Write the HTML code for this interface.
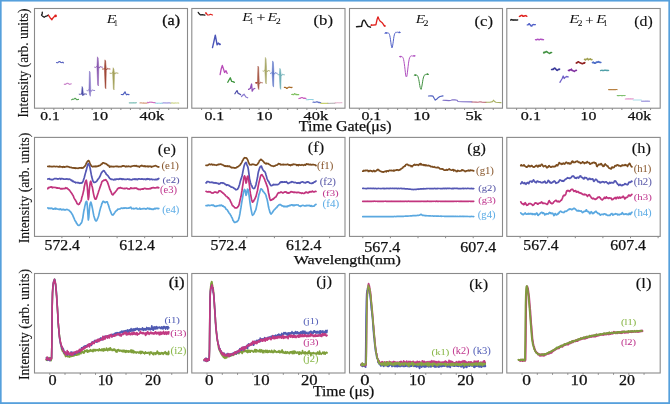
<!DOCTYPE html>
<html><head><meta charset="utf-8"><style>
html,body{margin:0;padding:0;background:#fff;overflow:hidden;}
svg{display:block;will-change:transform;font-family:"Liberation Serif",serif;}
</style></head><body>
<svg width="670" height="404" viewBox="0 0 670 404">
<rect x="0" y="0" width="670" height="404" fill="#ffffff"/>
<rect x="34.5" y="8.5" width="153.00" height="99.70" fill="#fff" stroke="#8a8a8a" stroke-width="1.1"/>
<line x1="44.30" y1="108.2" x2="44.30" y2="110.0" stroke="#8a8a8a" stroke-width="1"/>
<line x1="53.87" y1="108.2" x2="53.87" y2="110.0" stroke="#8a8a8a" stroke-width="1"/>
<line x1="63.44" y1="108.2" x2="63.44" y2="110.0" stroke="#8a8a8a" stroke-width="1"/>
<line x1="73.01" y1="108.2" x2="73.01" y2="110.0" stroke="#8a8a8a" stroke-width="1"/>
<line x1="82.58" y1="108.2" x2="82.58" y2="110.0" stroke="#8a8a8a" stroke-width="1"/>
<line x1="92.15" y1="108.2" x2="92.15" y2="110.0" stroke="#8a8a8a" stroke-width="1"/>
<line x1="101.72" y1="108.2" x2="101.72" y2="110.0" stroke="#8a8a8a" stroke-width="1"/>
<line x1="111.29" y1="108.2" x2="111.29" y2="110.0" stroke="#8a8a8a" stroke-width="1"/>
<line x1="120.86" y1="108.2" x2="120.86" y2="110.0" stroke="#8a8a8a" stroke-width="1"/>
<line x1="130.43" y1="108.2" x2="130.43" y2="110.0" stroke="#8a8a8a" stroke-width="1"/>
<line x1="140.00" y1="108.2" x2="140.00" y2="110.0" stroke="#8a8a8a" stroke-width="1"/>
<line x1="149.57" y1="108.2" x2="149.57" y2="110.0" stroke="#8a8a8a" stroke-width="1"/>
<line x1="159.14" y1="108.2" x2="159.14" y2="110.0" stroke="#8a8a8a" stroke-width="1"/>
<line x1="168.71" y1="108.2" x2="168.71" y2="110.0" stroke="#8a8a8a" stroke-width="1"/>
<line x1="178.28" y1="108.2" x2="178.28" y2="110.0" stroke="#8a8a8a" stroke-width="1"/>
<rect x="191.8" y="8.5" width="153.20" height="99.70" fill="#fff" stroke="#8a8a8a" stroke-width="1.1"/>
<line x1="201.60" y1="108.2" x2="201.60" y2="110.0" stroke="#8a8a8a" stroke-width="1"/>
<line x1="211.17" y1="108.2" x2="211.17" y2="110.0" stroke="#8a8a8a" stroke-width="1"/>
<line x1="220.74" y1="108.2" x2="220.74" y2="110.0" stroke="#8a8a8a" stroke-width="1"/>
<line x1="230.31" y1="108.2" x2="230.31" y2="110.0" stroke="#8a8a8a" stroke-width="1"/>
<line x1="239.88" y1="108.2" x2="239.88" y2="110.0" stroke="#8a8a8a" stroke-width="1"/>
<line x1="249.45" y1="108.2" x2="249.45" y2="110.0" stroke="#8a8a8a" stroke-width="1"/>
<line x1="259.02" y1="108.2" x2="259.02" y2="110.0" stroke="#8a8a8a" stroke-width="1"/>
<line x1="268.59" y1="108.2" x2="268.59" y2="110.0" stroke="#8a8a8a" stroke-width="1"/>
<line x1="278.16" y1="108.2" x2="278.16" y2="110.0" stroke="#8a8a8a" stroke-width="1"/>
<line x1="287.73" y1="108.2" x2="287.73" y2="110.0" stroke="#8a8a8a" stroke-width="1"/>
<line x1="297.30" y1="108.2" x2="297.30" y2="110.0" stroke="#8a8a8a" stroke-width="1"/>
<line x1="306.87" y1="108.2" x2="306.87" y2="110.0" stroke="#8a8a8a" stroke-width="1"/>
<line x1="316.44" y1="108.2" x2="316.44" y2="110.0" stroke="#8a8a8a" stroke-width="1"/>
<line x1="326.01" y1="108.2" x2="326.01" y2="110.0" stroke="#8a8a8a" stroke-width="1"/>
<line x1="335.58" y1="108.2" x2="335.58" y2="110.0" stroke="#8a8a8a" stroke-width="1"/>
<rect x="349.5" y="8.5" width="153.00" height="99.70" fill="#fff" stroke="#8a8a8a" stroke-width="1.1"/>
<line x1="359.30" y1="108.2" x2="359.30" y2="110.0" stroke="#8a8a8a" stroke-width="1"/>
<line x1="368.87" y1="108.2" x2="368.87" y2="110.0" stroke="#8a8a8a" stroke-width="1"/>
<line x1="378.44" y1="108.2" x2="378.44" y2="110.0" stroke="#8a8a8a" stroke-width="1"/>
<line x1="388.01" y1="108.2" x2="388.01" y2="110.0" stroke="#8a8a8a" stroke-width="1"/>
<line x1="397.58" y1="108.2" x2="397.58" y2="110.0" stroke="#8a8a8a" stroke-width="1"/>
<line x1="407.15" y1="108.2" x2="407.15" y2="110.0" stroke="#8a8a8a" stroke-width="1"/>
<line x1="416.72" y1="108.2" x2="416.72" y2="110.0" stroke="#8a8a8a" stroke-width="1"/>
<line x1="426.29" y1="108.2" x2="426.29" y2="110.0" stroke="#8a8a8a" stroke-width="1"/>
<line x1="435.86" y1="108.2" x2="435.86" y2="110.0" stroke="#8a8a8a" stroke-width="1"/>
<line x1="445.43" y1="108.2" x2="445.43" y2="110.0" stroke="#8a8a8a" stroke-width="1"/>
<line x1="455.00" y1="108.2" x2="455.00" y2="110.0" stroke="#8a8a8a" stroke-width="1"/>
<line x1="464.57" y1="108.2" x2="464.57" y2="110.0" stroke="#8a8a8a" stroke-width="1"/>
<line x1="474.14" y1="108.2" x2="474.14" y2="110.0" stroke="#8a8a8a" stroke-width="1"/>
<line x1="483.71" y1="108.2" x2="483.71" y2="110.0" stroke="#8a8a8a" stroke-width="1"/>
<line x1="493.28" y1="108.2" x2="493.28" y2="110.0" stroke="#8a8a8a" stroke-width="1"/>
<rect x="506.8" y="8.5" width="153.40" height="99.70" fill="#fff" stroke="#8a8a8a" stroke-width="1.1"/>
<line x1="516.60" y1="108.2" x2="516.60" y2="110.0" stroke="#8a8a8a" stroke-width="1"/>
<line x1="526.17" y1="108.2" x2="526.17" y2="110.0" stroke="#8a8a8a" stroke-width="1"/>
<line x1="535.74" y1="108.2" x2="535.74" y2="110.0" stroke="#8a8a8a" stroke-width="1"/>
<line x1="545.31" y1="108.2" x2="545.31" y2="110.0" stroke="#8a8a8a" stroke-width="1"/>
<line x1="554.88" y1="108.2" x2="554.88" y2="110.0" stroke="#8a8a8a" stroke-width="1"/>
<line x1="564.45" y1="108.2" x2="564.45" y2="110.0" stroke="#8a8a8a" stroke-width="1"/>
<line x1="574.02" y1="108.2" x2="574.02" y2="110.0" stroke="#8a8a8a" stroke-width="1"/>
<line x1="583.59" y1="108.2" x2="583.59" y2="110.0" stroke="#8a8a8a" stroke-width="1"/>
<line x1="593.16" y1="108.2" x2="593.16" y2="110.0" stroke="#8a8a8a" stroke-width="1"/>
<line x1="602.73" y1="108.2" x2="602.73" y2="110.0" stroke="#8a8a8a" stroke-width="1"/>
<line x1="612.30" y1="108.2" x2="612.30" y2="110.0" stroke="#8a8a8a" stroke-width="1"/>
<line x1="621.87" y1="108.2" x2="621.87" y2="110.0" stroke="#8a8a8a" stroke-width="1"/>
<line x1="631.44" y1="108.2" x2="631.44" y2="110.0" stroke="#8a8a8a" stroke-width="1"/>
<line x1="641.01" y1="108.2" x2="641.01" y2="110.0" stroke="#8a8a8a" stroke-width="1"/>
<line x1="650.58" y1="108.2" x2="650.58" y2="110.0" stroke="#8a8a8a" stroke-width="1"/>
<rect x="34.5" y="137.4" width="153.00" height="99.00" fill="#fff" stroke="#8a8a8a" stroke-width="1.1"/>
<line x1="61.90" y1="236.4" x2="61.90" y2="238.20000000000002" stroke="#8a8a8a" stroke-width="1"/>
<line x1="89.50" y1="236.4" x2="89.50" y2="238.20000000000002" stroke="#8a8a8a" stroke-width="1"/>
<line x1="117.10" y1="236.4" x2="117.10" y2="238.20000000000002" stroke="#8a8a8a" stroke-width="1"/>
<line x1="144.70" y1="236.4" x2="144.70" y2="238.20000000000002" stroke="#8a8a8a" stroke-width="1"/>
<line x1="172.30" y1="236.4" x2="172.30" y2="238.20000000000002" stroke="#8a8a8a" stroke-width="1"/>
<rect x="191.8" y="137.4" width="153.20" height="99.00" fill="#fff" stroke="#8a8a8a" stroke-width="1.1"/>
<line x1="219.20" y1="236.4" x2="219.20" y2="238.20000000000002" stroke="#8a8a8a" stroke-width="1"/>
<line x1="246.80" y1="236.4" x2="246.80" y2="238.20000000000002" stroke="#8a8a8a" stroke-width="1"/>
<line x1="274.40" y1="236.4" x2="274.40" y2="238.20000000000002" stroke="#8a8a8a" stroke-width="1"/>
<line x1="302.00" y1="236.4" x2="302.00" y2="238.20000000000002" stroke="#8a8a8a" stroke-width="1"/>
<line x1="329.60" y1="236.4" x2="329.60" y2="238.20000000000002" stroke="#8a8a8a" stroke-width="1"/>
<rect x="349.5" y="137.4" width="153.00" height="99.00" fill="#fff" stroke="#8a8a8a" stroke-width="1.1"/>
<line x1="362.80" y1="236.4" x2="362.80" y2="238.20000000000002" stroke="#8a8a8a" stroke-width="1"/>
<line x1="390.40" y1="236.4" x2="390.40" y2="238.20000000000002" stroke="#8a8a8a" stroke-width="1"/>
<line x1="418.00" y1="236.4" x2="418.00" y2="238.20000000000002" stroke="#8a8a8a" stroke-width="1"/>
<line x1="445.60" y1="236.4" x2="445.60" y2="238.20000000000002" stroke="#8a8a8a" stroke-width="1"/>
<line x1="473.20" y1="236.4" x2="473.20" y2="238.20000000000002" stroke="#8a8a8a" stroke-width="1"/>
<rect x="506.8" y="137.4" width="153.40" height="99.00" fill="#fff" stroke="#8a8a8a" stroke-width="1.1"/>
<line x1="520.10" y1="236.4" x2="520.10" y2="238.20000000000002" stroke="#8a8a8a" stroke-width="1"/>
<line x1="547.70" y1="236.4" x2="547.70" y2="238.20000000000002" stroke="#8a8a8a" stroke-width="1"/>
<line x1="575.30" y1="236.4" x2="575.30" y2="238.20000000000002" stroke="#8a8a8a" stroke-width="1"/>
<line x1="602.90" y1="236.4" x2="602.90" y2="238.20000000000002" stroke="#8a8a8a" stroke-width="1"/>
<line x1="630.50" y1="236.4" x2="630.50" y2="238.20000000000002" stroke="#8a8a8a" stroke-width="1"/>
<line x1="658.10" y1="236.4" x2="658.10" y2="238.20000000000002" stroke="#8a8a8a" stroke-width="1"/>
<rect x="34.5" y="273.5" width="153.00" height="99.50" fill="#fff" stroke="#8a8a8a" stroke-width="1.1"/>
<line x1="49.75" y1="373.0" x2="49.75" y2="374.8" stroke="#8a8a8a" stroke-width="1"/>
<line x1="65.00" y1="373.0" x2="65.00" y2="374.8" stroke="#8a8a8a" stroke-width="1"/>
<line x1="80.25" y1="373.0" x2="80.25" y2="374.8" stroke="#8a8a8a" stroke-width="1"/>
<line x1="95.50" y1="373.0" x2="95.50" y2="374.8" stroke="#8a8a8a" stroke-width="1"/>
<line x1="110.75" y1="373.0" x2="110.75" y2="374.8" stroke="#8a8a8a" stroke-width="1"/>
<line x1="126.00" y1="373.0" x2="126.00" y2="374.8" stroke="#8a8a8a" stroke-width="1"/>
<line x1="141.25" y1="373.0" x2="141.25" y2="374.8" stroke="#8a8a8a" stroke-width="1"/>
<line x1="156.50" y1="373.0" x2="156.50" y2="374.8" stroke="#8a8a8a" stroke-width="1"/>
<line x1="171.75" y1="373.0" x2="171.75" y2="374.8" stroke="#8a8a8a" stroke-width="1"/>
<rect x="191.8" y="273.5" width="153.20" height="99.50" fill="#fff" stroke="#8a8a8a" stroke-width="1.1"/>
<line x1="207.05" y1="373.0" x2="207.05" y2="374.8" stroke="#8a8a8a" stroke-width="1"/>
<line x1="222.30" y1="373.0" x2="222.30" y2="374.8" stroke="#8a8a8a" stroke-width="1"/>
<line x1="237.55" y1="373.0" x2="237.55" y2="374.8" stroke="#8a8a8a" stroke-width="1"/>
<line x1="252.80" y1="373.0" x2="252.80" y2="374.8" stroke="#8a8a8a" stroke-width="1"/>
<line x1="268.05" y1="373.0" x2="268.05" y2="374.8" stroke="#8a8a8a" stroke-width="1"/>
<line x1="283.30" y1="373.0" x2="283.30" y2="374.8" stroke="#8a8a8a" stroke-width="1"/>
<line x1="298.55" y1="373.0" x2="298.55" y2="374.8" stroke="#8a8a8a" stroke-width="1"/>
<line x1="313.80" y1="373.0" x2="313.80" y2="374.8" stroke="#8a8a8a" stroke-width="1"/>
<line x1="329.05" y1="373.0" x2="329.05" y2="374.8" stroke="#8a8a8a" stroke-width="1"/>
<rect x="349.5" y="273.5" width="153.00" height="99.50" fill="#fff" stroke="#8a8a8a" stroke-width="1.1"/>
<line x1="364.75" y1="373.0" x2="364.75" y2="374.8" stroke="#8a8a8a" stroke-width="1"/>
<line x1="380.00" y1="373.0" x2="380.00" y2="374.8" stroke="#8a8a8a" stroke-width="1"/>
<line x1="395.25" y1="373.0" x2="395.25" y2="374.8" stroke="#8a8a8a" stroke-width="1"/>
<line x1="410.50" y1="373.0" x2="410.50" y2="374.8" stroke="#8a8a8a" stroke-width="1"/>
<line x1="425.75" y1="373.0" x2="425.75" y2="374.8" stroke="#8a8a8a" stroke-width="1"/>
<line x1="441.00" y1="373.0" x2="441.00" y2="374.8" stroke="#8a8a8a" stroke-width="1"/>
<line x1="456.25" y1="373.0" x2="456.25" y2="374.8" stroke="#8a8a8a" stroke-width="1"/>
<line x1="471.50" y1="373.0" x2="471.50" y2="374.8" stroke="#8a8a8a" stroke-width="1"/>
<line x1="486.75" y1="373.0" x2="486.75" y2="374.8" stroke="#8a8a8a" stroke-width="1"/>
<rect x="506.8" y="273.5" width="153.40" height="99.50" fill="#fff" stroke="#8a8a8a" stroke-width="1.1"/>
<line x1="522.05" y1="373.0" x2="522.05" y2="374.8" stroke="#8a8a8a" stroke-width="1"/>
<line x1="537.30" y1="373.0" x2="537.30" y2="374.8" stroke="#8a8a8a" stroke-width="1"/>
<line x1="552.55" y1="373.0" x2="552.55" y2="374.8" stroke="#8a8a8a" stroke-width="1"/>
<line x1="567.80" y1="373.0" x2="567.80" y2="374.8" stroke="#8a8a8a" stroke-width="1"/>
<line x1="583.05" y1="373.0" x2="583.05" y2="374.8" stroke="#8a8a8a" stroke-width="1"/>
<line x1="598.30" y1="373.0" x2="598.30" y2="374.8" stroke="#8a8a8a" stroke-width="1"/>
<line x1="613.55" y1="373.0" x2="613.55" y2="374.8" stroke="#8a8a8a" stroke-width="1"/>
<line x1="628.80" y1="373.0" x2="628.80" y2="374.8" stroke="#8a8a8a" stroke-width="1"/>
<line x1="644.05" y1="373.0" x2="644.05" y2="374.8" stroke="#8a8a8a" stroke-width="1"/>
<text transform="translate(28.3,117.6) rotate(-90)" font-size="15" fill="#111" stroke="#111" stroke-width="0.15" textLength="109.1" lengthAdjust="spacingAndGlyphs">Intensity (arb. units)</text>
<text transform="translate(28.5,243.3) rotate(-90)" font-size="15" fill="#111" stroke="#111" stroke-width="0.15" textLength="110.7" lengthAdjust="spacingAndGlyphs">Intensity (arb. units)</text>
<text transform="translate(29.3,380.0) rotate(-90)" font-size="15" fill="#111" stroke="#111" stroke-width="0.15" textLength="111.1" lengthAdjust="spacingAndGlyphs">Intensity (arb. units)</text>
<text transform="translate(106.66,22.80) scale(1.289,1)" font-size="12.15" font-style="italic" fill="#111" stroke="#111" stroke-width="0.0">E</text>
<text transform="translate(114.03,25.80) scale(0.943,1)" font-size="7.88" fill="#111" stroke="#111" stroke-width="0.05">1</text>
<text transform="translate(242.16,21.10) scale(1.306,1)" font-size="12.00" font-style="italic" fill="#111" stroke="#111" stroke-width="0.0">E</text>
<text transform="translate(249.83,24.00) scale(0.981,1)" font-size="7.58" fill="#111" stroke="#111" stroke-width="0.05">1</text>
<text transform="translate(256.41,22.09) scale(1.243,1)" font-size="12.67" fill="#111" stroke="#111" stroke-width="0.1">+</text>
<text transform="translate(267.56,21.10) scale(1.306,1)" font-size="12.00" font-style="italic" fill="#111" stroke="#111" stroke-width="0.0">E</text>
<text transform="translate(275.80,24.00) scale(1.320,1)" font-size="7.58" fill="#111" stroke="#111" stroke-width="0.05">2</text>
<text transform="translate(415.75,22.60) scale(1.311,1)" font-size="11.69" font-style="italic" fill="#111" stroke="#111" stroke-width="0.0">E</text>
<text transform="translate(423.60,25.80) scale(1.375,1)" font-size="7.27" fill="#111" stroke="#111" stroke-width="0.05">2</text>
<text transform="translate(569.16,23.10) scale(1.295,1)" font-size="12.62" font-style="italic" fill="#111" stroke="#111" stroke-width="0.0">E</text>
<text transform="translate(577.82,26.00) scale(1.280,1)" font-size="7.42" fill="#111" stroke="#111" stroke-width="0.05">2</text>
<text transform="translate(585.17,24.77) scale(1.101,1)" font-size="13.33" fill="#111" stroke="#111" stroke-width="0.1">+</text>
<text transform="translate(596.26,23.10) scale(1.242,1)" font-size="12.62" font-style="italic" fill="#111" stroke="#111" stroke-width="0.0">E</text>
<text transform="translate(603.58,26.00) scale(1.015,1)" font-size="7.88" fill="#111" stroke="#111" stroke-width="0.05">1</text>
<polyline points="42.30,12.10 42.20,13.90 41.50,15.10 42.30,15.90 44.20,17.30 45.60,16.30 47.00,15.80 48.40,15.20" fill="none" stroke="#1a1a1a" stroke-width="1.3" stroke-linejoin="round" stroke-linecap="round" opacity="1.0"/>
<polyline points="48.40,15.20 50.10,17.70 51.90,19.70 53.20,17.70 54.60,16.30 55.70,15.90" fill="none" stroke="#e0201c" stroke-width="1.3" stroke-linejoin="round" stroke-linecap="round" opacity="1.0"/>
<circle cx="55.6" cy="15.9" r="1.3" fill="#e0201c"/>
<polyline points="56.50,62.51 57.20,62.83 57.90,62.73 58.60,61.93 59.30,61.46 60.00,61.59 60.70,62.41 61.40,62.46 62.10,62.69 62.80,62.04 63.50,62.89" fill="none" stroke="#5a64c0" stroke-width="1.1" stroke-linejoin="round" stroke-linecap="round" opacity="1.0"/>
<polyline points="64.30,84.18 65.00,84.37 65.70,84.12 66.40,83.75 67.10,83.29 67.80,83.31 68.50,83.71 69.20,84.10 69.90,84.37 70.60,83.98 71.30,83.82" fill="none" stroke="#c77cc7" stroke-width="1.1" stroke-linejoin="round" stroke-linecap="round" opacity="1.0"/>
<polyline points="71.50,99.70 72.20,99.43 72.90,99.11 73.60,99.26 74.30,98.87 75.00,98.30 75.70,98.61 76.40,99.47 77.10,99.81 77.80,99.54 78.50,99.41" fill="none" stroke="#4ea04e" stroke-width="1.1" stroke-linejoin="round" stroke-linecap="round" opacity="1.0"/>
<polyline points="79.20,94.20 80.30,94.40 81.20,93.60 81.90,94.20" fill="none" stroke="#4b4ba6" stroke-width="0.9" stroke-linejoin="round" stroke-linecap="round" opacity="1.0"/>
<polyline points="83.10,94.20 83.90,95.10 84.70,93.50 85.50,94.00 86.60,94.20" fill="none" stroke="#4b4ba6" stroke-width="0.9" stroke-linejoin="round" stroke-linecap="round" opacity="1.0"/>
<polygon points="81.50,94.20 82.05,86.50 82.75,88.00 83.40,94.20 82.95,96.00 82.25,94.50" fill="#4b4ba6" stroke="#4b4ba6" stroke-width="0.5" stroke-linejoin="round"/>
<polyline points="87.00,90.50 87.70,90.70 88.60,89.90 89.30,90.50" fill="none" stroke="#8878c8" stroke-width="0.9" stroke-linejoin="round" stroke-linecap="round" opacity="1.0"/>
<polyline points="90.50,90.50 91.30,91.40 92.10,89.80 92.90,90.30 94.70,90.50" fill="none" stroke="#8878c8" stroke-width="0.9" stroke-linejoin="round" stroke-linecap="round" opacity="1.0"/>
<polygon points="88.90,90.50 89.45,71.00 90.15,72.50 90.80,90.50 90.35,96.30 89.65,94.80" fill="#8878c8" stroke="#8878c8" stroke-width="0.5" stroke-linejoin="round"/>
<polyline points="94.70,67.20 95.70,67.40 96.60,66.60 97.30,67.20" fill="none" stroke="#8a58b0" stroke-width="0.9" stroke-linejoin="round" stroke-linecap="round" opacity="1.0"/>
<polyline points="98.50,67.20 99.30,68.10 100.10,66.50 100.90,67.00 102.40,67.20" fill="none" stroke="#8a58b0" stroke-width="0.9" stroke-linejoin="round" stroke-linecap="round" opacity="1.0"/>
<polygon points="96.90,67.20 97.45,56.80 98.15,58.30 98.80,67.20 98.35,86.00 97.65,84.50" fill="#8a58b0" stroke="#8a58b0" stroke-width="0.5" stroke-linejoin="round"/>
<polyline points="102.40,69.00 103.20,69.20 104.10,68.40 104.80,69.00" fill="none" stroke="#a04838" stroke-width="0.9" stroke-linejoin="round" stroke-linecap="round" opacity="1.0"/>
<polyline points="106.00,69.00 106.80,69.90 107.60,68.30 108.40,68.80 110.00,69.00" fill="none" stroke="#a04838" stroke-width="0.9" stroke-linejoin="round" stroke-linecap="round" opacity="1.0"/>
<polygon points="104.40,69.00 104.95,59.80 105.65,61.30 106.30,69.00 105.85,88.80 105.15,87.30" fill="#a04838" stroke="#a04838" stroke-width="0.5" stroke-linejoin="round"/>
<polyline points="110.00,73.20 111.40,73.40 112.30,72.60 113.00,73.20" fill="none" stroke="#a4a25c" stroke-width="0.9" stroke-linejoin="round" stroke-linecap="round" opacity="1.0"/>
<polyline points="114.20,73.20 115.00,74.10 115.80,72.50 116.60,73.00 118.00,73.20" fill="none" stroke="#a4a25c" stroke-width="0.9" stroke-linejoin="round" stroke-linecap="round" opacity="1.0"/>
<polygon points="112.60,73.20 113.15,67.70 113.85,69.20 114.50,73.20 114.05,90.00 113.35,88.50" fill="#a4a25c" stroke="#a4a25c" stroke-width="0.5" stroke-linejoin="round"/>
<polyline points="121.30,94.50 123.00,94.60 124.30,93.00 125.00,91.80 125.70,93.50 126.50,94.80 127.50,94.30 129.00,94.60" fill="none" stroke="#5060c0" stroke-width="1.2" stroke-linejoin="round" stroke-linecap="round" opacity="1.0"/>
<polyline points="129.30,102.84 130.00,102.87 130.70,102.77 131.40,102.85 132.10,102.90 132.80,102.78 133.50,102.72 134.20,102.83 134.90,102.82 135.60,102.91 136.30,102.67" fill="none" stroke="#80c0b8" stroke-width="1.2" stroke-linejoin="round" stroke-linecap="round" opacity="1.0"/>
<polyline points="140.00,102.93 140.70,102.92 141.40,102.83 142.10,103.01 142.80,103.05 143.50,102.93 144.20,103.14 144.90,103.08 145.60,103.06 146.30,103.04 147.00,103.10" fill="none" stroke="#d8a080" stroke-width="1.2" stroke-linejoin="round" stroke-linecap="round" opacity="1.0"/>
<polyline points="147.50,102.44 148.20,102.66 148.90,102.60 149.60,102.18 150.30,102.24 151.00,102.07 151.70,102.29 152.40,102.34 153.10,102.53 153.80,102.63 154.50,102.49 155.20,102.67" fill="none" stroke="#d070c0" stroke-width="1.2" stroke-linejoin="round" stroke-linecap="round" opacity="1.0"/>
<polyline points="155.50,103.19 156.20,103.25 156.90,103.15 157.60,103.31 158.30,103.26 159.00,103.18 159.70,103.26 160.40,103.33 161.10,103.38 161.80,103.04 162.50,103.29" fill="none" stroke="#a0d8e8" stroke-width="1.2" stroke-linejoin="round" stroke-linecap="round" opacity="1.0"/>
<polyline points="163.00,102.95 163.70,102.89 164.40,102.80 165.10,103.03 165.80,102.77 166.50,102.96 167.20,103.03 167.90,102.74 168.60,102.87 169.30,102.77 170.00,102.92 170.70,103.05" fill="none" stroke="#a098e0" stroke-width="1.2" stroke-linejoin="round" stroke-linecap="round" opacity="1.0"/>
<polyline points="171.00,103.20 171.70,102.82 172.40,102.94 173.10,103.07 173.80,103.16 174.50,103.04 175.20,102.93 175.90,103.03 176.60,103.00 177.30,102.98 178.00,102.93 178.70,103.04" fill="none" stroke="#d0d890" stroke-width="1.2" stroke-linejoin="round" stroke-linecap="round" opacity="1.0"/>
<polyline points="198.20,12.30 199.20,13.80 200.50,15.00 202.00,14.60 203.50,14.80 205.00,15.20" fill="none" stroke="#1a1a1a" stroke-width="1.2" stroke-linejoin="round" stroke-linecap="round" opacity="1.0"/>
<polyline points="205.60,12.80 206.50,13.60 207.50,14.80 209.00,15.00 210.50,14.30 212.50,15.00" fill="none" stroke="#e0201c" stroke-width="1.2" stroke-linejoin="round" stroke-linecap="round" opacity="1.0"/>
<circle cx="206.3" cy="13.4" r="0.8" fill="#e0201c"/>
<polyline points="212.50,47.60 213.80,42.00 215.30,35.10 216.20,40.00 217.10,44.90 218.30,43.10 219.20,43.80 220.10,44.40" fill="none" stroke="#4b55b8" stroke-width="1.4" stroke-linejoin="round" stroke-linecap="round" opacity="1.0"/>
<circle cx="219.6" cy="44.2" r="1.0" fill="#4b55b8"/>
<polyline points="220.10,74.60 221.20,69.00 222.30,65.40 223.50,69.00 224.60,72.50 226.00,70.70 227.20,73.40" fill="none" stroke="#b84ab8" stroke-width="1.3" stroke-linejoin="round" stroke-linecap="round" opacity="1.0"/>
<polyline points="227.80,82.30 229.00,80.00 230.30,77.80 231.70,81.40 233.00,81.60 234.40,82.30" fill="none" stroke="#3f963f" stroke-width="1.3" stroke-linejoin="round" stroke-linecap="round" opacity="1.0"/>
<polyline points="234.90,93.80 236.00,92.00 237.00,90.60 238.20,93.50 239.40,93.80 240.60,94.70" fill="none" stroke="#4a4aa8" stroke-width="1.2" stroke-linejoin="round" stroke-linecap="round" opacity="1.0"/>
<polyline points="241.50,96.50 243.00,95.00 244.10,94.20 245.90,97.00 247.70,97.80" fill="none" stroke="#8a7ad0" stroke-width="1.2" stroke-linejoin="round" stroke-linecap="round" opacity="1.0"/>
<polyline points="248.60,89.40 250.30,88.50 251.60,84.00 252.20,91.20 253.40,89.00 254.80,88.50" fill="none" stroke="#9050b8" stroke-width="1.3" stroke-linejoin="round" stroke-linecap="round" opacity="1.0"/>
<polyline points="255.60,82.80 256.20,83.00 257.10,82.20 257.80,82.80" fill="none" stroke="#a85a48" stroke-width="0.9" stroke-linejoin="round" stroke-linecap="round" opacity="1.0"/>
<polyline points="259.00,82.80 259.80,83.70 260.60,82.10 261.40,82.60 262.40,82.80" fill="none" stroke="#a85a48" stroke-width="0.9" stroke-linejoin="round" stroke-linecap="round" opacity="1.0"/>
<polygon points="257.40,82.80 257.95,66.10 258.65,67.60 259.30,82.80 258.85,89.60 258.15,88.10" fill="#a85a48" stroke="#a85a48" stroke-width="0.5" stroke-linejoin="round"/>
<circle cx="256.3" cy="82.8" r="0.9" fill="#a83a30"/>
<polyline points="263.00,71.00 263.60,71.20 264.50,70.40 265.20,71.00" fill="none" stroke="#a8a868" stroke-width="0.9" stroke-linejoin="round" stroke-linecap="round" opacity="1.0"/>
<polyline points="266.40,71.00 267.20,71.90 268.00,70.30 268.80,70.80 269.80,71.00" fill="none" stroke="#a8a868" stroke-width="0.9" stroke-linejoin="round" stroke-linecap="round" opacity="1.0"/>
<polygon points="264.80,71.00 265.35,57.40 266.05,58.90 266.70,71.00 266.25,84.00 265.55,82.50" fill="#a8a868" stroke="#a8a868" stroke-width="0.5" stroke-linejoin="round"/>
<polyline points="270.40,73.30 270.90,73.50 271.80,72.70 272.50,73.30" fill="none" stroke="#6078c8" stroke-width="0.9" stroke-linejoin="round" stroke-linecap="round" opacity="1.0"/>
<polyline points="273.70,73.30 274.50,74.20 275.30,72.60 276.10,73.10 277.20,73.30" fill="none" stroke="#6078c8" stroke-width="0.9" stroke-linejoin="round" stroke-linecap="round" opacity="1.0"/>
<polygon points="272.10,73.30 272.65,60.90 273.35,62.40 274.00,73.30 273.55,87.10 272.85,85.60" fill="#6078c8" stroke="#6078c8" stroke-width="0.5" stroke-linejoin="round"/>
<polyline points="277.80,74.80 278.10,75.00 279.00,74.20 279.70,74.80" fill="none" stroke="#70b0b8" stroke-width="0.9" stroke-linejoin="round" stroke-linecap="round" opacity="1.0"/>
<polyline points="280.90,74.80 281.70,75.70 282.50,74.10 283.30,74.60 284.40,74.80" fill="none" stroke="#70b0b8" stroke-width="0.9" stroke-linejoin="round" stroke-linecap="round" opacity="1.0"/>
<polygon points="279.30,74.80 279.85,68.30 280.55,69.80 281.20,74.80 280.75,89.40 280.05,87.90" fill="#70b0b8" stroke="#70b0b8" stroke-width="0.5" stroke-linejoin="round"/>
<polyline points="284.40,87.35 285.10,87.29 285.80,87.47 286.50,88.44 287.20,88.38 287.90,87.62 288.60,87.27 289.30,87.08 290.00,87.50 290.70,87.38 291.40,87.62 292.10,87.31" fill="none" stroke="#a86a28" stroke-width="1.2" stroke-linejoin="round" stroke-linecap="round" opacity="1.0"/>
<polyline points="291.70,94.51 292.40,94.30 293.10,94.74 293.80,94.56 294.50,93.54 295.20,93.92 295.90,94.59 296.60,94.42 297.30,94.55 298.00,94.53 298.70,94.64" fill="none" stroke="#80c060" stroke-width="1.2" stroke-linejoin="round" stroke-linecap="round" opacity="1.0"/>
<polyline points="298.90,98.52 299.60,98.29 300.30,98.32 301.00,97.67 301.70,97.69 302.40,97.56 303.10,97.96 303.80,98.46 304.50,98.18 305.20,98.42 305.90,98.41" fill="none" stroke="#c860c0" stroke-width="1.2" stroke-linejoin="round" stroke-linecap="round" opacity="1.0"/>
<polyline points="306.20,99.76 306.90,99.70 307.60,99.72 308.30,99.59 309.00,99.52 309.70,99.51 310.40,99.54 311.10,99.46 311.80,99.53 312.50,99.59 313.20,99.63" fill="none" stroke="#90d0e0" stroke-width="1.1" stroke-linejoin="round" stroke-linecap="round" opacity="1.0"/>
<polyline points="313.00,102.25 313.70,102.01 314.40,102.28 315.10,102.25 315.80,102.10 316.50,101.79 317.20,101.84 317.90,102.11 318.60,102.59 319.30,102.41 320.00,102.57 320.70,102.62" fill="none" stroke="#6070c8" stroke-width="1.2" stroke-linejoin="round" stroke-linecap="round" opacity="1.0"/>
<polyline points="320.80,103.32 321.50,103.44 322.20,103.45 322.90,103.46 323.60,103.45 324.30,103.42 325.00,103.42 325.70,103.25 326.40,103.38 327.10,103.33 327.80,103.41" fill="none" stroke="#c8d070" stroke-width="1.2" stroke-linejoin="round" stroke-linecap="round" opacity="1.0"/>
<polyline points="328.00,103.26 328.70,103.35 329.40,103.37 330.10,103.32 330.80,103.33 331.50,103.31 332.20,103.26 332.90,103.29 333.60,103.26 334.30,103.33 335.00,103.30" fill="none" stroke="#a0a0a0" stroke-width="1.0" stroke-linejoin="round" stroke-linecap="round" opacity="1.0"/>
<polyline points="334.90,102.85 335.60,102.69 336.30,102.87 337.00,102.74 337.70,102.74 338.40,102.78 339.10,102.75 339.80,102.82 340.50,102.75 341.20,102.71 341.90,102.73" fill="none" stroke="#e0a0c0" stroke-width="1.0" stroke-linejoin="round" stroke-linecap="round" opacity="1.0"/>
<polyline points="356.50,26.70 359.00,26.50 361.60,26.30 362.20,23.00 362.80,21.00 364.00,20.10 365.00,21.00 366.30,23.60 368.10,26.30 370.50,27.20" fill="none" stroke="#1a1a1a" stroke-width="1.4" stroke-linejoin="round" stroke-linecap="round" opacity="1.0"/>
<polyline points="371.10,25.10 373.50,25.00 375.90,24.80 376.50,22.00 377.20,19.00 378.00,17.10 379.00,19.20 380.00,21.00 381.90,22.40 383.20,24.20 384.20,25.70 385.10,26.00" fill="none" stroke="#e0201c" stroke-width="1.3" stroke-linejoin="round" stroke-linecap="round" opacity="1.0"/>
<circle cx="371.6" cy="25.1" r="0.8" fill="#e0201c"/><circle cx="384.6" cy="25.8" r="0.9" fill="#e0201c"/><circle cx="378" cy="17.3" r="0.7" fill="#e0201c"/>
<polyline points="384.90,33.16 385.25,32.99 385.60,32.82 385.95,32.94 386.30,32.73 386.65,33.12 387.00,32.70 387.35,32.93 387.70,32.93 388.05,32.72 388.40,33.01 388.75,33.30 389.10,33.65 389.45,34.38 389.80,35.69 390.15,37.37 390.50,39.70 390.85,42.27 391.20,44.90 391.55,46.68 391.90,47.85 392.25,47.41 392.60,45.87 392.95,43.73 393.30,41.23 393.65,38.58 394.00,36.28 394.35,34.85 394.70,33.67 395.05,33.09 395.40,32.77 395.75,32.31 396.10,32.52 396.45,32.34 396.80,32.35 397.15,32.24 397.50,32.22 397.85,32.28 398.20,32.48 398.55,32.57 398.90,32.35 399.25,32.48 399.60,32.30 399.95,32.09 400.30,32.33" fill="none" stroke="#5060c8" stroke-width="1.0" stroke-linejoin="round" stroke-linecap="round" opacity="1.0"/>
<circle cx="386.10" cy="33.00" r="0.9" fill="#5060c8"/><circle cx="399.30" cy="32.30" r="0.9" fill="#5060c8"/>
<polyline points="399.40,56.65 399.75,56.53 400.10,56.60 400.45,56.61 400.80,56.43 401.15,56.35 401.50,56.52 401.85,56.58 402.20,56.70 402.55,57.13 402.90,57.70 403.25,58.25 403.60,59.61 403.95,61.37 404.30,63.61 404.65,66.39 405.00,69.22 405.35,72.31 405.70,74.97 406.05,76.51 406.40,76.93 406.75,76.45 407.10,74.81 407.45,72.16 407.80,69.06 408.15,66.27 408.50,63.16 408.85,61.07 409.20,59.23 409.55,57.83 409.90,57.28 410.25,56.66 410.60,56.17 410.95,56.21 411.30,55.99 411.65,55.76 412.00,55.88 412.35,55.97 412.70,55.99 413.05,55.92 413.40,55.89 413.75,55.93 414.10,55.83 414.45,55.98 414.80,55.84 415.15,55.84" fill="none" stroke="#b050c0" stroke-width="1.0" stroke-linejoin="round" stroke-linecap="round" opacity="1.0"/>
<circle cx="400.60" cy="56.60" r="0.9" fill="#b050c0"/><circle cx="414.10" cy="55.80" r="0.9" fill="#b050c0"/>
<polyline points="414.20,75.27 414.55,75.04 414.90,75.05 415.25,75.30 415.60,75.13 415.95,75.05 416.30,75.14 416.65,75.11 417.00,75.36 417.35,75.54 417.70,76.17 418.05,76.74 418.40,78.24 418.75,79.54 419.10,81.27 419.45,83.51 419.80,85.57 420.15,87.44 420.50,88.55 420.85,89.24 421.20,89.31 421.55,87.60 421.90,86.07 422.25,83.92 422.60,81.83 422.95,79.60 423.30,78.00 423.65,76.89 424.00,75.89 424.35,75.46 424.70,74.77 425.05,74.64 425.40,74.83 425.75,74.31 426.10,74.25 426.45,74.32 426.80,74.30 427.15,74.38 427.50,74.28 427.85,74.15 428.20,74.25 428.55,74.52" fill="none" stroke="#409040" stroke-width="1.0" stroke-linejoin="round" stroke-linecap="round" opacity="1.0"/>
<circle cx="415.40" cy="75.20" r="0.9" fill="#409040"/><circle cx="427.50" cy="74.20" r="0.9" fill="#409040"/>
<polyline points="428.50,96.00 431.00,95.80 433.00,96.20 434.30,98.50 435.30,100.10 436.50,99.30 438.00,97.80 440.00,96.50 443.00,95.80" fill="none" stroke="#5060c0" stroke-width="1.2" stroke-linejoin="round" stroke-linecap="round" opacity="1.0"/>
<polyline points="443.00,100.30 446.00,100.40 449.00,100.60 451.00,100.20 452.50,99.80 455.00,99.90 457.00,100.20 458.00,101.50 462.00,101.80 472.00,101.90" fill="none" stroke="#8070c8" stroke-width="1.1" stroke-linejoin="round" stroke-linecap="round" opacity="1.0"/>
<polyline points="472.00,102.00 476.00,102.10 478.00,102.20 480.00,101.80 482.00,102.10 486.00,102.40" fill="none" stroke="#c07080" stroke-width="1.1" stroke-linejoin="round" stroke-linecap="round" opacity="1.0"/>
<polyline points="486.00,102.30 490.00,102.30 492.50,101.60 493.50,100.20 494.50,101.50 496.00,102.30 501.00,102.60" fill="none" stroke="#a8b060" stroke-width="1.1" stroke-linejoin="round" stroke-linecap="round" opacity="1.0"/>
<polyline points="510.70,20.09 511.20,19.48 511.70,19.88 512.20,19.77 512.70,19.99 513.20,19.87 513.70,20.19 514.20,20.04 514.70,20.03 515.20,19.93 515.70,19.89 516.20,19.95 516.70,20.09 517.20,19.98 517.70,19.85" fill="none" stroke="#1a1a1a" stroke-width="1.4" stroke-linejoin="round" stroke-linecap="round" opacity="1.0"/>
<polyline points="519.40,16.45 519.90,16.22 520.40,16.06 520.90,15.59 521.40,15.30 521.90,15.45 522.40,15.42 522.90,16.37 523.40,16.30 523.90,16.07 524.40,16.07 524.90,15.70 525.40,15.81 525.90,15.54 526.40,16.13 526.90,16.30" fill="none" stroke="#e0201c" stroke-width="1.4" stroke-linejoin="round" stroke-linecap="round" opacity="1.0"/>
<polyline points="527.30,24.92 527.80,24.90 528.30,24.61 528.80,23.80 529.30,23.64 529.80,24.54 530.30,24.83 530.80,25.66 531.30,26.10 531.80,26.08 532.30,25.03 532.80,24.89 533.30,24.54 533.80,24.67 534.30,24.69 534.80,24.58 535.30,24.66" fill="none" stroke="#5060c8" stroke-width="1.4" stroke-linejoin="round" stroke-linecap="round" opacity="1.0"/>
<polyline points="535.50,39.70 536.00,39.85 536.50,39.79 537.00,39.49 537.50,39.24 538.00,39.55 538.50,39.34 539.00,39.79 539.50,39.75 540.00,39.48 540.50,39.21 541.00,39.22 541.50,39.41 542.00,39.72 542.50,39.43 543.00,39.58 543.50,39.68" fill="none" stroke="#b050c0" stroke-width="1.4" stroke-linejoin="round" stroke-linecap="round" opacity="1.0"/>
<polyline points="543.60,52.92 544.10,52.12 544.60,52.65 545.10,52.31 545.60,52.11 546.10,51.39 546.60,51.39 547.10,52.01 547.60,52.29 548.10,52.66 548.60,52.95 549.10,53.11 549.60,53.50 550.10,53.07 550.60,52.62 551.10,52.63 551.60,52.56" fill="none" stroke="#409040" stroke-width="1.5" stroke-linejoin="round" stroke-linecap="round" opacity="1.0"/>
<polyline points="551.60,69.55 552.10,69.39 552.60,69.25 553.10,69.48 553.60,68.93 554.10,68.38 554.60,68.04 555.10,68.33 555.60,68.90 556.10,69.40 556.60,70.12 557.10,70.37 557.60,70.00 558.10,69.85 558.60,69.24 559.10,69.45 559.60,69.16" fill="none" stroke="#3a3a9a" stroke-width="1.6" stroke-linejoin="round" stroke-linecap="round" opacity="1.0"/>
<polyline points="559.90,82.30 561.00,80.50 562.20,78.50 563.20,76.00 564.20,78.50 565.30,77.20 566.50,76.50 568.20,76.80" fill="none" stroke="#7060c8" stroke-width="1.3" stroke-linejoin="round" stroke-linecap="round" opacity="1.0"/>
<polyline points="568.40,70.35 568.90,70.61 569.40,70.48 569.90,69.88 570.40,69.84 570.90,69.75 571.40,69.20 571.90,70.39 572.40,70.31 572.90,70.62 573.40,71.01 573.90,71.00 574.40,71.43 574.90,70.96 575.40,70.51 575.90,70.55 576.40,70.30" fill="none" stroke="#8030a0" stroke-width="1.6" stroke-linejoin="round" stroke-linecap="round" opacity="1.0"/>
<polyline points="576.30,62.92 576.80,63.11 577.30,62.35 577.80,62.12 578.30,61.78 578.80,62.02 579.30,62.58 579.80,62.67 580.30,62.82 580.80,63.18 581.30,63.25 581.80,63.51 582.30,63.75 582.80,63.61 583.30,63.13 583.80,62.97 584.30,63.12 584.80,62.62" fill="none" stroke="#902020" stroke-width="1.6" stroke-linejoin="round" stroke-linecap="round" opacity="1.0"/>
<polyline points="584.50,59.50 585.00,59.23 585.50,60.08 586.00,59.55 586.50,59.13 587.00,58.85 587.50,58.47 588.00,59.55 588.50,59.87 589.00,59.21 589.50,59.33 590.00,59.18 590.50,58.77 591.00,59.63 591.50,59.82 592.00,59.56" fill="none" stroke="#a0a050" stroke-width="1.5" stroke-linejoin="round" stroke-linecap="round" opacity="1.0"/>
<polyline points="592.40,62.48 592.90,62.70 593.40,62.14 593.90,62.68 594.40,63.21 594.90,62.88 595.40,63.32 595.90,62.65 596.40,62.04 596.90,62.45 597.40,62.10 597.90,62.13 598.40,61.52 598.90,62.19 599.40,62.06 599.90,62.53 600.40,62.34 600.90,62.42" fill="none" stroke="#5070c8" stroke-width="1.5" stroke-linejoin="round" stroke-linecap="round" opacity="1.0"/>
<polyline points="600.60,70.64 601.10,70.44 601.60,70.32 602.10,70.15 602.60,70.63 603.10,70.55 603.60,70.33 604.10,70.45 604.60,70.19 605.10,70.20 605.60,70.23 606.10,70.47 606.60,70.46 607.10,70.25 607.60,70.55 608.10,70.56 608.60,70.43" fill="none" stroke="#50a0a8" stroke-width="1.4" stroke-linejoin="round" stroke-linecap="round" opacity="1.0"/>
<polyline points="608.60,89.65 609.10,89.59 609.60,89.59 610.10,89.62 610.60,89.60 611.10,89.64 611.60,89.54 612.10,89.67 612.60,89.56 613.10,89.59 613.60,89.53 614.10,89.63 614.60,89.66 615.10,89.65 615.60,89.64 616.10,89.52 616.60,89.56 617.10,89.58" fill="none" stroke="#b88040" stroke-width="1.1" stroke-linejoin="round" stroke-linecap="round" opacity="1.0"/>
<polyline points="617.20,95.55 617.70,95.66 618.20,95.61 618.70,95.60 619.20,95.62 619.70,95.55 620.20,95.55 620.70,95.56 621.20,95.62 621.70,95.62 622.20,95.63 622.70,95.65 623.20,95.53 623.70,95.57 624.20,95.61 624.70,95.53 625.20,95.57" fill="none" stroke="#80c070" stroke-width="1.1" stroke-linejoin="round" stroke-linecap="round" opacity="1.0"/>
<polyline points="625.30,98.95 625.80,98.96 626.30,98.95 626.80,98.90 627.30,98.89 627.80,98.95 628.30,98.88 628.80,98.92 629.30,98.97 629.80,98.88 630.30,98.87 630.80,98.90 631.30,98.93 631.80,98.92 632.30,98.91 632.80,98.93 633.30,98.82" fill="none" stroke="#e090c8" stroke-width="1.1" stroke-linejoin="round" stroke-linecap="round" opacity="1.0"/>
<polyline points="633.30,99.96 633.80,100.01 634.30,99.95 634.80,99.93 635.30,99.94 635.80,99.95 636.30,99.99 636.80,99.95 637.30,100.01 637.80,100.08 638.30,99.99 638.80,100.06 639.30,100.01 639.80,99.94 640.30,99.99 640.80,99.95 641.30,100.04" fill="none" stroke="#a8dce8" stroke-width="1.1" stroke-linejoin="round" stroke-linecap="round" opacity="1.0"/>
<polyline points="641.60,101.14 642.10,101.27 642.60,101.23 643.10,101.10 643.60,101.24 644.10,101.28 644.60,101.16 645.10,101.25 645.60,101.11 646.10,101.21 646.60,101.12 647.10,101.22 647.60,101.11 648.10,101.07 648.60,101.22 649.10,101.31 649.60,101.17" fill="none" stroke="#9088d8" stroke-width="1.1" stroke-linejoin="round" stroke-linecap="round" opacity="1.0"/>
<polyline points="47.80,166.47 48.30,166.54 48.80,166.41 49.30,166.08 49.80,166.55 50.30,166.51 50.80,166.39 51.30,166.66 51.80,166.61 52.30,166.55 52.80,166.47 53.30,166.58 53.80,166.36 54.30,166.49 54.80,166.43 55.30,166.63 55.80,166.53 56.30,166.51 56.80,166.47 57.30,166.63 57.80,166.71 58.30,166.66 58.80,166.96 59.30,166.90 59.80,166.19 60.30,166.41 60.80,166.80 61.30,166.77 61.80,166.91 62.30,166.90 62.80,167.27 63.30,166.61 63.80,166.74 64.30,167.23 64.80,166.97 65.30,166.98 65.80,166.72 66.30,166.43 66.80,166.72 67.30,166.66 67.80,166.42 68.30,166.65 68.80,166.95 69.30,166.98 69.80,167.32 70.30,167.45 70.80,167.47 71.30,167.40 71.80,167.71 72.30,167.91 72.80,167.95 73.30,167.81 73.80,168.15 74.30,167.89 74.80,168.18 75.30,167.84 75.80,168.34 76.30,168.24 76.80,168.05 77.30,168.25 77.80,168.31 78.30,168.34 78.80,168.04 79.30,167.92 79.80,168.05 80.30,167.81 80.80,167.93 81.30,168.07 81.80,167.63 82.30,167.98 82.80,168.05 83.30,167.52 83.80,167.03 84.30,166.86 84.80,166.20 85.30,165.66 85.80,164.59 86.30,163.27 86.80,162.45 87.30,161.55 87.80,161.08 88.30,160.62 88.80,160.63 89.30,161.55 89.80,162.87 90.30,164.06 90.80,165.02 91.30,165.87 91.80,166.35 92.30,166.61 92.80,166.79 93.30,166.58 93.80,166.43 94.30,166.38 94.80,166.68 95.30,166.09 95.80,166.57 96.30,166.59 96.80,166.22 97.30,166.44 97.80,166.05 98.30,166.13 98.80,165.70 99.30,165.67 99.80,165.64 100.30,165.33 100.80,164.74 101.30,164.10 101.80,164.21 102.30,163.38 102.80,162.88 103.30,162.90 103.80,162.96 104.30,163.36 104.80,163.33 105.30,163.48 105.80,163.56 106.30,164.07 106.80,164.11 107.30,164.85 107.80,165.45 108.30,165.30 108.80,165.60 109.30,166.60 109.80,167.11 110.30,166.38 110.80,166.30 111.30,166.65 111.80,166.38 112.30,166.51 112.80,166.60 113.30,166.80 113.80,166.57 114.30,166.62 114.80,166.47 115.30,166.33 115.80,166.46 116.30,166.36 116.80,166.55 117.30,166.30 117.80,166.31 118.30,166.84 118.80,166.56 119.30,166.56 119.80,166.67 120.30,166.50 120.80,166.53 121.30,166.58 121.80,166.41 122.30,165.97 122.80,166.25 123.30,165.92 123.80,165.87 124.30,166.01 124.80,166.23 125.30,166.74 125.80,166.27 126.30,166.61 126.80,166.16 127.30,166.53 127.80,166.60 128.30,166.28 128.80,166.17 129.30,166.39 129.80,166.54 130.30,166.57 130.80,166.83 131.30,166.44 131.80,166.21 132.30,166.17 132.80,166.03 133.30,165.95 133.80,165.87 134.30,165.93 134.80,165.59 135.30,166.11 135.80,165.81 136.30,165.70 136.80,166.12 137.30,166.37 137.80,166.33 138.30,166.38 138.80,166.24 139.30,167.03 139.80,166.56 140.30,165.96 140.80,165.80 141.30,165.80 141.80,165.40 142.30,165.79 142.80,165.78 143.30,166.29 143.80,166.41 144.30,165.80 144.80,166.40 145.30,166.06 145.80,166.58 146.30,166.36 146.80,166.42 147.30,166.12 147.80,166.73 148.30,166.79 148.80,166.18 149.30,166.48 149.80,166.31 150.30,166.52 150.80,166.36 151.30,167.06 151.80,166.51 152.30,166.58 152.80,166.61 153.30,166.24 153.80,166.18 154.30,165.99 154.80,165.94 155.30,165.64 155.80,165.78 156.30,165.97 156.80,166.21 157.30,166.58 157.80,166.72 158.30,167.04 158.80,166.86" fill="none" stroke="#7c4d1f" stroke-width="1.7" stroke-linejoin="round" stroke-linecap="round" opacity="1.0"/>
<polyline points="47.80,179.02 48.30,178.89 48.80,178.94 49.30,178.54 49.80,179.41 50.30,179.37 50.80,179.24 51.30,179.66 51.80,179.70 52.30,179.55 52.80,179.71 53.30,179.20 53.80,178.93 54.30,178.62 54.80,178.73 55.30,178.56 55.80,178.71 56.30,178.56 56.80,178.83 57.30,178.73 57.80,179.11 58.30,178.90 58.80,178.81 59.30,178.73 59.80,178.45 60.30,178.89 60.80,179.25 61.30,178.57 61.80,178.52 62.30,178.51 62.80,178.96 63.30,178.87 63.80,179.19 64.30,179.23 64.80,179.18 65.30,179.16 65.80,179.01 66.30,179.19 66.80,178.79 67.30,178.96 67.80,179.13 68.30,179.47 68.80,179.00 69.30,179.01 69.80,179.22 70.30,179.71 70.80,179.74 71.30,180.41 71.80,180.17 72.30,181.16 72.80,181.47 73.30,181.22 73.80,181.71 74.30,182.06 74.80,182.01 75.30,182.37 75.80,182.81 76.30,182.53 76.80,182.52 77.30,182.49 77.80,182.81 78.30,182.70 78.80,182.79 79.30,182.94 79.80,183.28 80.30,183.14 80.80,183.11 81.30,182.80 81.80,183.15 82.30,182.32 82.80,181.83 83.30,180.55 83.80,178.94 84.30,177.44 84.80,175.53 85.30,173.61 85.80,171.87 86.30,170.32 86.80,168.05 87.30,166.39 87.80,164.60 88.30,163.57 88.80,164.24 89.30,165.33 89.80,166.80 90.30,169.23 90.80,171.89 91.30,174.69 91.80,177.10 92.30,178.73 92.80,180.70 93.30,181.48 93.80,182.47 94.30,182.32 94.80,182.36 95.30,182.27 95.80,181.92 96.30,181.50 96.80,181.04 97.30,180.37 97.80,179.48 98.30,178.93 98.80,178.23 99.30,177.49 99.80,176.56 100.30,175.84 100.80,174.24 101.30,173.00 101.80,172.66 102.30,171.48 102.80,171.38 103.30,170.65 103.80,170.84 104.30,170.77 104.80,172.01 105.30,172.51 105.80,173.15 106.30,174.34 106.80,174.70 107.30,175.10 107.80,175.53 108.30,176.32 108.80,176.97 109.30,177.84 109.80,178.51 110.30,178.75 110.80,179.14 111.30,179.34 111.80,179.20 112.30,179.36 112.80,179.51 113.30,179.73 113.80,179.88 114.30,179.40 114.80,179.56 115.30,179.22 115.80,179.62 116.30,179.15 116.80,179.27 117.30,179.02 117.80,179.10 118.30,179.32 118.80,179.17 119.30,179.20 119.80,178.68 120.30,179.00 120.80,178.66 121.30,179.25 121.80,178.94 122.30,179.30 122.80,178.87 123.30,179.32 123.80,179.15 124.30,179.29 124.80,179.38 125.30,179.25 125.80,179.29 126.30,179.34 126.80,179.30 127.30,179.17 127.80,178.96 128.30,179.17 128.80,179.42 129.30,179.13 129.80,179.75 130.30,179.56 130.80,179.56 131.30,179.83 131.80,179.77 132.30,179.61 132.80,179.21 133.30,179.29 133.80,179.17 134.30,178.90 134.80,179.36 135.30,179.38 135.80,178.99 136.30,179.46 136.80,179.17 137.30,179.60 137.80,179.45 138.30,178.96 138.80,178.89 139.30,178.99 139.80,178.87 140.30,179.22 140.80,179.10 141.30,178.96 141.80,179.22 142.30,178.77 142.80,179.27 143.30,179.37 143.80,179.14 144.30,179.03 144.80,179.31 145.30,179.60 145.80,179.24 146.30,178.94 146.80,179.40 147.30,178.66 147.80,179.07 148.30,178.85 148.80,179.22 149.30,178.99 149.80,179.58 150.30,179.51 150.80,179.17 151.30,179.10 151.80,179.38 152.30,179.67 152.80,179.45 153.30,179.50 153.80,179.50 154.30,179.72 154.80,179.64 155.30,179.60 155.80,179.34 156.30,179.74 156.80,179.68 157.30,178.95 157.80,179.41 158.30,178.87 158.80,178.50" fill="none" stroke="#5457b4" stroke-width="1.7" stroke-linejoin="round" stroke-linecap="round" opacity="1.0"/>
<polyline points="47.80,188.78 48.30,187.63 48.80,187.90 49.30,187.43 49.80,187.31 50.30,187.27 50.80,186.83 51.30,187.11 51.80,186.95 52.30,187.85 52.80,187.35 53.30,187.38 53.80,187.51 54.30,187.49 54.80,187.40 55.30,187.49 55.80,187.69 56.30,187.66 56.80,188.06 57.30,187.92 57.80,187.95 58.30,188.22 58.80,188.10 59.30,188.08 59.80,188.36 60.30,188.63 60.80,188.97 61.30,188.58 61.80,188.65 62.30,188.93 62.80,188.51 63.30,188.53 63.80,188.67 64.30,188.56 64.80,188.43 65.30,188.52 65.80,187.74 66.30,188.42 66.80,188.04 67.30,188.10 67.80,188.85 68.30,189.36 68.80,189.63 69.30,190.00 69.80,190.73 70.30,191.28 70.80,192.20 71.30,192.78 71.80,193.42 72.30,194.39 72.80,195.05 73.30,195.93 73.80,197.32 74.30,198.41 74.80,199.21 75.30,199.92 75.80,201.01 76.30,201.40 76.80,202.96 77.30,203.76 77.80,203.96 78.30,204.58 78.80,204.28 79.30,204.17 79.80,202.85 80.30,202.13 80.80,201.37 81.30,199.98 81.80,197.60 82.30,196.08 82.80,194.33 83.30,192.10 83.80,190.00 84.30,186.69 84.80,184.48 85.30,182.18 85.80,180.97 86.30,180.20 86.80,182.79 87.30,186.77 87.80,194.07 88.30,199.60 88.80,196.91 89.30,189.90 89.80,185.56 90.30,182.20 90.80,181.26 91.30,182.70 91.80,185.39 92.30,186.94 92.80,189.74 93.30,192.62 93.80,195.10 94.30,197.13 94.80,198.41 95.30,199.16 95.80,199.25 96.30,198.53 96.80,197.07 97.30,195.50 97.80,194.00 98.30,192.53 98.80,190.80 99.30,189.53 99.80,187.92 100.30,186.68 100.80,185.10 101.30,183.73 101.80,182.00 102.30,181.30 102.80,180.89 103.30,180.88 103.80,180.15 104.30,180.33 104.80,180.05 105.30,180.14 105.80,179.58 106.30,180.45 106.80,181.09 107.30,181.69 107.80,183.10 108.30,184.54 108.80,186.03 109.30,187.58 109.80,189.30 110.30,190.16 110.80,191.46 111.30,192.45 111.80,193.92 112.30,194.58 112.80,194.92 113.30,194.16 113.80,193.74 114.30,192.88 114.80,192.66 115.30,191.95 115.80,191.33 116.30,190.77 116.80,190.25 117.30,189.20 117.80,188.40 118.30,188.16 118.80,188.36 119.30,187.85 119.80,187.82 120.30,187.68 120.80,187.65 121.30,188.09 121.80,188.25 122.30,188.21 122.80,188.42 123.30,188.53 123.80,188.66 124.30,188.40 124.80,188.60 125.30,188.61 125.80,188.28 126.30,188.25 126.80,188.21 127.30,188.46 127.80,188.90 128.30,188.83 128.80,188.96 129.30,189.06 129.80,188.78 130.30,188.70 130.80,187.77 131.30,188.36 131.80,188.18 132.30,188.35 132.80,188.44 133.30,188.38 133.80,188.31 134.30,188.14 134.80,188.45 135.30,188.03 135.80,188.01 136.30,188.24 136.80,188.14 137.30,188.93 137.80,188.95 138.30,189.41 138.80,189.19 139.30,189.29 139.80,189.47 140.30,189.54 140.80,189.15 141.30,189.19 141.80,188.98 142.30,189.25 142.80,188.77 143.30,189.06 143.80,188.62 144.30,188.44 144.80,188.44 145.30,188.37 145.80,188.68 146.30,188.89 146.80,188.71 147.30,188.77 147.80,188.98 148.30,188.78 148.80,188.87 149.30,188.82 149.80,188.50 150.30,188.83 150.80,188.11 151.30,188.33 151.80,187.92 152.30,187.94 152.80,187.62 153.30,187.51 153.80,187.88 154.30,187.83 154.80,187.97 155.30,187.98 155.80,187.84 156.30,187.69 156.80,187.45 157.30,187.56 157.80,187.26 158.30,187.80 158.80,187.71" fill="none" stroke="#c2347e" stroke-width="1.7" stroke-linejoin="round" stroke-linecap="round" opacity="1.0"/>
<polyline points="47.80,207.93 48.30,208.07 48.80,208.53 49.30,208.46 49.80,208.13 50.30,208.53 50.80,208.41 51.30,208.52 51.80,208.18 52.30,208.66 52.80,208.83 53.30,209.23 53.80,208.99 54.30,208.91 54.80,208.34 55.30,208.98 55.80,208.18 56.30,208.98 56.80,208.94 57.30,209.03 57.80,209.18 58.30,209.19 58.80,209.36 59.30,209.21 59.80,209.50 60.30,208.88 60.80,209.38 61.30,209.40 61.80,209.90 62.30,209.38 62.80,209.67 63.30,209.67 63.80,209.27 64.30,209.80 64.80,209.73 65.30,209.96 65.80,209.94 66.30,209.49 66.80,209.45 67.30,209.53 67.80,209.77 68.30,209.99 68.80,210.12 69.30,210.68 69.80,211.15 70.30,211.61 70.80,212.12 71.30,212.72 71.80,213.90 72.30,214.27 72.80,215.40 73.30,216.75 73.80,217.69 74.30,218.96 74.80,220.06 75.30,221.08 75.80,221.44 76.30,222.84 76.80,223.38 77.30,224.25 77.80,224.96 78.30,225.28 78.80,225.49 79.30,225.22 79.80,224.80 80.30,224.30 80.80,223.42 81.30,223.24 81.80,221.97 82.30,219.95 82.80,217.87 83.30,214.30 83.80,211.13 84.30,209.27 84.80,206.38 85.30,204.43 85.80,202.29 86.30,201.39 86.80,201.51 87.30,205.69 87.80,212.37 88.30,219.97 88.80,217.43 89.30,210.54 89.80,205.77 90.30,203.29 90.80,202.05 91.30,203.40 91.80,205.43 92.30,207.72 92.80,210.42 93.30,213.11 93.80,215.71 94.30,217.20 94.80,219.11 95.30,220.14 95.80,220.84 96.30,221.01 96.80,220.31 97.30,219.24 97.80,218.06 98.30,216.75 98.80,215.14 99.30,212.92 99.80,210.67 100.30,208.86 100.80,207.08 101.30,205.73 101.80,203.79 102.30,202.95 102.80,201.68 103.30,201.28 103.80,201.59 104.30,201.98 104.80,202.36 105.30,202.69 105.80,202.24 106.30,201.78 106.80,201.96 107.30,201.87 107.80,203.60 108.30,204.69 108.80,206.23 109.30,208.04 109.80,209.59 110.30,210.76 110.80,212.19 111.30,213.30 111.80,214.47 112.30,214.88 112.80,215.04 113.30,214.90 113.80,214.05 114.30,213.36 114.80,212.61 115.30,211.71 115.80,211.36 116.30,210.52 116.80,210.40 117.30,210.10 117.80,209.09 118.30,209.25 118.80,209.13 119.30,208.98 119.80,208.95 120.30,208.76 120.80,208.29 121.30,208.19 121.80,208.15 122.30,208.30 122.80,208.36 123.30,208.05 123.80,208.33 124.30,207.96 124.80,207.99 125.30,208.03 125.80,207.95 126.30,208.04 126.80,208.29 127.30,208.24 127.80,208.22 128.30,208.19 128.80,208.18 129.30,207.69 129.80,207.89 130.30,207.54 130.80,207.13 131.30,208.02 131.80,208.77 132.30,208.61 132.80,208.52 133.30,208.40 133.80,208.83 134.30,208.75 134.80,208.59 135.30,208.36 135.80,208.41 136.30,208.32 136.80,208.16 137.30,208.91 137.80,209.03 138.30,208.98 138.80,209.00 139.30,208.69 139.80,208.05 140.30,209.05 140.80,209.11 141.30,209.00 141.80,208.96 142.30,208.98 142.80,208.55 143.30,208.78 143.80,208.67 144.30,208.72 144.80,208.70 145.30,208.82 145.80,209.15 146.30,209.03 146.80,208.65 147.30,208.36 147.80,208.12 148.30,208.48 148.80,208.77 149.30,208.29 149.80,209.04 150.30,208.55 150.80,209.07 151.30,209.35 151.80,209.10 152.30,209.11 152.80,209.39 153.30,209.34 153.80,208.83 154.30,208.99 154.80,208.44 155.30,208.86 155.80,208.44 156.30,208.35 156.80,208.34 157.30,208.25 157.80,208.58 158.30,208.70 158.80,208.42" fill="none" stroke="#5aa8e0" stroke-width="1.7" stroke-linejoin="round" stroke-linecap="round" opacity="1.0"/>
<polyline points="206.00,165.39 206.50,165.28 207.00,165.40 207.50,165.33 208.00,165.19 208.50,164.70 209.00,164.34 209.50,164.15 210.00,164.40 210.50,164.61 211.00,164.42 211.50,164.19 212.00,164.30 212.50,164.90 213.00,164.75 213.50,164.49 214.00,164.89 214.50,164.71 215.00,164.88 215.50,165.02 216.00,165.07 216.50,165.30 217.00,165.02 217.50,164.69 218.00,164.71 218.50,164.71 219.00,164.18 219.50,164.39 220.00,164.15 220.50,164.27 221.00,164.09 221.50,164.48 222.00,164.64 222.50,164.83 223.00,164.98 223.50,165.46 224.00,165.64 224.50,165.82 225.00,166.23 225.50,165.94 226.00,166.35 226.50,166.25 227.00,165.78 227.50,166.35 228.00,166.14 228.50,166.38 229.00,166.40 229.50,166.10 230.00,166.67 230.50,166.94 231.00,167.45 231.50,167.27 232.00,167.84 232.50,167.57 233.00,167.71 233.50,167.55 234.00,167.94 234.50,167.74 235.00,168.13 235.50,167.79 236.00,167.81 236.50,167.65 237.00,167.08 237.50,166.83 238.00,166.80 238.50,166.18 239.00,165.96 239.50,165.49 240.00,165.09 240.50,164.26 241.00,163.61 241.50,162.85 242.00,161.83 242.50,160.65 243.00,160.12 243.50,158.96 244.00,158.32 244.50,157.74 245.00,158.01 245.50,157.88 246.00,157.92 246.50,158.07 247.00,158.70 247.50,159.43 248.00,160.79 248.50,162.42 249.00,163.27 249.50,164.42 250.00,164.89 250.50,164.74 251.00,164.65 251.50,164.79 252.00,164.39 252.50,164.28 253.00,164.20 253.50,164.51 254.00,164.49 254.50,164.71 255.00,164.80 255.50,165.11 256.00,165.21 256.50,165.12 257.00,164.86 257.50,164.13 258.00,163.45 258.50,162.98 259.00,161.79 259.50,160.46 260.00,160.36 260.50,159.63 261.00,159.33 261.50,160.00 262.00,160.26 262.50,160.58 263.00,161.04 263.50,161.51 264.00,162.29 264.50,163.00 265.00,163.11 265.50,163.49 266.00,163.86 266.50,163.23 267.00,163.54 267.50,163.52 268.00,163.56 268.50,163.82 269.00,164.31 269.50,164.67 270.00,164.78 270.50,165.23 271.00,165.63 271.50,165.73 272.00,165.96 272.50,165.98 273.00,166.09 273.50,166.40 274.00,166.12 274.50,165.92 275.00,165.88 275.50,165.35 276.00,165.23 276.50,165.23 277.00,164.95 277.50,164.86 278.00,164.20 278.50,163.53 279.00,163.98 279.50,163.87 280.00,163.80 280.50,164.74 281.00,164.81 281.50,164.52 282.00,164.67 282.50,164.47 283.00,164.77 283.50,164.29 284.00,164.48 284.50,164.59 285.00,164.64 285.50,164.52 286.00,164.65 286.50,164.67 287.00,164.49 287.50,164.22 288.00,164.36 288.50,164.87 289.00,164.92 289.50,165.07 290.00,164.87 290.50,165.51 291.00,165.18 291.50,164.68 292.00,164.97 292.50,164.97 293.00,164.10 293.50,164.33 294.00,164.29 294.50,164.50 295.00,164.41 295.50,164.47 296.00,164.61 296.50,165.14 297.00,165.37 297.50,164.95 298.00,164.86 298.50,165.49 299.00,164.68 299.50,164.77 300.00,164.98 300.50,165.13 301.00,165.21 301.50,165.00 302.00,164.70 302.50,165.01 303.00,165.02 303.50,165.38 304.00,164.99 304.50,164.70 305.00,164.71 305.50,165.09 306.00,164.48 306.50,163.92 307.00,164.05 307.50,164.11 308.00,164.42 308.50,164.11 309.00,164.59 309.50,164.69 310.00,164.38 310.50,164.44 311.00,164.80 311.50,164.79 312.00,164.64 312.50,164.58 313.00,164.81 313.50,164.65 314.00,164.77 314.50,164.73 315.00,164.99 315.50,165.02 316.00,165.60" fill="none" stroke="#7c4d1f" stroke-width="1.7" stroke-linejoin="round" stroke-linecap="round" opacity="1.0"/>
<polyline points="206.00,182.90 206.50,182.83 207.00,181.61 207.50,181.72 208.00,181.69 208.50,181.72 209.00,181.80 209.50,182.30 210.00,182.33 210.50,182.49 211.00,182.41 211.50,182.16 212.00,182.26 212.50,182.56 213.00,182.42 213.50,182.85 214.00,182.92 214.50,183.04 215.00,182.70 215.50,183.08 216.00,182.82 216.50,183.05 217.00,183.37 217.50,183.52 218.00,183.33 218.50,183.54 219.00,184.06 219.50,183.63 220.00,183.61 220.50,183.00 221.00,182.75 221.50,182.74 222.00,183.00 222.50,182.91 223.00,183.27 223.50,183.09 224.00,183.36 224.50,183.55 225.00,184.16 225.50,184.43 226.00,184.59 226.50,185.36 227.00,184.91 227.50,184.89 228.00,184.99 228.50,185.42 229.00,185.35 229.50,185.92 230.00,186.22 230.50,186.23 231.00,186.89 231.50,187.10 232.00,187.07 232.50,187.44 233.00,187.50 233.50,187.79 234.00,188.25 234.50,188.72 235.00,188.86 235.50,189.40 236.00,189.80 236.50,189.66 237.00,189.52 237.50,189.29 238.00,188.22 238.50,187.87 239.00,186.08 239.50,184.68 240.00,182.60 240.50,180.66 241.00,179.10 241.50,177.89 242.00,176.04 242.50,173.77 243.00,171.07 243.50,168.77 244.00,166.34 244.50,164.79 245.00,163.37 245.50,162.93 246.00,162.40 246.50,163.43 247.00,165.04 247.50,166.13 248.00,167.61 248.50,170.64 249.00,174.26 249.50,178.60 250.00,180.65 250.50,182.80 251.00,184.31 251.50,185.57 252.00,186.29 252.50,187.81 253.00,188.13 253.50,188.46 254.00,188.58 254.50,188.30 255.00,187.24 255.50,186.19 256.00,184.55 256.50,182.29 257.00,179.66 257.50,177.51 258.00,173.86 258.50,171.50 259.00,169.90 259.50,168.38 260.00,167.07 260.50,166.55 261.00,166.15 261.50,166.16 262.00,167.92 262.50,169.01 263.00,169.99 263.50,170.51 264.00,171.19 264.50,171.32 265.00,172.13 265.50,173.04 266.00,174.91 266.50,176.61 267.00,178.56 267.50,179.74 268.00,180.86 268.50,181.26 269.00,182.17 269.50,183.50 270.00,184.14 270.50,185.08 271.00,185.55 271.50,185.64 272.00,185.54 272.50,185.09 273.00,184.76 273.50,184.33 274.00,184.85 274.50,184.59 275.00,184.81 275.50,184.62 276.00,184.79 276.50,184.61 277.00,184.69 277.50,184.70 278.00,184.46 278.50,184.22 279.00,183.83 279.50,183.21 280.00,182.41 280.50,182.62 281.00,181.76 281.50,181.87 282.00,182.43 282.50,181.79 283.00,182.06 283.50,182.11 284.00,182.07 284.50,181.93 285.00,181.93 285.50,182.20 286.00,182.21 286.50,181.72 287.00,182.41 287.50,182.68 288.00,183.45 288.50,183.52 289.00,183.16 289.50,182.83 290.00,182.49 290.50,182.40 291.00,182.48 291.50,181.78 292.00,181.70 292.50,181.93 293.00,182.02 293.50,182.40 294.00,182.55 294.50,182.55 295.00,182.36 295.50,182.52 296.00,182.76 296.50,182.80 297.00,183.25 297.50,183.11 298.00,182.74 298.50,183.01 299.00,182.54 299.50,183.17 300.00,183.34 300.50,182.67 301.00,182.26 301.50,182.07 302.00,181.98 302.50,181.84 303.00,182.01 303.50,182.43 304.00,182.58 304.50,182.52 305.00,182.84 305.50,182.80 306.00,182.27 306.50,182.35 307.00,181.89 307.50,182.13 308.00,181.79 308.50,182.11 309.00,182.23 309.50,182.99 310.00,183.14 310.50,183.26 311.00,183.30 311.50,183.23 312.00,183.28 312.50,182.78 313.00,183.09 313.50,182.66 314.00,182.33 314.50,181.77 315.00,181.96 315.50,181.48 316.00,181.01" fill="none" stroke="#5457b4" stroke-width="1.7" stroke-linejoin="round" stroke-linecap="round" opacity="1.0"/>
<polyline points="206.00,191.35 206.50,191.62 207.00,191.79 207.50,191.85 208.00,191.93 208.50,191.67 209.00,191.72 209.50,191.94 210.00,191.71 210.50,191.96 211.00,192.54 211.50,192.88 212.00,193.09 212.50,192.95 213.00,193.03 213.50,192.95 214.00,192.29 214.50,192.27 215.00,191.91 215.50,192.13 216.00,192.21 216.50,192.71 217.00,192.59 217.50,192.82 218.00,192.52 218.50,191.95 219.00,190.89 219.50,190.80 220.00,190.73 220.50,191.01 221.00,191.22 221.50,191.98 222.00,192.25 222.50,192.55 223.00,193.25 223.50,193.30 224.00,193.94 224.50,194.61 225.00,194.83 225.50,195.47 226.00,196.05 226.50,196.51 227.00,196.65 227.50,197.32 228.00,198.04 228.50,197.96 229.00,198.92 229.50,199.32 230.00,199.93 230.50,201.47 231.00,202.42 231.50,203.27 232.00,204.59 232.50,205.48 233.00,205.85 233.50,206.42 234.00,206.68 234.50,207.29 235.00,207.87 235.50,207.73 236.00,208.01 236.50,207.83 237.00,207.78 237.50,207.18 238.00,206.73 238.50,205.98 239.00,204.88 239.50,203.05 240.00,200.41 240.50,198.37 241.00,196.59 241.50,193.51 242.00,190.49 242.50,186.92 243.00,183.82 243.50,180.34 244.00,177.10 244.50,175.85 245.00,176.94 245.50,179.37 246.00,183.09 246.50,182.26 247.00,178.32 247.50,176.32 248.00,176.20 248.50,178.58 249.00,182.10 249.50,185.72 250.00,190.41 250.50,193.91 251.00,196.53 251.50,199.20 252.00,200.90 252.50,202.12 253.00,201.76 253.50,201.30 254.00,200.17 254.50,199.70 255.00,198.52 255.50,197.46 256.00,196.35 256.50,194.35 257.00,192.38 257.50,190.50 258.00,187.37 258.50,184.72 259.00,182.38 259.50,180.42 260.00,178.37 260.50,176.37 261.00,175.12 261.50,174.74 262.00,174.70 262.50,175.53 263.00,176.31 263.50,176.95 264.00,178.18 264.50,179.03 265.00,180.62 265.50,181.80 266.00,183.17 266.50,184.41 267.00,185.91 267.50,187.15 268.00,189.68 268.50,192.75 269.00,194.74 269.50,197.62 270.00,199.07 270.50,200.33 271.00,199.87 271.50,200.05 272.00,199.71 272.50,199.09 273.00,199.30 273.50,198.96 274.00,198.24 274.50,197.83 275.00,197.52 275.50,196.98 276.00,196.85 276.50,195.75 277.00,194.94 277.50,193.90 278.00,193.21 278.50,192.64 279.00,192.97 279.50,192.62 280.00,192.70 280.50,192.27 281.00,191.96 281.50,192.14 282.00,192.44 282.50,192.92 283.00,192.97 283.50,192.79 284.00,192.19 284.50,191.95 285.00,192.25 285.50,191.76 286.00,191.79 286.50,192.32 287.00,192.90 287.50,192.72 288.00,193.22 288.50,193.14 289.00,192.72 289.50,192.91 290.00,192.41 290.50,192.09 291.00,191.67 291.50,191.84 292.00,191.77 292.50,192.11 293.00,192.15 293.50,192.19 294.00,192.60 294.50,192.10 295.00,192.25 295.50,192.33 296.00,192.45 296.50,192.56 297.00,192.75 297.50,192.41 298.00,192.29 298.50,192.29 299.00,192.60 299.50,192.66 300.00,192.83 300.50,192.88 301.00,192.87 301.50,193.32 302.00,193.22 302.50,192.95 303.00,193.19 303.50,193.41 304.00,193.46 304.50,193.28 305.00,192.64 305.50,192.67 306.00,191.92 306.50,192.35 307.00,192.42 307.50,192.64 308.00,192.86 308.50,192.67 309.00,191.96 309.50,191.69 310.00,192.09 310.50,191.65 311.00,191.76 311.50,191.83 312.00,191.25 312.50,191.16 313.00,191.74 313.50,191.85 314.00,191.86 314.50,191.88 315.00,191.57 315.50,191.29 316.00,191.46" fill="none" stroke="#c2347e" stroke-width="1.7" stroke-linejoin="round" stroke-linecap="round" opacity="1.0"/>
<polyline points="206.00,205.64 206.50,205.69 207.00,205.59 207.50,205.66 208.00,205.14 208.50,205.49 209.00,205.28 209.50,205.59 210.00,205.52 210.50,205.50 211.00,205.29 211.50,205.09 212.00,205.26 212.50,205.38 213.00,204.99 213.50,205.42 214.00,205.63 214.50,206.30 215.00,206.12 215.50,206.33 216.00,206.41 216.50,206.25 217.00,205.70 217.50,205.94 218.00,205.74 218.50,205.66 219.00,205.66 219.50,205.66 220.00,205.12 220.50,205.68 221.00,205.20 221.50,205.06 222.00,205.65 222.50,206.07 223.00,205.81 223.50,206.44 224.00,206.82 224.50,206.90 225.00,207.25 225.50,208.16 226.00,209.22 226.50,209.31 227.00,209.69 227.50,210.32 228.00,211.30 228.50,212.04 229.00,212.92 229.50,213.63 230.00,214.00 230.50,214.97 231.00,215.66 231.50,216.87 232.00,217.68 232.50,218.77 233.00,220.47 233.50,220.94 234.00,221.71 234.50,222.51 235.00,222.36 235.50,222.18 236.00,222.06 236.50,221.65 237.00,221.70 237.50,220.98 238.00,220.80 238.50,219.57 239.00,218.14 239.50,215.85 240.00,213.24 240.50,210.11 241.00,207.39 241.50,203.97 242.00,200.90 242.50,198.12 243.00,195.05 243.50,192.70 244.00,190.65 244.50,189.44 245.00,190.10 245.50,191.60 246.00,195.41 246.50,194.35 247.00,191.43 247.50,189.16 248.00,189.41 248.50,191.73 249.00,194.97 249.50,198.30 250.00,202.55 250.50,205.82 251.00,208.84 251.50,211.44 252.00,213.95 252.50,215.26 253.00,214.86 253.50,214.46 254.00,213.64 254.50,212.46 255.00,211.51 255.50,210.45 256.00,209.17 256.50,206.58 257.00,204.36 257.50,201.79 258.00,199.33 258.50,196.72 259.00,194.28 259.50,193.22 260.00,191.37 260.50,189.63 261.00,188.81 261.50,189.01 262.00,189.70 262.50,190.18 263.00,191.43 263.50,191.69 264.00,192.29 264.50,193.02 265.00,193.72 265.50,194.23 266.00,195.48 266.50,197.48 267.00,198.93 267.50,201.26 268.00,203.87 268.50,206.77 269.00,208.88 269.50,210.59 270.00,212.44 270.50,213.29 271.00,214.07 271.50,213.51 272.00,212.95 272.50,212.34 273.00,211.55 273.50,210.81 274.00,209.92 274.50,209.59 275.00,209.19 275.50,208.54 276.00,207.90 276.50,207.77 277.00,207.13 277.50,206.14 278.00,205.85 278.50,205.58 279.00,204.83 279.50,204.70 280.00,204.39 280.50,204.88 281.00,205.07 281.50,205.36 282.00,205.91 282.50,205.76 283.00,205.93 283.50,206.56 284.00,206.09 284.50,206.65 285.00,206.28 285.50,206.52 286.00,206.83 286.50,206.42 287.00,206.16 287.50,206.67 288.00,205.92 288.50,205.86 289.00,205.84 289.50,205.35 290.00,205.59 290.50,205.43 291.00,205.05 291.50,204.91 292.00,204.93 292.50,205.39 293.00,204.84 293.50,205.59 294.00,205.64 294.50,205.04 295.00,205.32 295.50,205.06 296.00,204.99 296.50,204.93 297.00,204.98 297.50,205.00 298.00,204.92 298.50,205.44 299.00,205.78 299.50,206.11 300.00,206.12 300.50,206.36 301.00,206.12 301.50,205.73 302.00,205.50 302.50,205.41 303.00,205.26 303.50,205.51 304.00,205.69 304.50,205.88 305.00,205.67 305.50,205.84 306.00,205.93 306.50,205.48 307.00,205.74 307.50,205.50 308.00,205.40 308.50,205.48 309.00,205.71 309.50,205.41 310.00,205.91 310.50,206.14 311.00,205.64 311.50,205.85 312.00,206.32 312.50,206.21 313.00,206.24 313.50,206.07 314.00,206.06 314.50,205.58 315.00,204.99 315.50,204.54 316.00,204.42" fill="none" stroke="#5aa8e0" stroke-width="1.7" stroke-linejoin="round" stroke-linecap="round" opacity="1.0"/>
<polyline points="362.75,171.19 363.25,171.18 363.75,170.39 364.25,170.77 364.75,170.78 365.25,170.34 365.75,170.60 366.25,170.55 366.75,170.36 367.25,170.37 367.75,170.37 368.25,171.41 368.75,170.94 369.25,171.29 369.75,170.70 370.25,170.60 370.75,170.50 371.25,171.17 371.75,170.89 372.25,171.59 372.75,171.09 373.25,171.02 373.75,170.43 374.25,171.49 374.75,171.16 375.25,171.24 375.75,171.38 376.25,170.54 376.75,170.47 377.25,169.57 377.75,169.80 378.25,169.59 378.75,169.90 379.25,170.72 379.75,170.72 380.25,171.24 380.75,171.23 381.25,171.64 381.75,171.82 382.25,171.83 382.75,171.93 383.25,172.17 383.75,171.87 384.25,171.68 384.75,171.47 385.25,171.47 385.75,171.21 386.25,171.81 386.75,170.96 387.25,170.89 387.75,171.07 388.25,171.33 388.75,170.95 389.25,170.49 389.75,170.28 390.25,170.30 390.75,170.69 391.25,170.34 391.75,170.64 392.25,170.48 392.75,170.73 393.25,170.79 393.75,170.18 394.25,170.92 394.75,170.38 395.25,170.33 395.75,170.20 396.25,170.12 396.75,169.90 397.25,169.90 397.75,169.96 398.25,170.45 398.75,170.05 399.25,170.05 399.75,169.66 400.25,169.67 400.75,169.43 401.25,168.54 401.75,168.39 402.25,168.19 402.75,167.82 403.25,166.79 403.75,166.75 404.25,166.42 404.75,165.92 405.25,166.04 405.75,164.75 406.25,164.51 406.75,164.38 407.25,164.31 407.75,164.48 408.25,165.18 408.75,165.38 409.25,165.35 409.75,165.53 410.25,165.51 410.75,165.53 411.25,166.60 411.75,165.87 412.25,166.50 412.75,165.65 413.25,165.41 413.75,164.91 414.25,164.90 414.75,164.44 415.25,165.13 415.75,165.01 416.25,164.94 416.75,164.59 417.25,164.78 417.75,164.85 418.25,165.34 418.75,164.92 419.25,164.10 419.75,164.68 420.25,163.58 420.75,164.62 421.25,163.98 421.75,164.66 422.25,164.98 422.75,164.82 423.25,164.64 423.75,165.41 424.25,164.90 424.75,165.11 425.25,165.71 425.75,164.91 426.25,165.14 426.75,165.56 427.25,165.64 427.75,165.76 428.25,165.51 428.75,165.40 429.25,165.74 429.75,165.92 430.25,166.11 430.75,166.66 431.25,166.62 431.75,166.66 432.25,166.52 432.75,166.93 433.25,167.24 433.75,167.05 434.25,166.74 434.75,167.26 435.25,167.53 435.75,167.47 436.25,167.48 436.75,167.77 437.25,167.75 437.75,167.21 438.25,167.77 438.75,167.65 439.25,168.10 439.75,168.61 440.25,169.01 440.75,168.93 441.25,168.79 441.75,168.94 442.25,169.21 442.75,168.88 443.25,169.29 443.75,169.79 444.25,170.24 444.75,170.12 445.25,170.14 445.75,170.14 446.25,169.85 446.75,169.55 447.25,170.16 447.75,170.01 448.25,169.53 448.75,169.39 449.25,168.90 449.75,169.65 450.25,169.68 450.75,169.78 451.25,170.22 451.75,170.24 452.25,170.00 452.75,169.64 453.25,169.66 453.75,170.90 454.25,170.10 454.75,170.26 455.25,170.54 455.75,170.67 456.25,171.57 456.75,171.28 457.25,171.45 457.75,170.36 458.25,170.79 458.75,170.83 459.25,170.96 459.75,171.09 460.25,171.03 460.75,170.94 461.25,170.67 461.75,169.99 462.25,170.44 462.75,169.97 463.25,170.40 463.75,170.50 464.25,170.91 464.75,171.03 465.25,171.55 465.75,171.40 466.25,170.91 466.75,170.94 467.25,170.58 467.75,170.56 468.25,170.69 468.75,170.25 469.25,170.87 469.75,170.41 470.25,170.60 470.75,170.22 471.25,170.27 471.75,170.49 472.25,170.50 472.75,170.42 473.25,170.93 473.75,170.96" fill="none" stroke="#7c4d1f" stroke-width="1.7" stroke-linejoin="round" stroke-linecap="round" opacity="1.0"/>
<polyline points="362.75,188.41 363.25,188.44 363.75,188.44 364.25,188.52 364.75,188.48 365.25,188.51 365.75,188.57 366.25,188.57 366.75,188.54 367.25,188.46 367.75,188.44 368.25,188.43 368.75,188.47 369.25,188.50 369.75,188.42 370.25,188.41 370.75,188.52 371.25,188.35 371.75,188.49 372.25,188.53 372.75,188.42 373.25,188.41 373.75,188.44 374.25,188.55 374.75,188.49 375.25,188.35 375.75,188.47 376.25,188.58 376.75,188.58 377.25,188.55 377.75,188.48 378.25,188.35 378.75,188.51 379.25,188.49 379.75,188.51 380.25,188.62 380.75,188.51 381.25,188.52 381.75,188.55 382.25,188.48 382.75,188.45 383.25,188.44 383.75,188.56 384.25,188.54 384.75,188.46 385.25,188.59 385.75,188.51 386.25,188.39 386.75,188.55 387.25,188.49 387.75,188.39 388.25,188.54 388.75,188.47 389.25,188.47 389.75,188.55 390.25,188.32 390.75,188.40 391.25,188.47 391.75,188.52 392.25,188.45 392.75,188.42 393.25,188.42 393.75,188.49 394.25,188.55 394.75,188.38 395.25,188.33 395.75,188.48 396.25,188.47 396.75,188.43 397.25,188.55 397.75,188.56 398.25,188.45 398.75,188.47 399.25,188.55 399.75,188.47 400.25,188.39 400.75,188.50 401.25,188.45 401.75,188.57 402.25,188.52 402.75,188.58 403.25,188.67 403.75,188.65 404.25,188.65 404.75,188.66 405.25,188.92 405.75,188.91 406.25,188.74 406.75,188.82 407.25,188.99 407.75,188.93 408.25,189.02 408.75,189.13 409.25,189.12 409.75,189.16 410.25,189.18 410.75,189.27 411.25,189.36 411.75,189.52 412.25,189.51 412.75,189.44 413.25,189.56 413.75,189.51 414.25,189.38 414.75,189.47 415.25,189.53 415.75,189.37 416.25,189.45 416.75,189.29 417.25,189.27 417.75,189.11 418.25,189.32 418.75,189.14 419.25,189.13 419.75,188.98 420.25,188.87 420.75,189.06 421.25,188.87 421.75,189.03 422.25,188.86 422.75,188.98 423.25,188.76 423.75,188.66 424.25,188.83 424.75,188.74 425.25,188.73 425.75,188.79 426.25,188.61 426.75,188.56 427.25,188.56 427.75,188.50 428.25,188.48 428.75,188.51 429.25,188.53 429.75,188.56 430.25,188.50 430.75,188.58 431.25,188.65 431.75,188.57 432.25,188.62 432.75,188.51 433.25,188.60 433.75,188.61 434.25,188.52 434.75,188.45 435.25,188.55 435.75,188.56 436.25,188.67 436.75,188.52 437.25,188.68 437.75,188.36 438.25,188.52 438.75,188.51 439.25,188.51 439.75,188.50 440.25,188.54 440.75,188.67 441.25,188.52 441.75,188.63 442.25,188.52 442.75,188.54 443.25,188.34 443.75,188.53 444.25,188.57 444.75,188.43 445.25,188.47 445.75,188.45 446.25,188.69 446.75,188.44 447.25,188.46 447.75,188.30 448.25,188.39 448.75,188.53 449.25,188.41 449.75,188.29 450.25,188.48 450.75,188.51 451.25,188.53 451.75,188.53 452.25,188.46 452.75,188.72 453.25,188.46 453.75,188.54 454.25,188.40 454.75,188.45 455.25,188.38 455.75,188.51 456.25,188.46 456.75,188.42 457.25,188.34 457.75,188.54 458.25,188.56 458.75,188.56 459.25,188.49 459.75,188.55 460.25,188.56 460.75,188.53 461.25,188.60 461.75,188.48 462.25,188.51 462.75,188.37 463.25,188.66 463.75,188.43 464.25,188.52 464.75,188.54 465.25,188.43 465.75,188.49 466.25,188.54 466.75,188.48 467.25,188.47 467.75,188.47 468.25,188.43 468.75,188.48 469.25,188.52 469.75,188.53 470.25,188.58 470.75,188.49 471.25,188.45 471.75,188.56 472.25,188.52 472.75,188.57 473.25,188.51 473.75,188.53" fill="none" stroke="#5457b4" stroke-width="1.7" stroke-linejoin="round" stroke-linecap="round" opacity="1.0"/>
<polyline points="362.75,201.30 363.25,201.37 363.75,201.36 364.25,201.27 364.75,201.29 365.25,201.27 365.75,201.33 366.25,201.30 366.75,201.34 367.25,201.21 367.75,201.38 368.25,201.30 368.75,201.33 369.25,201.29 369.75,201.28 370.25,201.32 370.75,201.34 371.25,201.29 371.75,201.29 372.25,201.33 372.75,201.26 373.25,201.22 373.75,201.32 374.25,201.27 374.75,201.20 375.25,201.26 375.75,201.28 376.25,201.24 376.75,201.23 377.25,201.30 377.75,201.34 378.25,201.29 378.75,201.26 379.25,201.32 379.75,201.34 380.25,201.28 380.75,201.33 381.25,201.35 381.75,201.29 382.25,201.26 382.75,201.32 383.25,201.31 383.75,201.35 384.25,201.24 384.75,201.27 385.25,201.26 385.75,201.21 386.25,201.31 386.75,201.33 387.25,201.26 387.75,201.37 388.25,201.34 388.75,201.33 389.25,201.32 389.75,201.35 390.25,201.23 390.75,201.33 391.25,201.33 391.75,201.21 392.25,201.32 392.75,201.29 393.25,201.34 393.75,201.28 394.25,201.30 394.75,201.32 395.25,201.26 395.75,201.33 396.25,201.29 396.75,201.32 397.25,201.27 397.75,201.35 398.25,201.33 398.75,201.29 399.25,201.33 399.75,201.36 400.25,201.39 400.75,201.22 401.25,201.34 401.75,201.32 402.25,201.30 402.75,201.25 403.25,201.36 403.75,201.24 404.25,201.33 404.75,201.37 405.25,201.22 405.75,201.28 406.25,201.23 406.75,201.31 407.25,201.38 407.75,201.40 408.25,201.21 408.75,201.27 409.25,201.34 409.75,201.38 410.25,201.32 410.75,201.26 411.25,201.31 411.75,201.30 412.25,201.29 412.75,201.26 413.25,201.32 413.75,201.32 414.25,201.30 414.75,201.29 415.25,201.24 415.75,201.28 416.25,201.36 416.75,201.29 417.25,201.23 417.75,201.37 418.25,201.33 418.75,201.41 419.25,201.30 419.75,201.28 420.25,201.23 420.75,201.37 421.25,201.43 421.75,201.26 422.25,201.27 422.75,201.33 423.25,201.26 423.75,201.29 424.25,201.28 424.75,201.31 425.25,201.35 425.75,201.30 426.25,201.35 426.75,201.28 427.25,201.32 427.75,201.19 428.25,201.23 428.75,201.34 429.25,201.27 429.75,201.33 430.25,201.33 430.75,201.37 431.25,201.34 431.75,201.35 432.25,201.29 432.75,201.27 433.25,201.26 433.75,201.28 434.25,201.24 434.75,201.27 435.25,201.30 435.75,201.31 436.25,201.28 436.75,201.20 437.25,201.30 437.75,201.31 438.25,201.35 438.75,201.33 439.25,201.27 439.75,201.26 440.25,201.40 440.75,201.34 441.25,201.39 441.75,201.41 442.25,201.26 442.75,201.32 443.25,201.32 443.75,201.33 444.25,201.33 444.75,201.31 445.25,201.31 445.75,201.22 446.25,201.29 446.75,201.26 447.25,201.31 447.75,201.28 448.25,201.33 448.75,201.34 449.25,201.32 449.75,201.32 450.25,201.30 450.75,201.28 451.25,201.29 451.75,201.28 452.25,201.32 452.75,201.30 453.25,201.33 453.75,201.23 454.25,201.34 454.75,201.26 455.25,201.26 455.75,201.29 456.25,201.27 456.75,201.31 457.25,201.27 457.75,201.25 458.25,201.26 458.75,201.37 459.25,201.30 459.75,201.24 460.25,201.30 460.75,201.22 461.25,201.39 461.75,201.22 462.25,201.32 462.75,201.33 463.25,201.23 463.75,201.32 464.25,201.35 464.75,201.32 465.25,201.31 465.75,201.35 466.25,201.31 466.75,201.32 467.25,201.29 467.75,201.33 468.25,201.25 468.75,201.34 469.25,201.27 469.75,201.25 470.25,201.32 470.75,201.38 471.25,201.35 471.75,201.27 472.25,201.33 472.75,201.28 473.25,201.29 473.75,201.30" fill="none" stroke="#c2347e" stroke-width="1.7" stroke-linejoin="round" stroke-linecap="round" opacity="1.0"/>
<polyline points="362.75,216.60 363.25,216.65 363.75,216.64 364.25,216.64 364.75,216.68 365.25,216.54 365.75,216.57 366.25,216.53 366.75,216.59 367.25,216.65 367.75,216.60 368.25,216.62 368.75,216.50 369.25,216.61 369.75,216.55 370.25,216.69 370.75,216.64 371.25,216.65 371.75,216.60 372.25,216.63 372.75,216.63 373.25,216.58 373.75,216.58 374.25,216.59 374.75,216.57 375.25,216.57 375.75,216.59 376.25,216.56 376.75,216.64 377.25,216.52 377.75,216.64 378.25,216.57 378.75,216.57 379.25,216.53 379.75,216.59 380.25,216.59 380.75,216.61 381.25,216.57 381.75,216.60 382.25,216.69 382.75,216.62 383.25,216.57 383.75,216.65 384.25,216.59 384.75,216.63 385.25,216.63 385.75,216.58 386.25,216.50 386.75,216.58 387.25,216.63 387.75,216.58 388.25,216.62 388.75,216.65 389.25,216.57 389.75,216.66 390.25,216.68 390.75,216.65 391.25,216.65 391.75,216.65 392.25,216.70 392.75,216.59 393.25,216.57 393.75,216.59 394.25,216.51 394.75,216.47 395.25,216.49 395.75,216.54 396.25,216.53 396.75,216.42 397.25,216.38 397.75,216.45 398.25,216.44 398.75,216.43 399.25,216.45 399.75,216.46 400.25,216.39 400.75,216.39 401.25,216.29 401.75,216.26 402.25,216.32 402.75,216.32 403.25,216.30 403.75,216.28 404.25,216.27 404.75,216.25 405.25,216.10 405.75,216.13 406.25,216.17 406.75,216.15 407.25,216.02 407.75,216.13 408.25,216.03 408.75,216.01 409.25,216.00 409.75,216.00 410.25,215.86 410.75,215.95 411.25,215.87 411.75,215.79 412.25,215.78 412.75,215.65 413.25,215.69 413.75,215.70 414.25,215.62 414.75,215.60 415.25,215.58 415.75,215.55 416.25,215.57 416.75,215.49 417.25,215.45 417.75,215.45 418.25,215.48 418.75,215.30 419.25,215.27 419.75,215.02 420.25,214.78 420.75,214.39 421.25,214.43 421.75,214.76 422.25,215.14 422.75,215.39 423.25,215.46 423.75,215.44 424.25,215.47 424.75,215.62 425.25,215.64 425.75,215.82 426.25,215.69 426.75,215.73 427.25,215.78 427.75,215.72 428.25,215.78 428.75,215.93 429.25,215.86 429.75,215.86 430.25,215.85 430.75,215.96 431.25,215.98 431.75,215.98 432.25,215.97 432.75,216.02 433.25,216.05 433.75,216.01 434.25,216.09 434.75,215.97 435.25,216.03 435.75,216.09 436.25,216.12 436.75,216.08 437.25,216.17 437.75,216.22 438.25,216.20 438.75,216.20 439.25,216.24 439.75,216.23 440.25,216.17 440.75,216.22 441.25,216.31 441.75,216.19 442.25,216.26 442.75,216.25 443.25,216.23 443.75,216.23 444.25,216.30 444.75,216.31 445.25,216.32 445.75,216.24 446.25,216.30 446.75,216.34 447.25,216.37 447.75,216.37 448.25,216.38 448.75,216.40 449.25,216.39 449.75,216.31 450.25,216.36 450.75,216.33 451.25,216.25 451.75,216.29 452.25,216.48 452.75,216.33 453.25,216.28 453.75,216.36 454.25,216.47 454.75,216.40 455.25,216.43 455.75,216.40 456.25,216.41 456.75,216.48 457.25,216.46 457.75,216.42 458.25,216.48 458.75,216.49 459.25,216.43 459.75,216.46 460.25,216.46 460.75,216.42 461.25,216.51 461.75,216.45 462.25,216.43 462.75,216.38 463.25,216.40 463.75,216.55 464.25,216.42 464.75,216.50 465.25,216.46 465.75,216.51 466.25,216.51 466.75,216.45 467.25,216.47 467.75,216.49 468.25,216.50 468.75,216.49 469.25,216.48 469.75,216.53 470.25,216.56 470.75,216.52 471.25,216.46 471.75,216.52 472.25,216.50 472.75,216.52 473.25,216.59 473.75,216.49" fill="none" stroke="#5aa8e0" stroke-width="1.7" stroke-linejoin="round" stroke-linecap="round" opacity="1.0"/>
<polyline points="520.75,165.67 521.15,164.80 521.55,165.68 521.95,165.43 522.35,165.61 522.75,165.52 523.15,165.82 523.55,165.17 523.95,164.81 524.35,165.32 524.75,165.98 525.15,166.34 525.55,166.52 525.95,166.82 526.35,167.12 526.75,167.21 527.15,167.20 527.55,166.40 527.95,166.40 528.35,165.46 528.75,165.53 529.15,165.53 529.55,166.27 529.95,166.58 530.35,166.44 530.75,166.39 531.15,165.54 531.55,165.92 531.95,165.63 532.35,166.34 532.75,166.74 533.15,166.86 533.55,167.15 533.95,167.26 534.35,167.09 534.75,166.81 535.15,166.34 535.55,165.98 535.95,165.69 536.35,165.83 536.75,165.42 537.15,166.11 537.55,166.65 537.95,166.97 538.35,166.23 538.75,165.53 539.15,165.30 539.55,165.55 539.95,166.18 540.35,166.08 540.75,165.18 541.15,164.86 541.55,164.33 541.95,164.39 542.35,164.77 542.75,165.68 543.15,166.22 543.55,166.63 543.95,166.18 544.35,166.10 544.75,165.86 545.15,165.89 545.55,165.73 545.95,166.25 546.35,167.19 546.75,167.70 547.15,167.70 547.55,167.03 547.95,167.16 548.35,166.57 548.75,165.85 549.15,165.71 549.55,166.45 549.95,166.53 550.35,166.77 550.75,167.19 551.15,167.08 551.55,166.94 551.95,166.47 552.35,166.40 552.75,166.61 553.15,166.44 553.55,166.58 553.95,166.84 554.35,166.52 554.75,166.32 555.15,166.46 555.55,166.50 555.95,165.56 556.35,164.87 556.75,165.01 557.15,165.14 557.55,165.72 557.95,165.07 558.35,164.24 558.75,163.59 559.15,162.65 559.55,162.99 559.95,163.46 560.35,163.74 560.75,163.80 561.15,163.54 561.55,163.54 561.95,164.35 562.35,164.10 562.75,163.36 563.15,163.52 563.55,163.16 563.95,163.96 564.35,164.02 564.75,164.06 565.15,163.36 565.55,162.78 565.95,162.40 566.35,162.52 566.75,162.34 567.15,162.96 567.55,163.35 567.95,163.68 568.35,162.93 568.75,162.79 569.15,163.20 569.55,163.94 569.95,163.51 570.35,163.82 570.75,163.67 571.15,163.10 571.55,162.17 571.95,161.53 572.35,161.29 572.75,161.18 573.15,162.47 573.55,162.24 573.95,162.14 574.35,162.35 574.75,162.42 575.15,162.43 575.55,161.70 575.95,161.68 576.35,161.34 576.75,161.52 577.15,161.58 577.55,161.16 577.95,161.69 578.35,161.96 578.75,162.47 579.15,162.44 579.55,162.16 579.95,162.41 580.35,163.22 580.75,163.43 581.15,163.09 581.55,162.99 581.95,162.73 582.35,162.09 582.75,161.84 583.15,162.45 583.55,162.48 583.95,162.84 584.35,163.56 584.75,163.00 585.15,162.63 585.55,162.81 585.95,162.85 586.35,162.86 586.75,162.47 587.15,161.59 587.55,162.44 587.95,162.31 588.35,162.67 588.75,162.49 589.15,162.60 589.55,163.34 589.95,164.23 590.35,164.03 590.75,163.73 591.15,163.37 591.55,163.13 591.95,163.33 592.35,162.88 592.75,162.65 593.15,162.73 593.55,162.54 593.95,162.45 594.35,162.39 594.75,163.07 595.15,162.86 595.55,162.94 595.95,163.23 596.35,164.65 596.75,166.34 597.15,166.52 597.55,165.83 597.95,165.26 598.35,165.07 598.75,164.42 599.15,164.29 599.55,164.59 599.95,164.72 600.35,164.54 600.75,163.74 601.15,163.61 601.55,164.07 601.95,164.86 602.35,165.39 602.75,165.88 603.15,166.32 603.55,166.20 603.95,166.25 604.35,164.65 604.75,164.42 605.15,163.97 605.55,164.67 605.95,164.94 606.35,165.29 606.75,165.57 607.15,165.92 607.55,166.43 607.95,166.22 608.35,167.22 608.75,167.70 609.15,168.15 609.55,168.23 609.95,168.10 610.35,168.78 610.75,168.62 611.15,168.87 611.55,168.35 611.95,167.00 612.35,167.03 612.75,167.70 613.15,167.67 613.55,167.29 613.95,167.46 614.35,166.96 614.75,166.02 615.15,165.54 615.55,165.83 615.95,165.84 616.35,165.95 616.75,165.16 617.15,165.03 617.55,164.96 617.95,164.86 618.35,165.56 618.75,165.78 619.15,165.60 619.55,165.69 619.95,165.85 620.35,166.29 620.75,166.38 621.15,165.92 621.55,165.78 621.95,165.08 622.35,165.56 622.75,165.08 623.15,165.22 623.55,165.42 623.95,165.41 624.35,165.40 624.75,165.08 625.15,164.56 625.55,165.03 625.95,165.44 626.35,165.22 626.75,165.12 627.15,165.42 627.55,166.48 627.95,165.16 628.35,164.83 628.75,164.14 629.15,163.77 629.55,163.30 629.95,163.78 630.35,164.88 630.75,165.54 631.15,166.13 631.55,166.75 631.95,166.83" fill="none" stroke="#7c4d1f" stroke-width="1.7" stroke-linejoin="round" stroke-linecap="round" opacity="1.0"/>
<polyline points="520.75,183.83 521.15,183.20 521.55,182.63 521.95,181.87 522.35,182.20 522.75,182.91 523.15,183.22 523.55,183.47 523.95,183.36 524.35,182.74 524.75,183.49 525.15,183.15 525.55,183.81 525.95,184.36 526.35,183.55 526.75,183.26 527.15,182.69 527.55,182.67 527.95,182.61 528.35,183.39 528.75,183.71 529.15,182.65 529.55,181.64 529.95,181.26 530.35,181.30 530.75,181.39 531.15,181.54 531.55,181.29 531.95,182.08 532.35,181.77 532.75,181.31 533.15,180.29 533.55,179.87 533.95,180.53 534.35,180.98 534.75,181.78 535.15,181.89 535.55,182.46 535.95,182.31 536.35,182.62 536.75,181.55 537.15,181.28 537.55,181.14 537.95,181.14 538.35,181.80 538.75,181.73 539.15,181.82 539.55,181.88 539.95,181.77 540.35,182.24 540.75,182.22 541.15,182.64 541.55,182.62 541.95,182.69 542.35,182.29 542.75,182.57 543.15,182.59 543.55,182.08 543.95,181.86 544.35,181.73 544.75,181.21 545.15,181.65 545.55,182.88 545.95,183.12 546.35,182.90 546.75,182.84 547.15,182.56 547.55,181.91 547.95,180.91 548.35,180.33 548.75,180.65 549.15,181.23 549.55,182.31 549.95,182.61 550.35,182.23 550.75,182.60 551.15,183.12 551.55,182.86 551.95,182.80 552.35,182.15 552.75,182.27 553.15,182.08 553.55,181.59 553.95,181.13 554.35,181.31 554.75,181.18 555.15,181.72 555.55,182.62 555.95,183.31 556.35,183.02 556.75,182.88 557.15,182.55 557.55,182.72 557.95,182.25 558.35,182.31 558.75,181.69 559.15,181.05 559.55,180.29 559.95,179.90 560.35,180.17 560.75,180.29 561.15,180.48 561.55,180.93 561.95,181.07 562.35,181.03 562.75,180.72 563.15,181.27 563.55,181.13 563.95,180.96 564.35,180.06 564.75,180.03 565.15,179.36 565.55,179.06 565.95,179.23 566.35,178.77 566.75,178.35 567.15,178.24 567.55,177.76 567.95,178.04 568.35,177.98 568.75,178.27 569.15,178.28 569.55,178.05 569.95,178.40 570.35,177.94 570.75,177.81 571.15,177.52 571.55,177.22 571.95,176.45 572.35,176.08 572.75,176.05 573.15,176.23 573.55,176.15 573.95,176.57 574.35,177.42 574.75,177.84 575.15,177.69 575.55,178.10 575.95,178.07 576.35,178.33 576.75,177.67 577.15,177.25 577.55,177.26 577.95,177.74 578.35,177.65 578.75,177.99 579.15,177.19 579.55,176.60 579.95,176.15 580.35,175.99 580.75,175.95 581.15,177.08 581.55,177.42 581.95,177.47 582.35,177.50 582.75,177.72 583.15,178.74 583.55,178.80 583.95,178.94 584.35,178.37 584.75,177.41 585.15,177.76 585.55,177.90 585.95,177.52 586.35,177.88 586.75,178.06 587.15,178.74 587.55,179.19 587.95,179.80 588.35,179.25 588.75,179.22 589.15,178.46 589.55,178.79 589.95,178.46 590.35,179.25 590.75,178.98 591.15,179.08 591.55,179.30 591.95,179.09 592.35,178.93 592.75,178.96 593.15,179.88 593.55,180.92 593.95,181.33 594.35,180.92 594.75,180.32 595.15,180.06 595.55,179.51 595.95,179.25 596.35,179.76 596.75,179.90 597.15,180.70 597.55,181.10 597.95,181.68 598.35,181.94 598.75,181.62 599.15,181.70 599.55,181.90 599.95,182.78 600.35,182.84 600.75,182.15 601.15,182.44 601.55,182.15 601.95,182.01 602.35,181.72 602.75,181.99 603.15,182.01 603.55,181.80 603.95,182.20 604.35,182.62 604.75,182.24 605.15,182.05 605.55,182.01 605.95,181.81 606.35,181.76 606.75,182.25 607.15,182.66 607.55,183.41 607.95,183.34 608.35,183.40 608.75,183.73 609.15,183.27 609.55,182.44 609.95,182.36 610.35,182.62 610.75,183.06 611.15,182.55 611.55,182.50 611.95,182.69 612.35,182.53 612.75,182.91 613.15,183.02 613.55,182.79 613.95,182.24 614.35,181.12 614.75,180.90 615.15,180.89 615.55,180.97 615.95,181.56 616.35,182.30 616.75,182.72 617.15,183.43 617.55,184.16 617.95,184.38 618.35,184.40 618.75,185.43 619.15,184.89 619.55,184.80 619.95,184.37 620.35,184.63 620.75,184.79 621.15,185.44 621.55,185.52 621.95,185.66 622.35,185.20 622.75,184.89 623.15,184.73 623.55,184.96 623.95,184.62 624.35,184.40 624.75,183.67 625.15,183.84 625.55,183.63 625.95,184.33 626.35,184.41 626.75,184.50 627.15,184.68 627.55,184.78 627.95,184.33 628.35,183.38 628.75,182.52 629.15,182.10 629.55,182.18 629.95,182.39 630.35,182.34 630.75,182.14 631.15,181.55 631.55,181.08 631.95,181.46" fill="none" stroke="#5457b4" stroke-width="1.7" stroke-linejoin="round" stroke-linecap="round" opacity="1.0"/>
<polyline points="520.75,201.92 521.15,202.33 521.55,203.20 521.95,203.54 522.35,203.85 522.75,203.87 523.15,203.72 523.55,204.63 523.95,204.31 524.35,204.37 524.75,203.43 525.15,202.73 525.55,203.05 525.95,203.89 526.35,204.81 526.75,205.37 527.15,205.07 527.55,205.15 527.95,204.85 528.35,204.45 528.75,203.84 529.15,203.59 529.55,203.68 529.95,203.48 530.35,203.64 530.75,203.56 531.15,204.06 531.55,204.20 531.95,204.60 532.35,204.56 532.75,205.37 533.15,205.10 533.55,204.94 533.95,204.47 534.35,203.88 534.75,203.07 535.15,203.14 535.55,202.75 535.95,202.98 536.35,203.20 536.75,203.24 537.15,203.53 537.55,204.23 537.95,204.28 538.35,203.59 538.75,203.58 539.15,203.06 539.55,203.18 539.95,203.16 540.35,202.68 540.75,202.92 541.15,202.54 541.55,201.92 541.95,202.28 542.35,202.69 542.75,203.23 543.15,203.57 543.55,203.00 543.95,203.14 544.35,203.23 544.75,203.41 545.15,203.35 545.55,203.63 545.95,203.86 546.35,203.83 546.75,204.28 547.15,204.49 547.55,204.18 547.95,203.26 548.35,202.31 548.75,201.30 549.15,200.53 549.55,201.17 549.95,201.74 550.35,202.78 550.75,203.06 551.15,203.14 551.55,203.21 551.95,203.73 552.35,203.41 552.75,203.10 553.15,203.21 553.55,202.41 553.95,201.62 554.35,201.40 554.75,201.05 555.15,200.66 555.55,200.39 555.95,200.74 556.35,200.43 556.75,201.24 557.15,201.65 557.55,201.48 557.95,201.61 558.35,201.19 558.75,201.43 559.15,201.97 559.55,201.56 559.95,201.47 560.35,201.03 560.75,200.43 561.15,200.16 561.55,200.06 561.95,199.19 562.35,198.37 562.75,197.24 563.15,195.98 563.55,195.64 563.95,195.20 564.35,195.60 564.75,195.45 565.15,194.93 565.55,194.61 565.95,193.41 566.35,191.96 566.75,190.90 567.15,190.53 567.55,190.81 567.95,190.82 568.35,190.55 568.75,190.67 569.15,191.06 569.55,191.48 569.95,190.94 570.35,190.83 570.75,190.08 571.15,189.50 571.55,189.44 571.95,189.46 572.35,189.39 572.75,189.27 573.15,190.18 573.55,190.84 573.95,191.36 574.35,191.28 574.75,190.92 575.15,190.98 575.55,190.57 575.95,191.07 576.35,192.16 576.75,192.02 577.15,191.91 577.55,191.54 577.95,191.51 578.35,191.84 578.75,192.76 579.15,192.79 579.55,192.66 579.95,192.97 580.35,193.13 580.75,193.30 581.15,193.10 581.55,193.48 581.95,193.57 582.35,194.37 582.75,194.28 583.15,194.42 583.55,194.57 583.95,194.83 584.35,194.50 584.75,194.09 585.15,194.73 585.55,194.68 585.95,194.55 586.35,194.92 586.75,195.57 587.15,195.76 587.55,196.47 587.95,195.59 588.35,195.19 588.75,194.79 589.15,194.72 589.55,195.00 589.95,195.72 590.35,196.04 590.75,196.76 591.15,197.31 591.55,198.04 591.95,198.21 592.35,198.59 592.75,198.78 593.15,198.22 593.55,198.32 593.95,198.72 594.35,198.87 594.75,199.01 595.15,199.47 595.55,199.20 595.95,199.14 596.35,198.64 596.75,198.61 597.15,198.25 597.55,197.39 597.95,197.49 598.35,197.33 598.75,197.38 599.15,196.85 599.55,197.23 599.95,197.72 600.35,197.83 600.75,198.81 601.15,199.28 601.55,199.27 601.95,199.77 602.35,199.97 602.75,199.50 603.15,198.94 603.55,198.76 603.95,198.41 604.35,197.29 604.75,197.46 605.15,197.99 605.55,198.33 605.95,198.14 606.35,196.84 606.75,197.32 607.15,197.63 607.55,197.99 607.95,197.87 608.35,198.42 608.75,198.41 609.15,197.81 609.55,197.94 609.95,198.01 610.35,198.16 610.75,198.13 611.15,198.11 611.55,199.12 611.95,199.67 612.35,199.61 612.75,199.53 613.15,199.19 613.55,198.70 613.95,198.34 614.35,198.39 614.75,198.08 615.15,197.51 615.55,198.25 615.95,198.83 616.35,198.50 616.75,197.66 617.15,197.18 617.55,197.30 617.95,197.69 618.35,198.25 618.75,198.02 619.15,197.31 619.55,197.03 619.95,197.66 620.35,198.11 620.75,197.90 621.15,197.40 621.55,197.39 621.95,197.45 622.35,197.44 622.75,197.03 623.15,196.18 623.55,196.74 623.95,197.35 624.35,197.92 624.75,198.95 625.15,198.44 625.55,198.18 625.95,197.53 626.35,197.31 626.75,197.39 627.15,197.19 627.55,197.00 627.95,196.32 628.35,195.47 628.75,195.04 629.15,195.02 629.55,195.48 629.95,196.10 630.35,195.81 630.75,195.60 631.15,194.88 631.55,194.83 631.95,194.31" fill="none" stroke="#c2347e" stroke-width="1.7" stroke-linejoin="round" stroke-linecap="round" opacity="1.0"/>
<polyline points="520.75,212.91 521.15,213.30 521.55,213.73 521.95,214.08 522.35,214.40 522.75,214.16 523.15,214.67 523.55,214.58 523.95,214.07 524.35,213.77 524.75,213.48 525.15,213.02 525.55,213.36 525.95,214.02 526.35,214.12 526.75,214.19 527.15,214.17 527.55,214.03 527.95,213.59 528.35,214.04 528.75,213.38 529.15,213.65 529.55,213.76 529.95,214.04 530.35,213.96 530.75,213.44 531.15,213.62 531.55,213.60 531.95,214.28 532.35,213.71 532.75,214.25 533.15,213.93 533.55,214.07 533.95,214.36 534.35,213.88 534.75,214.56 535.15,214.72 535.55,214.35 535.95,213.88 536.35,213.25 536.75,213.04 537.15,213.43 537.55,214.49 537.95,215.29 538.35,215.48 538.75,214.70 539.15,214.24 539.55,214.15 539.95,213.79 540.35,213.11 540.75,212.84 541.15,212.72 541.55,212.26 541.95,212.26 542.35,212.95 542.75,213.46 543.15,213.07 543.55,212.85 543.95,213.33 544.35,213.67 544.75,214.94 545.15,214.55 545.55,214.20 545.95,214.46 546.35,213.71 546.75,213.73 547.15,213.81 547.55,213.76 547.95,213.94 548.35,213.95 548.75,213.40 549.15,212.70 549.55,212.46 549.95,212.79 550.35,213.24 550.75,212.88 551.15,213.65 551.55,213.53 551.95,213.44 552.35,213.12 552.75,213.34 553.15,214.03 553.55,214.70 553.95,215.59 554.35,215.11 554.75,214.20 555.15,213.54 555.55,214.08 555.95,214.45 556.35,214.90 556.75,214.48 557.15,214.66 557.55,213.88 557.95,214.17 558.35,213.16 558.75,213.29 559.15,212.83 559.55,211.79 559.95,211.73 560.35,211.36 560.75,211.20 561.15,211.46 561.55,211.68 561.95,212.16 562.35,212.25 562.75,212.31 563.15,212.23 563.55,212.37 563.95,212.63 564.35,211.78 564.75,211.42 565.15,211.15 565.55,211.34 565.95,211.35 566.35,211.21 566.75,210.94 567.15,210.71 567.55,210.27 567.95,210.17 568.35,209.46 568.75,209.33 569.15,209.36 569.55,208.98 569.95,209.27 570.35,209.09 570.75,208.91 571.15,209.27 571.55,209.63 571.95,209.58 572.35,209.44 572.75,209.04 573.15,208.85 573.55,208.75 573.95,208.22 574.35,208.31 574.75,208.85 575.15,208.86 575.55,209.23 575.95,209.58 576.35,210.40 576.75,210.35 577.15,210.93 577.55,210.87 577.95,210.60 578.35,210.42 578.75,211.07 579.15,210.71 579.55,210.87 579.95,211.12 580.35,210.98 580.75,211.22 581.15,210.83 581.55,211.51 581.95,212.02 582.35,212.47 582.75,212.58 583.15,211.96 583.55,211.52 583.95,211.79 584.35,211.33 584.75,211.46 585.15,211.22 585.55,211.24 585.95,210.36 586.35,209.79 586.75,210.44 587.15,211.34 587.55,211.56 587.95,211.53 588.35,211.49 588.75,211.81 589.15,212.42 589.55,213.58 589.95,213.62 590.35,212.69 590.75,212.32 591.15,211.67 591.55,211.88 591.95,212.50 592.35,213.56 592.75,213.31 593.15,213.53 593.55,213.33 593.95,213.01 594.35,212.40 594.75,211.93 595.15,211.75 595.55,211.82 595.95,211.23 596.35,211.76 596.75,212.35 597.15,212.68 597.55,213.00 597.95,213.43 598.35,213.65 598.75,213.38 599.15,213.82 599.55,214.07 599.95,214.75 600.35,215.15 600.75,214.74 601.15,214.65 601.55,214.33 601.95,214.28 602.35,214.37 602.75,214.29 603.15,214.56 603.55,214.46 603.95,214.08 604.35,213.88 604.75,213.77 605.15,214.05 605.55,214.19 605.95,214.78 606.35,214.40 606.75,214.86 607.15,215.12 607.55,215.42 607.95,215.53 608.35,215.40 608.75,215.25 609.15,215.36 609.55,215.20 609.95,215.46 610.35,214.85 610.75,214.13 611.15,213.87 611.55,213.88 611.95,213.52 612.35,214.39 612.75,215.03 613.15,215.00 613.55,214.27 613.95,214.52 614.35,214.29 614.75,214.17 615.15,214.19 615.55,213.64 615.95,213.79 616.35,214.01 616.75,214.01 617.15,214.22 617.55,214.92 617.95,214.22 618.35,214.72 618.75,214.58 619.15,214.92 619.55,214.58 619.95,214.40 620.35,214.33 620.75,214.15 621.15,214.19 621.55,213.92 621.95,213.09 622.35,212.67 622.75,213.44 623.15,213.71 623.55,214.44 623.95,214.51 624.35,214.28 624.75,214.12 625.15,214.11 625.55,214.05 625.95,213.80 626.35,214.02 626.75,214.17 627.15,214.56 627.55,214.39 627.95,214.41 628.35,214.61 628.75,214.44 629.15,213.24 629.55,213.33 629.95,214.18 630.35,214.39 630.75,213.83 631.15,212.85 631.55,212.72 631.95,212.17" fill="none" stroke="#5aa8e0" stroke-width="1.7" stroke-linejoin="round" stroke-linecap="round" opacity="1.0"/>
<polyline points="46.20,359.29 46.50,360.21 46.80,357.57 47.10,360.35 47.40,358.96 47.70,358.36 48.00,358.36 48.30,358.13 48.60,358.82 48.90,359.67 49.20,359.47 49.50,359.51 49.80,357.64 50.10,357.74 50.40,360.24 50.70,359.78 51.00,360.75 51.30,359.97 51.60,358.18 51.90,341.03 52.20,307.31 52.50,294.08 52.80,287.42 53.10,285.28 53.40,283.23 53.70,282.51 54.00,280.76 54.30,281.29 54.60,279.34 54.90,281.13 55.20,282.70 55.50,283.69 55.80,285.82 56.10,290.10 56.40,293.20 56.70,297.03 57.00,302.31 57.30,306.31 57.60,311.83 57.90,316.42 58.20,322.15 58.50,326.99 58.80,329.27 59.10,333.24 59.40,334.41 59.70,337.36 60.00,338.51 60.30,341.32 60.60,343.17 60.90,344.53 61.20,345.92 61.50,348.51 61.80,349.70 62.10,348.52 62.40,351.17 62.70,349.53 63.00,350.98 63.30,352.06 63.60,352.90 63.90,352.55 64.20,353.34 64.50,354.48 64.80,354.31 65.10,354.75 65.40,356.13 65.70,356.62 66.00,356.04 66.30,356.24 66.60,356.28 66.90,355.93 67.20,355.88 67.50,355.44 67.80,356.76 68.10,356.15 68.40,356.07 68.70,356.29 69.00,356.51 69.30,357.17 69.60,355.76 69.90,355.60 70.20,356.02 70.50,355.13 70.80,356.76 71.10,356.42 71.40,356.17 71.70,355.46 72.00,356.09 72.30,356.28 72.60,355.78 72.90,355.08 73.20,353.89 73.50,355.92 73.80,354.80 74.10,354.32 74.40,355.63 74.70,355.10 75.00,353.60 75.30,354.56 75.60,354.33 75.90,355.25 76.20,352.84 76.50,353.94 76.80,354.04 77.10,355.18 77.40,353.08 77.70,351.49 78.00,352.63 78.30,353.84 78.60,354.18 78.90,354.81 79.20,353.64 79.50,352.58 79.80,353.82 80.10,353.01 80.40,352.75 80.70,352.83 81.00,353.74 81.30,351.90 81.60,351.71 81.90,352.39 82.20,352.30 82.50,351.62 82.80,351.49 83.10,352.42 83.40,353.11 83.70,352.54 84.00,352.45 84.30,352.84 84.60,350.19 84.90,350.52 85.20,351.10 85.50,350.65 85.80,350.76 86.10,351.55 86.40,350.42 86.70,351.03 87.00,349.70 87.30,350.50 87.60,352.31 87.90,350.74 88.20,351.39 88.50,351.64 88.80,350.63 89.10,351.44 89.40,351.10 89.70,351.44 90.00,350.33 90.30,349.64 90.60,349.93 90.90,350.26 91.20,351.09 91.50,350.46 91.80,350.27 92.10,350.40 92.40,351.39 92.70,350.01 93.00,351.65 93.30,349.43 93.60,349.90 93.90,351.03 94.20,350.73 94.50,349.61 94.80,350.18 95.10,349.68 95.40,350.90 95.70,350.63 96.00,349.61 96.30,350.48 96.60,349.85 96.90,350.07 97.20,350.16 97.50,349.63 97.80,350.41 98.10,350.42 98.40,350.37 98.70,350.90 99.00,349.78 99.30,348.79 99.60,349.57 99.90,350.11 100.20,349.95 100.50,350.38 100.80,350.55 101.10,349.80 101.40,349.79 101.70,349.08 102.00,350.68 102.30,349.63 102.60,348.97 102.90,348.94 103.20,349.49 103.50,351.06 103.80,350.43 104.10,348.45 104.40,349.70 104.70,350.01 105.00,350.30 105.30,350.08 105.60,349.29 105.90,350.14 106.20,349.37 106.50,348.03 106.80,349.26 107.10,349.29 107.40,350.61 107.70,350.70 108.00,349.03 108.30,350.02 108.60,349.97 108.90,348.77 109.20,348.29 109.50,349.88 109.80,350.08 110.10,349.51 110.40,347.84 110.70,350.01 111.00,349.59 111.30,349.36 111.60,349.84 111.90,349.22 112.20,350.59 112.50,350.18 112.80,349.75 113.10,350.44 113.40,350.22 113.70,349.06 114.00,350.18 114.30,349.96 114.60,348.96 114.90,349.85 115.20,350.74 115.50,349.93 115.80,351.58 116.10,351.84 116.40,350.26 116.70,350.98 117.00,352.15 117.30,350.32 117.60,349.89 117.90,350.30 118.20,349.56 118.50,349.61 118.80,350.88 119.10,350.40 119.40,350.95 119.70,351.17 120.00,350.19 120.30,350.67 120.60,350.63 120.90,350.33 121.20,350.22 121.50,351.16 121.80,350.82 122.10,351.22 122.40,351.78 122.70,351.81 123.00,350.13 123.30,350.36 123.60,350.86 123.90,351.19 124.20,351.87 124.50,350.37 124.80,350.81 125.10,351.38 125.40,352.19 125.70,352.34 126.00,350.45 126.30,351.11 126.60,350.66 126.90,352.01 127.20,351.71 127.50,351.09 127.80,350.92 128.10,351.67 128.40,352.24 128.70,350.86 129.00,351.24 129.30,351.62 129.60,351.57 129.90,351.85 130.20,350.80 130.50,351.15 130.80,349.97 131.10,351.72 131.40,352.55 131.70,350.07 132.00,351.24 132.30,352.49 132.60,351.68 132.90,350.30 133.20,352.77 133.50,350.72 133.80,352.98 134.10,351.44 134.40,351.36 134.70,351.97 135.00,351.95 135.30,352.47 135.60,352.42 135.90,351.92 136.20,353.12 136.50,352.65 136.80,352.32 137.10,352.23 137.40,352.06 137.70,352.10 138.00,352.71 138.30,352.58 138.60,352.25 138.90,353.05 139.20,352.04 139.50,352.62 139.80,352.98 140.10,351.41 140.40,352.11 140.70,353.67 141.00,351.59 141.30,353.30 141.60,351.54 141.90,352.73 142.20,351.57 142.50,351.95 142.80,352.16 143.10,352.03 143.40,353.30 143.70,353.17 144.00,353.22 144.30,352.69 144.60,353.86 144.90,353.39 145.20,352.85 145.50,351.76 145.80,353.17 146.10,353.15 146.40,352.72 146.70,353.23 147.00,353.29 147.30,352.45 147.60,353.16 147.90,353.00 148.20,352.99 148.50,352.48 148.80,352.39 149.10,352.87 149.40,353.94 149.70,354.66 150.00,352.52 150.30,351.99 150.60,352.57 150.90,352.19 151.20,352.53 151.50,353.20 151.80,352.16 152.10,353.39 152.40,353.55 152.70,354.14 153.00,354.39 153.30,353.74 153.60,354.77 153.90,352.57 154.20,353.20 154.50,353.12 154.80,353.35 155.10,353.82 155.40,352.75 155.70,354.39 156.00,354.05 156.30,353.32 156.60,353.42 156.90,352.28 157.20,351.08 157.50,353.01 157.80,353.34 158.10,353.28 158.40,352.22 158.70,352.75 159.00,354.52 159.30,353.71 159.60,353.63 159.90,352.90 160.20,353.74 160.50,354.18 160.80,353.77 161.10,352.85 161.40,353.41 161.70,352.49 162.00,352.95 162.30,353.67 162.60,352.78 162.90,353.03 163.20,354.36 163.50,353.09 163.80,353.84 164.10,353.00 164.40,352.34 164.70,353.25 165.00,352.97 165.30,351.66 165.60,352.31 165.90,352.94 166.20,354.45 166.50,352.82 166.80,353.26 167.10,353.79 167.40,353.53 167.70,353.03 168.00,354.65 168.30,354.37 168.60,351.37 168.90,354.07" fill="none" stroke="#7e9f3a" stroke-width="1.6" stroke-linejoin="round" stroke-linecap="round" opacity="1.0"/>
<polyline points="46.20,357.88 46.50,358.04 46.80,357.96 47.10,358.50 47.40,360.16 47.70,357.72 48.00,359.76 48.30,360.01 48.60,358.72 48.90,358.44 49.20,359.38 49.50,359.97 49.80,360.72 50.10,359.71 50.40,360.28 50.70,358.64 51.00,358.30 51.30,357.62 51.60,358.08 51.90,339.71 52.20,306.96 52.50,292.85 52.80,288.73 53.10,285.20 53.40,282.84 53.70,281.18 54.00,282.28 54.30,280.16 54.60,279.24 54.90,279.99 55.20,283.78 55.50,283.92 55.80,287.71 56.10,290.43 56.40,290.93 56.70,298.25 57.00,301.83 57.30,305.98 57.60,311.21 57.90,317.35 58.20,322.30 58.50,326.54 58.80,328.99 59.10,333.66 59.40,336.57 59.70,339.17 60.00,340.40 60.30,342.72 60.60,344.36 60.90,344.59 61.20,345.95 61.50,346.79 61.80,347.70 62.10,348.74 62.40,347.34 62.70,349.05 63.00,350.26 63.30,348.72 63.60,349.75 63.90,352.62 64.20,350.92 64.50,351.76 64.80,352.74 65.10,352.32 65.40,352.21 65.70,352.63 66.00,352.83 66.30,352.83 66.60,353.55 66.90,354.80 67.20,353.90 67.50,355.01 67.80,354.38 68.10,354.53 68.40,354.40 68.70,353.75 69.00,354.37 69.30,354.31 69.60,353.20 69.90,354.70 70.20,354.56 70.50,354.38 70.80,353.61 71.10,351.92 71.40,355.15 71.70,353.87 72.00,352.12 72.30,354.31 72.60,353.16 72.90,354.19 73.20,353.47 73.50,354.37 73.80,353.56 74.10,353.50 74.40,353.31 74.70,354.08 75.00,351.96 75.30,353.84 75.60,353.34 75.90,352.23 76.20,352.54 76.50,352.04 76.80,352.29 77.10,352.84 77.40,351.38 77.70,352.34 78.00,352.32 78.30,351.89 78.60,352.43 78.90,350.93 79.20,351.34 79.50,352.56 79.80,350.39 80.10,350.05 80.40,349.95 80.70,350.20 81.00,349.03 81.30,349.11 81.60,347.69 81.90,348.04 82.20,347.86 82.50,347.54 82.80,347.91 83.10,348.62 83.40,347.56 83.70,346.62 84.00,347.69 84.30,347.45 84.60,346.02 84.90,347.09 85.20,345.95 85.50,346.13 85.80,345.88 86.10,346.95 86.40,345.47 86.70,345.70 87.00,345.94 87.30,346.45 87.60,346.41 87.90,344.48 88.20,346.08 88.50,345.20 88.80,345.76 89.10,345.48 89.40,344.05 89.70,344.35 90.00,343.92 90.30,344.29 90.60,345.16 90.90,343.72 91.20,342.99 91.50,345.39 91.80,342.41 92.10,343.06 92.40,342.89 92.70,341.73 93.00,343.23 93.30,343.30 93.60,342.24 93.90,342.20 94.20,341.88 94.50,340.46 94.80,341.92 95.10,340.58 95.40,340.67 95.70,341.62 96.00,341.90 96.30,340.33 96.60,341.80 96.90,342.16 97.20,340.75 97.50,340.42 97.80,340.50 98.10,339.89 98.40,339.39 98.70,340.46 99.00,340.38 99.30,339.27 99.60,339.22 99.90,338.91 100.20,338.72 100.50,338.38 100.80,337.82 101.10,339.61 101.40,338.48 101.70,338.69 102.00,339.94 102.30,338.00 102.60,338.72 102.90,337.06 103.20,337.51 103.50,338.44 103.80,337.56 104.10,336.50 104.40,336.30 104.70,337.67 105.00,336.54 105.30,337.71 105.60,337.27 105.90,336.68 106.20,336.77 106.50,337.31 106.80,336.63 107.10,335.74 107.40,336.65 107.70,335.99 108.00,335.98 108.30,336.51 108.60,336.22 108.90,336.66 109.20,335.61 109.50,335.30 109.80,335.29 110.10,335.76 110.40,334.73 110.70,334.99 111.00,334.51 111.30,334.47 111.60,334.84 111.90,336.79 112.20,334.50 112.50,334.91 112.80,334.69 113.10,334.38 113.40,334.46 113.70,335.88 114.00,334.05 114.30,335.42 114.60,334.58 114.90,333.30 115.20,333.39 115.50,333.45 115.80,332.87 116.10,334.54 116.40,333.88 116.70,333.88 117.00,332.58 117.30,333.67 117.60,332.80 117.90,335.04 118.20,332.99 118.50,333.20 118.80,333.23 119.10,332.46 119.40,332.44 119.70,332.37 120.00,333.26 120.30,331.96 120.60,332.33 120.90,332.64 121.20,331.99 121.50,331.17 121.80,331.24 122.10,331.78 122.40,331.28 122.70,332.72 123.00,331.91 123.30,331.82 123.60,330.99 123.90,332.12 124.20,331.37 124.50,330.85 124.80,331.04 125.10,333.33 125.40,330.95 125.70,330.69 126.00,332.20 126.30,331.83 126.60,330.98 126.90,332.22 127.20,329.95 127.50,330.67 127.80,329.71 128.10,331.99 128.40,330.91 128.70,332.84 129.00,331.14 129.30,331.10 129.60,329.80 129.90,329.71 130.20,330.20 130.50,331.23 130.80,329.67 131.10,328.58 131.40,331.04 131.70,331.04 132.00,329.57 132.30,330.57 132.60,331.05 132.90,331.05 133.20,328.88 133.50,330.10 133.80,329.40 134.10,330.71 134.40,329.99 134.70,328.93 135.00,329.91 135.30,330.25 135.60,328.54 135.90,328.65 136.20,329.14 136.50,329.39 136.80,329.14 137.10,328.12 137.40,328.29 137.70,329.44 138.00,329.76 138.30,328.71 138.60,329.50 138.90,330.80 139.20,329.14 139.50,328.93 139.80,328.69 140.10,329.58 140.40,329.36 140.70,329.35 141.00,328.83 141.30,329.41 141.60,329.39 141.90,328.92 142.20,329.91 142.50,327.76 142.80,329.51 143.10,328.82 143.40,329.55 143.70,330.35 144.00,328.88 144.30,328.66 144.60,328.77 144.90,329.84 145.20,329.94 145.50,328.83 145.80,329.18 146.10,330.06 146.40,329.05 146.70,327.42 147.00,327.93 147.30,328.17 147.60,328.83 147.90,328.06 148.20,329.56 148.50,328.08 148.80,329.66 149.10,327.89 149.40,329.44 149.70,328.51 150.00,329.46 150.30,329.86 150.60,329.67 150.90,329.10 151.20,327.67 151.50,327.60 151.80,325.71 152.10,329.36 152.40,329.18 152.70,328.97 153.00,327.25 153.30,330.31 153.60,327.59 153.90,328.79 154.20,326.81 154.50,327.59 154.80,329.03 155.10,328.86 155.40,327.17 155.70,327.95 156.00,328.89 156.30,326.53 156.60,328.58 156.90,326.72 157.20,328.44 157.50,327.71 157.80,328.68 158.10,327.48 158.40,327.59 158.70,327.57 159.00,327.07 159.30,327.59 159.60,326.99 159.90,327.33 160.20,328.30 160.50,327.49 160.80,328.59 161.10,328.28 161.40,328.37 161.70,326.79 162.00,328.01 162.30,328.82 162.60,328.38 162.90,328.63 163.20,328.85 163.50,326.43 163.80,328.07 164.10,328.05 164.40,327.45 164.70,326.55 165.00,327.70 165.30,327.45 165.60,329.12 165.90,328.60 166.20,327.23 166.50,326.71 166.80,326.87 167.10,327.49 167.40,326.95 167.70,329.10 168.00,326.57 168.30,327.44 168.60,327.63 168.90,327.84" fill="none" stroke="#4f5ab2" stroke-width="1.6" stroke-linejoin="round" stroke-linecap="round" opacity="1.0"/>
<polyline points="46.20,359.44 46.50,359.17 46.80,358.95 47.10,357.14 47.40,359.35 47.70,357.30 48.00,359.73 48.30,359.48 48.60,359.66 48.90,359.66 49.20,359.24 49.50,358.57 49.80,358.75 50.10,360.21 50.40,358.53 50.70,358.82 51.00,358.42 51.30,358.59 51.60,358.75 51.90,340.21 52.20,306.57 52.50,293.62 52.80,287.58 53.10,285.35 53.40,282.27 53.70,281.83 54.00,281.71 54.30,279.41 54.60,279.92 54.90,283.01 55.20,281.51 55.50,283.09 55.80,286.42 56.10,290.74 56.40,294.42 56.70,296.19 57.00,302.45 57.30,306.85 57.60,311.17 57.90,315.35 58.20,322.82 58.50,325.51 58.80,329.81 59.10,332.71 59.40,336.86 59.70,338.64 60.00,338.68 60.30,340.99 60.60,343.51 60.90,342.96 61.20,344.93 61.50,346.50 61.80,345.97 62.10,347.06 62.40,347.34 62.70,349.53 63.00,349.42 63.30,351.15 63.60,350.99 63.90,351.81 64.20,351.70 64.50,352.73 64.80,352.36 65.10,351.91 65.40,353.85 65.70,353.83 66.00,354.98 66.30,353.18 66.60,352.94 66.90,352.36 67.20,350.53 67.50,352.66 67.80,354.18 68.10,353.16 68.40,351.86 68.70,354.47 69.00,353.56 69.30,353.78 69.60,353.74 69.90,353.99 70.20,354.48 70.50,352.70 70.80,353.88 71.10,353.61 71.40,354.89 71.70,353.09 72.00,355.17 72.30,354.28 72.60,355.02 72.90,353.07 73.20,354.20 73.50,353.75 73.80,352.17 74.10,353.07 74.40,352.82 74.70,352.32 75.00,352.39 75.30,351.75 75.60,352.42 75.90,352.94 76.20,351.92 76.50,351.16 76.80,353.10 77.10,351.81 77.40,351.97 77.70,351.59 78.00,351.17 78.30,351.90 78.60,350.81 78.90,351.06 79.20,349.69 79.50,349.34 79.80,350.14 80.10,351.77 80.40,350.18 80.70,351.38 81.00,349.99 81.30,349.79 81.60,348.75 81.90,349.00 82.20,350.25 82.50,349.56 82.80,347.92 83.10,347.85 83.40,349.11 83.70,347.45 84.00,348.42 84.30,346.78 84.60,347.85 84.90,348.40 85.20,347.69 85.50,347.05 85.80,346.81 86.10,346.47 86.40,346.36 86.70,347.16 87.00,346.98 87.30,346.23 87.60,344.74 87.90,345.17 88.20,345.67 88.50,345.32 88.80,344.04 89.10,345.50 89.40,346.89 89.70,343.68 90.00,344.56 90.30,345.65 90.60,343.87 90.90,343.73 91.20,344.05 91.50,344.22 91.80,343.29 92.10,344.25 92.40,341.80 92.70,343.71 93.00,343.33 93.30,342.77 93.60,343.07 93.90,342.65 94.20,343.54 94.50,341.97 94.80,342.17 95.10,340.96 95.40,341.03 95.70,341.61 96.00,340.42 96.30,340.86 96.60,340.34 96.90,340.87 97.20,341.22 97.50,341.75 97.80,339.31 98.10,340.56 98.40,341.28 98.70,341.55 99.00,341.44 99.30,339.03 99.60,339.63 99.90,340.36 100.20,340.52 100.50,339.87 100.80,339.72 101.10,339.57 101.40,338.63 101.70,339.24 102.00,339.63 102.30,338.58 102.60,339.66 102.90,336.32 103.20,338.21 103.50,339.71 103.80,338.93 104.10,339.26 104.40,338.10 104.70,336.93 105.00,337.35 105.30,338.86 105.60,336.06 105.90,336.66 106.20,335.94 106.50,336.78 106.80,336.77 107.10,337.47 107.40,336.25 107.70,338.19 108.00,337.25 108.30,336.26 108.60,335.76 108.90,335.28 109.20,336.49 109.50,337.91 109.80,336.12 110.10,335.36 110.40,336.06 110.70,335.63 111.00,335.25 111.30,334.39 111.60,335.80 111.90,336.97 112.20,336.70 112.50,336.44 112.80,335.75 113.10,335.90 113.40,336.27 113.70,335.36 114.00,335.56 114.30,334.96 114.60,336.12 114.90,334.42 115.20,335.65 115.50,335.73 115.80,335.66 116.10,335.50 116.40,334.51 116.70,334.37 117.00,334.44 117.30,334.42 117.60,333.77 117.90,334.26 118.20,334.06 118.50,333.76 118.80,334.77 119.10,333.83 119.40,334.59 119.70,335.52 120.00,335.65 120.30,334.28 120.60,335.04 120.90,334.39 121.20,336.07 121.50,335.43 121.80,334.98 122.10,333.92 122.40,333.82 122.70,334.43 123.00,333.94 123.30,333.74 123.60,334.47 123.90,332.89 124.20,332.26 124.50,333.03 124.80,332.90 125.10,333.74 125.40,333.09 125.70,333.62 126.00,332.13 126.30,334.92 126.60,334.04 126.90,333.01 127.20,333.95 127.50,334.67 127.80,334.34 128.10,333.57 128.40,334.13 128.70,334.33 129.00,332.63 129.30,332.43 129.60,333.10 129.90,334.35 130.20,334.74 130.50,333.64 130.80,334.73 131.10,334.31 131.40,333.44 131.70,332.89 132.00,332.96 132.30,333.53 132.60,334.58 132.90,334.12 133.20,332.38 133.50,332.43 133.80,334.07 134.10,333.56 134.40,332.63 134.70,333.93 135.00,334.48 135.30,334.01 135.60,333.45 135.90,334.44 136.20,333.04 136.50,332.87 136.80,332.60 137.10,334.86 137.40,335.04 137.70,333.30 138.00,333.80 138.30,333.69 138.60,334.07 138.90,334.28 139.20,333.87 139.50,333.24 139.80,332.90 140.10,332.50 140.40,331.21 140.70,333.24 141.00,332.65 141.30,333.34 141.60,333.23 141.90,332.49 142.20,332.91 142.50,333.65 142.80,333.45 143.10,332.61 143.40,332.71 143.70,333.77 144.00,333.51 144.30,333.56 144.60,333.18 144.90,333.91 145.20,333.39 145.50,335.35 145.80,332.94 146.10,332.75 146.40,334.64 146.70,333.26 147.00,332.69 147.30,333.66 147.60,331.45 147.90,333.67 148.20,333.33 148.50,333.53 148.80,332.67 149.10,334.37 149.40,333.56 149.70,333.30 150.00,333.60 150.30,332.64 150.60,333.21 150.90,332.11 151.20,332.43 151.50,333.55 151.80,333.40 152.10,333.90 152.40,332.78 152.70,333.22 153.00,332.76 153.30,333.51 153.60,333.93 153.90,334.16 154.20,333.76 154.50,332.67 154.80,333.47 155.10,332.47 155.40,331.76 155.70,333.44 156.00,333.37 156.30,333.89 156.60,333.96 156.90,332.31 157.20,332.57 157.50,333.29 157.80,333.35 158.10,333.62 158.40,332.25 158.70,333.09 159.00,333.80 159.30,334.81 159.60,332.28 159.90,334.58 160.20,333.06 160.50,332.13 160.80,334.35 161.10,332.43 161.40,332.35 161.70,333.86 162.00,334.11 162.30,333.34 162.60,332.70 162.90,332.09 163.20,333.37 163.50,331.41 163.80,332.11 164.10,334.12 164.40,333.77 164.70,334.25 165.00,333.60 165.30,332.36 165.60,333.65 165.90,331.82 166.20,333.83 166.50,334.36 166.80,332.47 167.10,334.09 167.40,333.30 167.70,333.14 168.00,331.69 168.30,333.14 168.60,333.96 168.90,331.89" fill="none" stroke="#c23a82" stroke-width="1.6" stroke-linejoin="round" stroke-linecap="round" opacity="1.0"/>
<polyline points="204.10,359.58 204.40,360.11 204.70,360.39 205.00,359.12 205.30,360.51 205.60,360.10 205.90,360.53 206.20,360.12 206.50,360.83 206.80,359.15 207.10,361.32 207.40,360.86 207.70,359.42 208.00,360.43 208.30,360.26 208.60,358.50 208.90,360.38 209.20,359.43 209.50,348.47 209.80,317.43 210.10,296.21 210.40,289.42 210.70,286.38 211.00,283.26 211.30,283.04 211.60,281.57 211.90,281.75 212.20,283.27 212.50,285.53 212.80,287.00 213.10,287.88 213.40,290.00 213.70,293.19 214.00,298.04 214.30,303.20 214.60,307.07 214.90,312.03 215.20,316.58 215.50,322.51 215.80,324.14 216.10,327.61 216.40,332.41 216.70,336.05 217.00,337.83 217.30,340.71 217.60,341.26 217.90,342.88 218.20,344.89 218.50,347.57 218.80,348.74 219.10,348.73 219.40,350.39 219.70,350.48 220.00,351.66 220.30,351.38 220.60,352.84 220.90,352.87 221.20,353.97 221.50,354.00 221.80,354.34 222.10,355.51 222.40,355.53 222.70,356.14 223.00,356.06 223.30,357.09 223.60,356.08 223.90,357.41 224.20,357.86 224.50,356.57 224.80,358.16 225.10,358.36 225.40,357.06 225.70,355.58 226.00,355.33 226.30,356.43 226.60,357.93 226.90,356.91 227.20,357.00 227.50,356.13 227.80,355.67 228.10,356.49 228.40,355.24 228.70,355.91 229.00,356.41 229.30,355.96 229.60,356.28 229.90,355.42 230.20,356.17 230.50,355.92 230.80,354.17 231.10,354.56 231.40,354.70 231.70,355.69 232.00,355.29 232.30,355.15 232.60,354.94 232.90,355.18 233.20,355.30 233.50,353.97 233.80,353.01 234.10,354.68 234.40,353.85 234.70,353.92 235.00,353.61 235.30,352.73 235.60,352.28 235.90,354.13 236.20,354.11 236.50,353.85 236.80,353.15 237.10,353.09 237.40,352.42 237.70,352.70 238.00,352.22 238.30,352.01 238.60,352.51 238.90,353.62 239.20,350.67 239.50,352.59 239.80,352.58 240.10,351.01 240.40,352.17 240.70,351.95 241.00,351.44 241.30,351.35 241.60,350.57 241.90,353.00 242.20,353.46 242.50,352.79 242.80,351.24 243.10,351.64 243.40,351.66 243.70,350.66 244.00,351.06 244.30,351.64 244.60,350.83 244.90,349.72 245.20,350.07 245.50,351.25 245.80,350.74 246.10,350.73 246.40,352.02 246.70,350.98 247.00,350.31 247.30,350.81 247.60,352.57 247.90,349.93 248.20,352.24 248.50,351.96 248.80,350.67 249.10,350.53 249.40,351.94 249.70,351.00 250.00,350.38 250.30,352.26 250.60,350.95 250.90,351.08 251.20,350.84 251.50,350.57 251.80,350.92 252.10,350.53 252.40,351.23 252.70,351.68 253.00,351.71 253.30,351.80 253.60,352.05 253.90,351.47 254.20,350.38 254.50,351.64 254.80,349.56 255.10,350.31 255.40,351.12 255.70,349.55 256.00,352.09 256.30,350.10 256.60,349.73 256.90,350.33 257.20,350.33 257.50,350.93 257.80,350.84 258.10,351.80 258.40,350.85 258.70,351.13 259.00,350.21 259.30,351.41 259.60,350.40 259.90,349.47 260.20,352.08 260.50,350.21 260.80,350.19 261.10,350.37 261.40,351.60 261.70,349.87 262.00,350.78 262.30,351.57 262.60,352.64 262.90,350.90 263.20,351.19 263.50,350.46 263.80,352.75 264.10,351.06 264.40,351.13 264.70,351.31 265.00,350.47 265.30,351.20 265.60,350.21 265.90,352.42 266.20,351.12 266.50,351.12 266.80,352.20 267.10,350.30 267.40,352.40 267.70,352.51 268.00,350.69 268.30,351.87 268.60,351.25 268.90,352.05 269.20,351.39 269.50,350.65 269.80,351.88 270.10,351.22 270.40,351.55 270.70,352.20 271.00,352.40 271.30,351.95 271.60,350.32 271.90,352.03 272.20,351.24 272.50,352.36 272.80,351.36 273.10,352.67 273.40,351.95 273.70,351.56 274.00,351.80 274.30,350.17 274.60,352.06 274.90,351.71 275.20,350.75 275.50,351.97 275.80,351.91 276.10,351.96 276.40,351.59 276.70,352.33 277.00,352.36 277.30,351.81 277.60,351.70 277.90,351.40 278.20,351.30 278.50,352.28 278.80,351.37 279.10,350.69 279.40,352.03 279.70,352.74 280.00,351.65 280.30,352.58 280.60,352.28 280.90,351.10 281.20,352.18 281.50,351.85 281.80,352.50 282.10,349.74 282.40,352.65 282.70,352.59 283.00,351.27 283.30,352.88 283.60,351.92 283.90,352.20 284.20,352.76 284.50,353.16 284.80,352.23 285.10,352.66 285.40,352.48 285.70,351.55 286.00,353.46 286.30,352.78 286.60,352.30 286.90,353.05 287.20,352.64 287.50,351.77 287.80,353.03 288.10,352.29 288.40,352.75 288.70,353.03 289.00,353.04 289.30,353.79 289.60,352.46 289.90,352.18 290.20,351.74 290.50,351.83 290.80,352.88 291.10,352.70 291.40,351.68 291.70,351.89 292.00,352.04 292.30,353.65 292.60,351.67 292.90,352.72 293.20,351.14 293.50,352.26 293.80,353.57 294.10,351.47 294.40,353.40 294.70,350.98 295.00,352.54 295.30,351.63 295.60,352.50 295.90,352.33 296.20,353.19 296.50,352.76 296.80,352.69 297.10,352.13 297.40,352.93 297.70,351.95 298.00,352.08 298.30,352.10 298.60,353.07 298.90,354.43 299.20,352.58 299.50,354.18 299.80,351.84 300.10,352.18 300.40,353.09 300.70,353.17 301.00,353.30 301.30,353.96 301.60,352.55 301.90,353.58 302.20,352.93 302.50,350.48 302.80,351.95 303.10,352.34 303.40,352.86 303.70,353.20 304.00,352.56 304.30,353.84 304.60,352.03 304.90,352.79 305.20,353.55 305.50,351.93 305.80,353.84 306.10,353.61 306.40,352.73 306.70,352.87 307.00,352.80 307.30,352.90 307.60,353.88 307.90,353.31 308.20,351.81 308.50,351.68 308.80,353.40 309.10,350.83 309.40,351.68 309.70,352.45 310.00,352.93 310.30,354.04 310.60,353.10 310.90,355.78 311.20,353.15 311.50,353.67 311.80,353.80 312.10,352.92 312.40,353.77 312.70,353.49 313.00,353.21 313.30,352.52 313.60,352.70 313.90,353.68 314.20,353.02 314.50,353.38 314.80,353.39 315.10,353.30 315.40,353.09 315.70,353.56 316.00,353.76 316.30,354.20 316.60,353.51 316.90,352.67 317.20,352.58 317.50,353.64 317.80,351.92 318.10,352.73 318.40,353.98 318.70,352.90 319.00,352.64 319.30,354.16 319.60,351.06 319.90,353.12 320.20,352.83 320.50,352.81 320.80,353.93 321.10,354.41 321.40,354.12 321.70,353.72 322.00,353.49 322.30,353.04 322.60,353.24 322.90,351.95 323.20,352.84 323.50,353.73 323.80,353.17 324.10,353.93 324.40,352.04 324.70,352.83 325.00,352.49 325.30,354.13 325.60,353.09 325.90,353.07 326.20,352.33 326.50,352.91 326.80,352.51 327.10,352.87" fill="none" stroke="#7e9f3a" stroke-width="1.6" stroke-linejoin="round" stroke-linecap="round" opacity="1.0"/>
<polyline points="204.10,360.63 204.40,360.50 204.70,359.88 205.00,360.42 205.30,359.38 205.60,358.44 205.90,361.24 206.20,360.28 206.50,358.25 206.80,359.05 207.10,359.40 207.40,360.17 207.70,360.96 208.00,360.15 208.30,359.55 208.60,360.27 208.90,359.72 209.20,360.05 209.50,348.14 209.80,316.58 210.10,298.28 210.40,291.52 210.70,289.53 211.00,287.48 211.30,286.41 211.60,285.86 211.90,286.43 212.20,287.21 212.50,287.59 212.80,288.07 213.10,292.41 213.40,292.67 213.70,295.32 214.00,297.79 214.30,302.36 214.60,307.57 214.90,310.08 215.20,315.73 215.50,321.69 215.80,327.73 216.10,329.54 216.40,331.43 216.70,334.04 217.00,338.19 217.30,338.77 217.60,340.80 217.90,344.17 218.20,344.03 218.50,344.96 218.80,345.76 219.10,348.45 219.40,349.31 219.70,348.46 220.00,348.53 220.30,350.19 220.60,351.98 220.90,351.81 221.20,350.99 221.50,352.70 221.80,353.47 222.10,353.20 222.40,353.68 222.70,353.80 223.00,353.60 223.30,353.63 223.60,353.22 223.90,353.51 224.20,353.21 224.50,355.08 224.80,355.23 225.10,355.00 225.40,355.39 225.70,355.17 226.00,354.58 226.30,355.38 226.60,355.00 226.90,355.11 227.20,353.60 227.50,354.83 227.80,355.57 228.10,354.92 228.40,354.47 228.70,353.80 229.00,354.51 229.30,356.11 229.60,354.42 229.90,355.68 230.20,354.38 230.50,355.53 230.80,354.18 231.10,354.83 231.40,354.96 231.70,354.85 232.00,353.52 232.30,353.92 232.60,353.40 232.90,353.89 233.20,353.63 233.50,353.57 233.80,354.13 234.10,352.67 234.40,352.73 234.70,352.76 235.00,352.88 235.30,352.28 235.60,353.17 235.90,351.73 236.20,353.85 236.50,352.30 236.80,353.03 237.10,351.05 237.40,351.49 237.70,351.67 238.00,352.80 238.30,351.29 238.60,352.21 238.90,350.27 239.20,351.86 239.50,349.93 239.80,348.87 240.10,348.53 240.40,350.10 240.70,349.58 241.00,349.78 241.30,349.35 241.60,349.63 241.90,350.38 242.20,348.75 242.50,348.98 242.80,348.28 243.10,347.04 243.40,348.04 243.70,349.29 244.00,347.27 244.30,349.60 244.60,348.04 244.90,347.78 245.20,348.00 245.50,347.09 245.80,346.94 246.10,347.80 246.40,345.98 246.70,346.27 247.00,345.27 247.30,346.13 247.60,348.31 247.90,346.65 248.20,344.78 248.50,343.94 248.80,345.63 249.10,345.58 249.40,344.36 249.70,345.76 250.00,344.86 250.30,344.94 250.60,344.82 250.90,344.94 251.20,343.54 251.50,343.19 251.80,344.69 252.10,343.33 252.40,342.33 252.70,343.45 253.00,342.65 253.30,343.14 253.60,345.29 253.90,344.06 254.20,342.14 254.50,341.39 254.80,342.25 255.10,341.36 255.40,342.20 255.70,342.12 256.00,342.29 256.30,341.65 256.60,340.42 256.90,341.30 257.20,341.35 257.50,341.36 257.80,342.03 258.10,340.12 258.40,340.71 258.70,340.25 259.00,339.94 259.30,341.01 259.60,339.90 259.90,341.83 260.20,338.17 260.50,341.27 260.80,339.77 261.10,338.87 261.40,339.89 261.70,339.75 262.00,340.33 262.30,340.46 262.60,338.75 262.90,339.26 263.20,339.44 263.50,339.23 263.80,338.71 264.10,339.98 264.40,339.04 264.70,337.65 265.00,338.85 265.30,338.34 265.60,338.22 265.90,339.04 266.20,338.80 266.50,338.43 266.80,338.46 267.10,338.74 267.40,337.47 267.70,337.96 268.00,338.82 268.30,337.25 268.60,337.28 268.90,337.08 269.20,338.33 269.50,337.04 269.80,338.20 270.10,336.94 270.40,337.36 270.70,337.38 271.00,336.63 271.30,336.19 271.60,337.69 271.90,336.53 272.20,337.19 272.50,337.24 272.80,335.49 273.10,337.57 273.40,336.62 273.70,336.21 274.00,336.09 274.30,335.94 274.60,336.46 274.90,337.87 275.20,336.06 275.50,335.19 275.80,335.82 276.10,337.64 276.40,335.97 276.70,337.41 277.00,335.18 277.30,335.11 277.60,334.76 277.90,334.86 278.20,335.50 278.50,335.59 278.80,334.03 279.10,334.54 279.40,334.67 279.70,334.94 280.00,336.28 280.30,336.34 280.60,335.41 280.90,335.62 281.20,334.28 281.50,335.14 281.80,333.41 282.10,334.70 282.40,334.92 282.70,335.29 283.00,334.46 283.30,334.40 283.60,333.63 283.90,332.57 284.20,333.79 284.50,332.71 284.80,333.87 285.10,333.88 285.40,332.96 285.70,332.56 286.00,333.82 286.30,333.44 286.60,334.21 286.90,334.52 287.20,335.07 287.50,334.51 287.80,332.95 288.10,333.59 288.40,335.29 288.70,332.87 289.00,333.24 289.30,334.55 289.60,333.93 289.90,332.92 290.20,333.66 290.50,332.87 290.80,334.03 291.10,333.19 291.40,333.30 291.70,333.40 292.00,331.62 292.30,333.06 292.60,333.49 292.90,333.20 293.20,332.70 293.50,333.05 293.80,334.26 294.10,333.61 294.40,332.54 294.70,333.89 295.00,333.25 295.30,332.60 295.60,331.54 295.90,333.41 296.20,332.04 296.50,333.19 296.80,333.78 297.10,333.44 297.40,331.90 297.70,332.11 298.00,333.36 298.30,333.69 298.60,332.81 298.90,332.66 299.20,334.23 299.50,334.09 299.80,332.96 300.10,332.45 300.40,333.25 300.70,331.72 301.00,332.87 301.30,332.88 301.60,333.66 301.90,333.10 302.20,331.19 302.50,334.12 302.80,333.09 303.10,331.00 303.40,331.35 303.70,333.13 304.00,331.51 304.30,333.20 304.60,331.68 304.90,331.24 305.20,333.78 305.50,333.89 305.80,332.25 306.10,333.78 306.40,332.76 306.70,332.87 307.00,332.30 307.30,332.99 307.60,333.63 307.90,333.64 308.20,334.13 308.50,333.93 308.80,332.99 309.10,332.05 309.40,333.14 309.70,332.97 310.00,332.11 310.30,331.51 310.60,331.77 310.90,331.17 311.20,331.68 311.50,332.54 311.80,333.39 312.10,332.46 312.40,331.93 312.70,331.98 313.00,332.20 313.30,333.32 313.60,332.41 313.90,330.86 314.20,332.28 314.50,330.86 314.80,331.67 315.10,332.30 315.40,331.50 315.70,332.09 316.00,333.13 316.30,331.50 316.60,333.00 316.90,332.85 317.20,332.68 317.50,331.43 317.80,332.99 318.10,332.41 318.40,332.69 318.70,332.12 319.00,333.10 319.30,331.00 319.60,332.39 319.90,332.69 320.20,334.26 320.50,330.80 320.80,331.08 321.10,331.84 321.40,332.23 321.70,331.36 322.00,332.56 322.30,331.78 322.60,332.04 322.90,330.86 323.20,332.25 323.50,332.00 323.80,333.09 324.10,332.53 324.40,333.08 324.70,332.15 325.00,331.27 325.30,332.42 325.60,330.64 325.90,330.73 326.20,331.32 326.50,332.47 326.80,332.65 327.10,330.41" fill="none" stroke="#4f5ab2" stroke-width="1.6" stroke-linejoin="round" stroke-linecap="round" opacity="1.0"/>
<polyline points="204.10,360.22 204.40,359.45 204.70,360.37 205.00,359.93 205.30,358.64 205.60,360.70 205.90,359.82 206.20,360.40 206.50,361.37 206.80,360.11 207.10,359.04 207.40,359.36 207.70,360.71 208.00,358.73 208.30,360.11 208.60,360.20 208.90,358.98 209.20,360.04 209.50,349.12 209.80,316.93 210.10,296.87 210.40,292.21 210.70,288.40 211.00,287.26 211.30,287.61 211.60,286.21 211.90,284.77 212.20,286.25 212.50,288.71 212.80,287.30 213.10,290.82 213.40,292.61 213.70,294.42 214.00,298.72 214.30,302.02 214.60,308.32 214.90,312.84 215.20,315.64 215.50,321.20 215.80,325.89 216.10,328.70 216.40,332.54 216.70,334.18 217.00,337.87 217.30,339.18 217.60,341.04 217.90,342.97 218.20,344.73 218.50,344.46 218.80,347.01 219.10,348.09 219.40,348.17 219.70,350.23 220.00,349.05 220.30,349.85 220.60,351.19 220.90,350.90 221.20,353.07 221.50,352.59 221.80,354.23 222.10,352.38 222.40,352.79 222.70,354.87 223.00,353.16 223.30,355.02 223.60,353.67 223.90,354.68 224.20,355.53 224.50,354.68 224.80,353.93 225.10,354.57 225.40,355.96 225.70,355.29 226.00,355.77 226.30,355.32 226.60,355.51 226.90,355.15 227.20,354.49 227.50,355.72 227.80,355.41 228.10,353.65 228.40,355.19 228.70,355.92 229.00,356.63 229.30,353.94 229.60,355.04 229.90,355.33 230.20,355.41 230.50,354.16 230.80,355.05 231.10,354.22 231.40,354.43 231.70,353.96 232.00,354.55 232.30,353.90 232.60,354.36 232.90,353.95 233.20,354.63 233.50,355.13 233.80,353.59 234.10,352.93 234.40,353.19 234.70,352.80 235.00,351.75 235.30,352.94 235.60,352.36 235.90,353.31 236.20,352.32 236.50,352.99 236.80,352.68 237.10,351.49 237.40,351.45 237.70,351.11 238.00,350.98 238.30,351.82 238.60,350.56 238.90,350.45 239.20,349.96 239.50,351.54 239.80,349.95 240.10,349.94 240.40,349.19 240.70,349.89 241.00,348.91 241.30,348.83 241.60,347.57 241.90,347.73 242.20,349.03 242.50,349.33 242.80,347.24 243.10,348.54 243.40,348.40 243.70,350.53 244.00,347.14 244.30,347.23 244.60,346.77 244.90,348.10 245.20,348.12 245.50,346.91 245.80,348.17 246.10,348.48 246.40,346.27 246.70,346.92 247.00,346.17 247.30,345.65 247.60,345.63 247.90,345.66 248.20,344.66 248.50,345.47 248.80,346.02 249.10,344.47 249.40,344.66 249.70,344.20 250.00,345.08 250.30,344.55 250.60,345.23 250.90,344.09 251.20,343.03 251.50,344.51 251.80,343.68 252.10,344.70 252.40,344.23 252.70,341.42 253.00,341.82 253.30,343.30 253.60,342.55 253.90,341.24 254.20,342.49 254.50,343.83 254.80,343.19 255.10,341.86 255.40,342.68 255.70,343.15 256.00,342.08 256.30,343.53 256.60,341.43 256.90,343.57 257.20,343.00 257.50,342.08 257.80,341.74 258.10,341.47 258.40,340.59 258.70,342.02 259.00,342.15 259.30,341.65 259.60,341.15 259.90,340.91 260.20,339.97 260.50,340.10 260.80,339.37 261.10,340.81 261.40,339.61 261.70,340.91 262.00,339.62 262.30,341.20 262.60,341.23 262.90,341.11 263.20,340.72 263.50,339.48 263.80,339.39 264.10,338.98 264.40,339.75 264.70,340.76 265.00,338.48 265.30,341.22 265.60,338.76 265.90,338.22 266.20,339.36 266.50,339.89 266.80,338.69 267.10,338.11 267.40,340.27 267.70,337.94 268.00,339.56 268.30,338.84 268.60,338.37 268.90,338.66 269.20,337.70 269.50,337.64 269.80,338.73 270.10,337.61 270.40,337.78 270.70,339.51 271.00,339.75 271.30,339.15 271.60,338.94 271.90,337.98 272.20,338.22 272.50,337.52 272.80,335.82 273.10,338.19 273.40,338.17 273.70,338.75 274.00,336.96 274.30,338.80 274.60,337.42 274.90,336.82 275.20,337.57 275.50,338.49 275.80,337.70 276.10,338.03 276.40,336.94 276.70,338.00 277.00,338.37 277.30,336.85 277.60,337.86 277.90,336.42 278.20,337.65 278.50,336.24 278.80,337.73 279.10,337.37 279.40,336.45 279.70,337.61 280.00,336.50 280.30,337.33 280.60,336.50 280.90,337.64 281.20,336.73 281.50,338.30 281.80,337.49 282.10,337.53 282.40,336.01 282.70,335.39 283.00,336.39 283.30,338.45 283.60,336.23 283.90,337.94 284.20,337.94 284.50,336.45 284.80,336.72 285.10,337.91 285.40,336.64 285.70,336.50 286.00,336.34 286.30,336.84 286.60,336.67 286.90,337.72 287.20,336.90 287.50,337.64 287.80,336.59 288.10,338.65 288.40,336.54 288.70,336.49 289.00,335.95 289.30,335.22 289.60,335.86 289.90,336.70 290.20,335.72 290.50,337.16 290.80,335.18 291.10,335.12 291.40,336.68 291.70,336.73 292.00,335.50 292.30,337.25 292.60,337.47 292.90,336.64 293.20,335.31 293.50,337.31 293.80,336.07 294.10,336.14 294.40,336.65 294.70,335.69 295.00,337.43 295.30,335.71 295.60,337.04 295.90,336.79 296.20,337.57 296.50,336.54 296.80,336.81 297.10,335.80 297.40,335.91 297.70,335.60 298.00,336.66 298.30,335.53 298.60,337.24 298.90,335.93 299.20,335.06 299.50,335.46 299.80,336.90 300.10,335.58 300.40,336.42 300.70,334.68 301.00,336.27 301.30,336.52 301.60,336.29 301.90,336.50 302.20,335.08 302.50,334.54 302.80,334.80 303.10,336.49 303.40,336.13 303.70,336.44 304.00,335.34 304.30,336.42 304.60,334.54 304.90,336.08 305.20,334.92 305.50,335.39 305.80,336.24 306.10,336.40 306.40,335.57 306.70,335.41 307.00,336.75 307.30,336.49 307.60,335.12 307.90,335.88 308.20,335.47 308.50,336.40 308.80,335.98 309.10,335.96 309.40,335.68 309.70,335.17 310.00,336.46 310.30,335.91 310.60,333.74 310.90,335.26 311.20,335.77 311.50,334.96 311.80,334.80 312.10,335.02 312.40,335.79 312.70,334.75 313.00,335.79 313.30,336.57 313.60,336.23 313.90,336.25 314.20,335.29 314.50,336.39 314.80,335.46 315.10,336.14 315.40,334.53 315.70,336.41 316.00,334.95 316.30,335.43 316.60,336.23 316.90,335.39 317.20,335.00 317.50,335.24 317.80,336.23 318.10,336.23 318.40,335.87 318.70,334.83 319.00,335.00 319.30,335.84 319.60,335.90 319.90,334.73 320.20,334.73 320.50,335.83 320.80,336.14 321.10,335.33 321.40,334.32 321.70,336.52 322.00,335.28 322.30,335.61 322.60,333.52 322.90,334.65 323.20,335.06 323.50,335.45 323.80,334.49 324.10,333.96 324.40,333.87 324.70,334.86 325.00,335.38 325.30,335.34 325.60,333.77 325.90,334.57 326.20,335.04 326.50,335.90 326.80,335.55 327.10,335.31" fill="none" stroke="#c23a82" stroke-width="1.6" stroke-linejoin="round" stroke-linecap="round" opacity="1.0"/>
<polyline points="361.10,364.41 361.40,365.61 361.70,365.39 362.00,365.80 362.30,364.34 362.60,366.29 362.90,365.48 363.20,364.46 363.50,364.31 363.80,364.35 364.10,364.83 364.40,366.35 364.70,366.12 365.00,364.96 365.30,364.96 365.60,366.94 365.90,345.72 366.20,315.89 366.50,301.91 366.80,293.89 367.10,291.56 367.40,290.29 367.70,288.19 368.00,288.30 368.30,288.65 368.60,289.35 368.90,289.02 369.20,290.34 369.50,293.20 369.80,292.79 370.10,294.95 370.40,297.78 370.70,299.76 371.00,302.80 371.30,307.28 371.60,309.94 371.90,311.17 372.20,315.39 372.50,317.64 372.80,320.77 373.10,325.44 373.40,330.24 373.70,332.51 374.00,337.12 374.30,338.13 374.60,341.93 374.90,344.58 375.20,347.09 375.50,350.09 375.80,351.82 376.10,352.87 376.40,354.03 376.70,356.26 377.00,357.98 377.30,358.67 377.60,358.92 377.90,359.64 378.20,362.45 378.50,362.57 378.80,362.28 379.10,363.45 379.40,363.82 379.70,363.56 380.00,363.66 380.30,365.17 380.60,365.15 380.90,365.80 381.20,365.61 381.50,365.11 381.80,364.62 382.10,364.73 382.40,364.55 382.70,365.10 383.00,365.23 383.30,366.02 383.60,366.18 383.90,365.11 384.20,365.45 384.50,364.21 384.80,364.63 385.10,364.31 385.40,365.30 385.70,364.78 386.00,364.60 386.30,365.21 386.60,363.75 386.90,365.18 387.20,365.63 387.50,366.26 387.80,364.34 388.10,364.95 388.40,363.66 388.70,366.37 389.00,365.15 389.30,365.50 389.60,364.10 389.90,365.12 390.20,364.84 390.50,364.36 390.80,364.39 391.10,364.57 391.40,364.64 391.70,363.93 392.00,366.39 392.30,365.31 392.60,365.43 392.90,365.42 393.20,365.12 393.50,365.24 393.80,365.73 394.10,365.08 394.40,366.31 394.70,365.12 395.00,366.22 395.30,364.57 395.60,365.53 395.90,365.85 396.20,366.35 396.50,366.37 396.80,364.54 397.10,364.80 397.40,366.55 397.70,365.02 398.00,364.12 398.30,366.20 398.60,365.80 398.90,364.38 399.20,364.86 399.50,366.34 399.80,364.98 400.10,364.89 400.40,365.01 400.70,366.36 401.00,364.03 401.30,365.59 401.60,365.37 401.90,365.64 402.20,365.85 402.50,365.30 402.80,365.74 403.10,365.63 403.40,366.39 403.70,363.52 404.00,365.20 404.30,365.39 404.60,364.28 404.90,366.42 405.20,365.77 405.50,364.05 405.80,365.17 406.10,365.93 406.40,365.48 406.70,364.82 407.00,365.88 407.30,365.66 407.60,364.70 407.90,365.25 408.20,366.44 408.50,366.36 408.80,364.69 409.10,364.95 409.40,366.54 409.70,365.91 410.00,365.49 410.30,365.21 410.60,365.61 410.90,366.18 411.20,363.64 411.50,366.14 411.80,364.75 412.10,364.45 412.40,364.96 412.70,364.62 413.00,364.68 413.30,365.51 413.60,365.14 413.90,366.25 414.20,364.27 414.50,366.10 414.80,364.54 415.10,365.61 415.40,365.23 415.70,366.22 416.00,364.50 416.30,365.55 416.60,366.71 416.90,366.50 417.20,365.29 417.50,366.10 417.80,366.36 418.10,365.92 418.40,366.46 418.70,366.31 419.00,363.76 419.30,366.03 419.60,368.34 419.90,365.24 420.20,365.30 420.50,365.58 420.80,364.91 421.10,365.28 421.40,365.46 421.70,367.12 422.00,365.35 422.30,365.99 422.60,365.38 422.90,364.80 423.20,365.02 423.50,364.65 423.80,366.62 424.10,365.34 424.40,364.39 424.70,365.52 425.00,367.16 425.30,365.74 425.60,365.51 425.90,365.76 426.20,365.22 426.50,364.71 426.80,366.57 427.10,362.90 427.40,365.11 427.70,364.82 428.00,365.36 428.30,364.94 428.60,366.43 428.90,366.77 429.20,365.65 429.50,364.52 429.80,364.94 430.10,365.24 430.40,364.81 430.70,364.53 431.00,366.91 431.30,366.27 431.60,364.75 431.90,364.82 432.20,365.57 432.50,364.99 432.80,365.97 433.10,366.15 433.40,365.55 433.70,364.78 434.00,365.27 434.30,364.21 434.60,365.22 434.90,366.95 435.20,365.07 435.50,366.05 435.80,366.47 436.10,366.79 436.40,364.45 436.70,365.35 437.00,365.06 437.30,366.59 437.60,366.38 437.90,364.66 438.20,365.07 438.50,365.79 438.80,367.15 439.10,365.22 439.40,366.48 439.70,364.84 440.00,364.53 440.30,366.16 440.60,364.88 440.90,364.26 441.20,366.50 441.50,365.99 441.80,364.48 442.10,366.19 442.40,365.85 442.70,365.95 443.00,364.65 443.30,365.17 443.60,363.80 443.90,363.80 444.20,366.14 444.50,365.12 444.80,365.66 445.10,365.32 445.40,365.08 445.70,365.09 446.00,365.89 446.30,365.30 446.60,364.26 446.90,366.39 447.20,366.61 447.50,366.11 447.80,366.68 448.10,365.65 448.40,365.52 448.70,366.40 449.00,365.93 449.30,364.55 449.60,365.36 449.90,365.57 450.20,367.25 450.50,365.54 450.80,364.89 451.10,364.63 451.40,365.37 451.70,364.98 452.00,365.40 452.30,364.69 452.60,364.20 452.90,365.27 453.20,365.77 453.50,365.58 453.80,364.27 454.10,365.25 454.40,366.12 454.70,365.72 455.00,364.97 455.30,365.12 455.60,365.12 455.90,365.65 456.20,365.19 456.50,365.84 456.80,365.62 457.10,365.60 457.40,366.11 457.70,366.15 458.00,365.17 458.30,365.25 458.60,366.22 458.90,365.24 459.20,364.50 459.50,365.02 459.80,364.64 460.10,365.46 460.40,365.56 460.70,366.55 461.00,365.82 461.30,365.97 461.60,366.67 461.90,366.08 462.20,364.79 462.50,365.42 462.80,364.96 463.10,365.33 463.40,366.42 463.70,367.75 464.00,366.13 464.30,365.68 464.60,364.91 464.90,365.70 465.20,366.72 465.50,364.87 465.80,365.83 466.10,366.14 466.40,366.25 466.70,367.38 467.00,365.50 467.30,365.69 467.60,364.67 467.90,365.12 468.20,364.75 468.50,365.57 468.80,365.84 469.10,366.04 469.40,366.12 469.70,365.09 470.00,364.69 470.30,364.69 470.60,365.26 470.90,365.14 471.20,364.55 471.50,365.81 471.80,364.62 472.10,365.39 472.40,365.02 472.70,365.76 473.00,365.88 473.30,364.77 473.60,365.82 473.90,367.08 474.20,365.86 474.50,364.64 474.80,367.24 475.10,364.75 475.40,366.07 475.70,364.65 476.00,366.08 476.30,365.38 476.60,365.91 476.90,365.68 477.20,364.31 477.50,364.22 477.80,364.83 478.10,366.19 478.40,365.75 478.70,366.46 479.00,366.47 479.30,366.86 479.60,364.74 479.90,364.58 480.20,364.62 480.50,366.57 480.80,365.17 481.10,365.74 481.40,367.03 481.70,365.20 482.00,365.01 482.30,364.75 482.60,366.27 482.90,366.32 483.20,365.58 483.50,365.21 483.80,365.41 484.10,365.81 484.40,366.35 484.70,364.72 485.00,364.89 485.30,366.21" fill="none" stroke="#4f5ab2" stroke-width="1.9000000000000001" stroke-linejoin="round" stroke-linecap="round" opacity="1.0"/>
<polyline points="361.10,365.14 361.40,364.07 361.70,365.50 362.00,365.65 362.30,363.34 362.60,363.86 362.90,365.00 363.20,364.65 363.50,364.89 363.80,364.22 364.10,365.60 364.40,365.52 364.70,364.95 365.00,365.80 365.30,365.27 365.60,364.21 365.90,365.20 366.20,364.13 366.50,345.70 366.80,316.62 367.10,301.61 367.40,292.98 367.70,290.71 368.00,286.76 368.30,284.52 368.60,283.59 368.90,284.40 369.20,285.10 369.50,286.49 369.80,288.21 370.10,291.46 370.40,291.33 370.70,293.65 371.00,296.32 371.30,300.70 371.60,304.49 371.90,306.84 372.20,309.48 372.50,312.80 372.80,317.37 373.10,320.88 373.40,324.16 373.70,326.62 374.00,330.91 374.30,334.45 374.60,338.03 374.90,341.74 375.20,344.01 375.50,347.00 375.80,348.95 376.10,351.32 376.40,353.51 376.70,353.57 377.00,356.12 377.30,357.43 377.60,358.44 377.90,359.50 378.20,361.57 378.50,360.28 378.80,362.27 379.10,360.60 379.40,362.02 379.70,362.64 380.00,363.07 380.30,363.18 380.60,363.25 380.90,362.35 381.20,362.27 381.50,363.33 381.80,362.50 382.10,361.64 382.40,361.77 382.70,361.94 383.00,363.09 383.30,362.81 383.60,363.25 383.90,362.37 384.20,362.84 384.50,363.22 384.80,362.48 385.10,363.10 385.40,362.21 385.70,362.45 386.00,362.44 386.30,361.79 386.60,363.14 386.90,362.38 387.20,362.77 387.50,363.15 387.80,363.13 388.10,363.30 388.40,362.70 388.70,362.44 389.00,362.72 389.30,361.43 389.60,361.63 389.90,361.73 390.20,361.99 390.50,363.11 390.80,362.07 391.10,362.49 391.40,363.83 391.70,362.51 392.00,363.39 392.30,362.05 392.60,362.63 392.90,362.04 393.20,362.53 393.50,363.47 393.80,361.42 394.10,363.15 394.40,362.99 394.70,362.32 395.00,361.64 395.30,362.86 395.60,362.37 395.90,362.98 396.20,362.81 396.50,364.07 396.80,362.59 397.10,361.95 397.40,362.91 397.70,362.93 398.00,363.84 398.30,363.41 398.60,363.01 398.90,363.89 399.20,361.75 399.50,362.18 399.80,361.94 400.10,362.35 400.40,361.55 400.70,363.15 401.00,362.45 401.30,361.43 401.60,361.78 401.90,362.83 402.20,363.24 402.50,364.15 402.80,364.87 403.10,362.85 403.40,361.71 403.70,360.78 404.00,362.69 404.30,361.81 404.60,362.12 404.90,361.94 405.20,362.31 405.50,363.26 405.80,362.52 406.10,362.26 406.40,361.54 406.70,361.02 407.00,361.96 407.30,362.30 407.60,363.75 407.90,362.43 408.20,363.11 408.50,361.91 408.80,361.36 409.10,361.53 409.40,361.72 409.70,364.00 410.00,361.64 410.30,362.97 410.60,361.58 410.90,363.05 411.20,362.61 411.50,362.18 411.80,362.27 412.10,361.78 412.40,362.66 412.70,361.94 413.00,361.32 413.30,361.28 413.60,362.44 413.90,363.57 414.20,362.44 414.50,362.21 414.80,362.54 415.10,363.36 415.40,362.49 415.70,361.99 416.00,363.20 416.30,362.66 416.60,363.55 416.90,362.47 417.20,361.34 417.50,361.23 417.80,363.65 418.10,363.71 418.40,362.19 418.70,362.03 419.00,363.50 419.30,361.45 419.60,361.62 419.90,362.85 420.20,362.03 420.50,362.34 420.80,362.21 421.10,362.62 421.40,363.48 421.70,362.42 422.00,362.87 422.30,360.72 422.60,362.32 422.90,361.68 423.20,361.39 423.50,361.66 423.80,362.10 424.10,363.10 424.40,361.31 424.70,362.40 425.00,361.99 425.30,362.11 425.60,363.18 425.90,362.81 426.20,363.45 426.50,362.26 426.80,361.83 427.10,362.21 427.40,362.58 427.70,362.53 428.00,361.52 428.30,362.46 428.60,362.58 428.90,364.41 429.20,363.90 429.50,361.72 429.80,362.17 430.10,361.23 430.40,361.93 430.70,362.66 431.00,363.37 431.30,361.82 431.60,361.88 431.90,360.69 432.20,362.28 432.50,361.56 432.80,361.99 433.10,361.71 433.40,362.34 433.70,361.01 434.00,361.24 434.30,364.12 434.60,361.39 434.90,361.54 435.20,363.89 435.50,364.74 435.80,361.48 436.10,362.13 436.40,362.70 436.70,363.81 437.00,361.64 437.30,362.23 437.60,363.05 437.90,362.78 438.20,362.13 438.50,362.32 438.80,361.33 439.10,362.24 439.40,362.22 439.70,362.62 440.00,361.99 440.30,362.81 440.60,363.25 440.90,362.56 441.20,362.72 441.50,362.48 441.80,362.44 442.10,361.87 442.40,362.70 442.70,362.37 443.00,364.12 443.30,363.71 443.60,362.76 443.90,361.84 444.20,361.56 444.50,363.40 444.80,362.66 445.10,362.84 445.40,361.06 445.70,363.20 446.00,362.82 446.30,361.57 446.60,362.08 446.90,362.67 447.20,362.50 447.50,362.23 447.80,362.38 448.10,362.26 448.40,362.58 448.70,363.64 449.00,360.41 449.30,362.28 449.60,362.61 449.90,362.70 450.20,362.17 450.50,361.06 450.80,362.73 451.10,363.85 451.40,361.24 451.70,363.16 452.00,362.21 452.30,362.43 452.60,361.63 452.90,362.21 453.20,363.52 453.50,362.94 453.80,363.86 454.10,363.42 454.40,362.83 454.70,363.88 455.00,362.83 455.30,363.15 455.60,362.25 455.90,362.54 456.20,361.93 456.50,363.28 456.80,361.55 457.10,363.12 457.40,362.34 457.70,363.43 458.00,363.09 458.30,363.95 458.60,363.08 458.90,361.24 459.20,362.44 459.50,361.56 459.80,362.08 460.10,363.71 460.40,363.01 460.70,361.94 461.00,361.69 461.30,362.53 461.60,361.53 461.90,361.97 462.20,362.76 462.50,363.43 462.80,363.00 463.10,360.68 463.40,362.76 463.70,362.57 464.00,362.85 464.30,363.81 464.60,360.87 464.90,362.05 465.20,362.99 465.50,361.26 465.80,363.70 466.10,362.82 466.40,363.20 466.70,362.07 467.00,363.18 467.30,363.38 467.60,362.71 467.90,362.72 468.20,362.75 468.50,361.84 468.80,362.41 469.10,362.41 469.40,362.84 469.70,363.34 470.00,361.69 470.30,362.44 470.60,363.73 470.90,361.95 471.20,361.88 471.50,362.71 471.80,363.22 472.10,362.56 472.40,363.61 472.70,363.23 473.00,363.22 473.30,362.99 473.60,364.41 473.90,362.39 474.20,360.95 474.50,363.84 474.80,362.19 475.10,362.64 475.40,363.61 475.70,361.28 476.00,361.56 476.30,361.28 476.60,361.93 476.90,362.92 477.20,362.99 477.50,362.79 477.80,361.44 478.10,360.72 478.40,362.61 478.70,362.20 479.00,362.94 479.30,363.14 479.60,362.69 479.90,363.19 480.20,362.76 480.50,363.00 480.80,362.02 481.10,362.44 481.40,362.74 481.70,363.24 482.00,362.27 482.30,363.00 482.60,362.38 482.90,362.50 483.20,363.25 483.50,361.00 483.80,361.56 484.10,361.41 484.40,360.73 484.70,362.05 485.00,363.20 485.30,362.37" fill="none" stroke="#c23a82" stroke-width="1.6" stroke-linejoin="round" stroke-linecap="round" opacity="1.0"/>
<polyline points="361.10,364.78 361.40,365.11 361.70,364.16 362.00,363.92 362.30,363.11 362.60,365.33 362.90,364.61 363.20,364.75 363.50,364.01 363.80,365.52 364.10,365.31 364.40,364.51 364.70,364.18 365.00,364.33 365.30,364.00 365.60,364.62 365.90,364.14 366.20,361.61 366.50,335.83 366.80,309.73 367.10,301.28 367.40,293.66 367.70,289.88 368.00,288.86 368.30,285.36 368.60,286.50 368.90,287.37 369.20,287.59 369.50,288.84 369.80,288.84 370.10,292.42 370.40,294.26 370.70,295.64 371.00,300.91 371.30,301.75 371.60,304.64 371.90,307.68 372.20,312.29 372.50,315.89 372.80,319.42 373.10,322.31 373.40,325.39 373.70,330.15 374.00,332.48 374.30,335.81 374.60,341.07 374.90,343.06 375.20,345.96 375.50,348.58 375.80,349.96 376.10,352.00 376.40,354.63 376.70,355.34 377.00,357.54 377.30,358.48 377.60,358.60 377.90,361.00 378.20,360.04 378.50,361.87 378.80,362.36 379.10,363.78 379.40,362.39 379.70,363.09 380.00,363.52 380.30,363.76 380.60,364.29 380.90,363.89 381.20,363.69 381.50,364.46 381.80,365.28 382.10,362.71 382.40,363.74 382.70,364.32 383.00,363.83 383.30,364.86 383.60,363.54 383.90,363.05 384.20,364.47 384.50,361.75 384.80,363.48 385.10,365.62 385.40,363.88 385.70,364.13 386.00,363.16 386.30,363.86 386.60,363.78 386.90,365.29 387.20,363.15 387.50,361.84 387.80,364.22 388.10,365.08 388.40,363.41 388.70,362.56 389.00,363.13 389.30,364.27 389.60,363.52 389.90,363.98 390.20,362.18 390.50,363.57 390.80,364.55 391.10,363.76 391.40,363.20 391.70,364.76 392.00,364.71 392.30,363.63 392.60,363.42 392.90,364.94 393.20,363.57 393.50,363.86 393.80,365.34 394.10,364.13 394.40,363.62 394.70,362.51 395.00,364.03 395.30,363.94 395.60,363.54 395.90,364.70 396.20,363.04 396.50,362.83 396.80,363.43 397.10,363.98 397.40,362.88 397.70,363.12 398.00,363.37 398.30,363.96 398.60,363.46 398.90,364.72 399.20,362.32 399.50,364.28 399.80,363.53 400.10,364.33 400.40,365.46 400.70,363.93 401.00,364.13 401.30,364.61 401.60,362.99 401.90,364.49 402.20,364.61 402.50,363.90 402.80,364.49 403.10,364.10 403.40,363.43 403.70,363.02 404.00,364.75 404.30,365.35 404.60,363.43 404.90,364.29 405.20,363.11 405.50,363.67 405.80,363.65 406.10,363.17 406.40,363.98 406.70,364.78 407.00,364.46 407.30,363.65 407.60,365.11 407.90,364.21 408.20,365.40 408.50,363.07 408.80,366.32 409.10,363.92 409.40,363.17 409.70,363.26 410.00,364.76 410.30,364.74 410.60,364.68 410.90,364.53 411.20,363.23 411.50,363.96 411.80,362.34 412.10,363.42 412.40,364.58 412.70,362.67 413.00,365.87 413.30,365.04 413.60,363.23 413.90,364.64 414.20,364.51 414.50,363.99 414.80,364.54 415.10,363.90 415.40,364.09 415.70,364.52 416.00,364.47 416.30,364.37 416.60,364.39 416.90,364.86 417.20,364.73 417.50,363.25 417.80,363.58 418.10,365.25 418.40,365.32 418.70,364.57 419.00,363.95 419.30,364.78 419.60,364.67 419.90,363.00 420.20,364.22 420.50,363.12 420.80,363.82 421.10,364.19 421.40,365.46 421.70,362.59 422.00,363.91 422.30,364.69 422.60,364.68 422.90,364.82 423.20,363.43 423.50,364.08 423.80,363.83 424.10,365.16 424.40,364.08 424.70,364.20 425.00,364.33 425.30,363.20 425.60,364.57 425.90,363.36 426.20,364.33 426.50,363.65 426.80,365.09 427.10,364.22 427.40,365.64 427.70,362.52 428.00,365.22 428.30,364.84 428.60,364.42 428.90,365.85 429.20,363.13 429.50,364.36 429.80,365.13 430.10,364.66 430.40,363.92 430.70,364.69 431.00,363.89 431.30,363.95 431.60,363.71 431.90,365.00 432.20,364.44 432.50,366.09 432.80,364.84 433.10,363.10 433.40,364.81 433.70,363.39 434.00,364.00 434.30,364.32 434.60,363.40 434.90,363.83 435.20,363.71 435.50,364.32 435.80,364.16 436.10,364.14 436.40,365.50 436.70,364.63 437.00,364.54 437.30,365.04 437.60,365.62 437.90,365.27 438.20,363.43 438.50,364.62 438.80,364.80 439.10,364.95 439.40,364.12 439.70,364.28 440.00,363.56 440.30,363.95 440.60,363.35 440.90,365.19 441.20,363.84 441.50,363.53 441.80,364.45 442.10,364.31 442.40,363.72 442.70,364.52 443.00,363.77 443.30,364.62 443.60,364.22 443.90,364.40 444.20,363.95 444.50,363.74 444.80,364.43 445.10,363.06 445.40,365.28 445.70,363.90 446.00,365.80 446.30,364.75 446.60,364.18 446.90,363.79 447.20,364.64 447.50,364.59 447.80,364.57 448.10,364.88 448.40,364.34 448.70,365.11 449.00,363.68 449.30,364.10 449.60,364.72 449.90,363.67 450.20,364.29 450.50,365.41 450.80,364.33 451.10,363.90 451.40,365.10 451.70,363.41 452.00,364.01 452.30,365.06 452.60,363.68 452.90,364.45 453.20,364.21 453.50,365.44 453.80,363.20 454.10,363.86 454.40,364.02 454.70,364.54 455.00,364.68 455.30,364.58 455.60,365.33 455.90,364.77 456.20,363.31 456.50,363.18 456.80,363.86 457.10,363.87 457.40,363.94 457.70,365.06 458.00,363.80 458.30,365.10 458.60,365.13 458.90,364.30 459.20,363.88 459.50,365.24 459.80,363.64 460.10,364.63 460.40,364.48 460.70,365.25 461.00,364.55 461.30,364.29 461.60,365.07 461.90,363.99 462.20,364.70 462.50,364.38 462.80,364.31 463.10,363.17 463.40,364.28 463.70,363.52 464.00,364.68 464.30,366.06 464.60,364.11 464.90,364.97 465.20,365.04 465.50,363.42 465.80,364.82 466.10,364.05 466.40,363.96 466.70,364.90 467.00,363.87 467.30,363.90 467.60,364.86 467.90,365.25 468.20,364.34 468.50,364.79 468.80,363.22 469.10,364.21 469.40,364.62 469.70,363.66 470.00,364.77 470.30,364.50 470.60,364.51 470.90,365.18 471.20,365.24 471.50,363.38 471.80,363.80 472.10,364.70 472.40,364.07 472.70,365.79 473.00,365.12 473.30,363.68 473.60,363.73 473.90,363.35 474.20,364.57 474.50,363.84 474.80,363.79 475.10,363.35 475.40,364.96 475.70,363.74 476.00,363.62 476.30,362.88 476.60,364.60 476.90,364.47 477.20,364.85 477.50,365.37 477.80,364.45 478.10,364.04 478.40,363.10 478.70,364.38 479.00,364.56 479.30,364.49 479.60,362.84 479.90,365.23 480.20,364.76 480.50,364.01 480.80,364.09 481.10,362.86 481.40,364.54 481.70,364.04 482.00,363.45 482.30,365.78 482.60,365.46 482.90,364.84 483.20,364.28 483.50,363.37 483.80,364.29 484.10,364.65 484.40,364.22 484.70,364.27 485.00,364.44 485.30,363.44" fill="none" stroke="#86a443" stroke-width="1.6" stroke-linejoin="round" stroke-linecap="round" opacity="1.0"/>
<polyline points="518.85,360.05 519.15,360.03 519.45,360.28 519.75,360.69 520.05,360.14 520.35,359.86 520.65,359.97 520.95,360.87 521.25,360.13 521.55,359.84 521.85,360.14 522.15,360.35 522.45,360.35 522.75,360.90 523.05,360.18 523.35,359.71 523.65,360.78 523.95,360.35 524.25,360.36 524.55,360.01 524.85,359.89 525.15,360.80 525.45,359.72 525.75,340.13 526.05,306.28 526.35,295.84 526.65,289.95 526.95,286.58 527.25,286.56 527.55,287.76 527.85,288.20 528.15,290.08 528.45,292.49 528.75,294.70 529.05,297.06 529.35,300.50 529.65,304.24 529.95,308.17 530.25,310.93 530.55,315.58 530.85,319.63 531.15,324.26 531.45,326.51 531.75,330.95 532.05,334.65 532.35,338.62 532.65,340.14 532.95,342.15 533.25,343.99 533.55,345.46 533.85,346.59 534.15,346.98 534.45,349.05 534.75,348.95 535.05,350.16 535.35,351.08 535.65,351.26 535.95,352.15 536.25,351.87 536.55,352.71 536.85,352.86 537.15,352.78 537.45,353.33 537.75,353.44 538.05,354.36 538.35,353.90 538.65,353.79 538.95,354.41 539.25,354.46 539.55,355.61 539.85,355.40 540.15,354.88 540.45,354.59 540.75,355.78 541.05,355.10 541.35,354.41 541.65,355.23 541.95,354.47 542.25,355.59 542.55,355.29 542.85,354.71 543.15,354.90 543.45,354.28 543.75,355.69 544.05,355.02 544.35,355.17 544.65,355.33 544.95,354.59 545.25,354.43 545.55,354.36 545.85,354.54 546.15,353.98 546.45,354.04 546.75,354.16 547.05,353.98 547.35,353.58 547.65,353.25 547.95,353.32 548.25,353.66 548.55,353.80 548.85,353.61 549.15,352.94 549.45,353.15 549.75,352.91 550.05,353.18 550.35,352.16 550.65,352.75 550.95,352.28 551.25,351.91 551.55,352.74 551.85,352.32 552.15,350.85 552.45,351.31 552.75,351.36 553.05,351.32 553.35,350.25 553.65,350.69 553.95,350.42 554.25,349.86 554.55,350.27 554.85,349.58 555.15,349.58 555.45,349.05 555.75,349.42 556.05,349.25 556.35,348.77 556.65,348.40 556.95,348.56 557.25,348.50 557.55,348.31 557.85,348.00 558.15,348.34 558.45,347.68 558.75,347.69 559.05,348.13 559.35,347.07 559.65,347.27 559.95,347.23 560.25,346.69 560.55,346.32 560.85,346.34 561.15,345.76 561.45,346.45 561.75,346.29 562.05,346.46 562.35,346.78 562.65,346.00 562.95,345.88 563.25,345.87 563.55,345.37 563.85,344.85 564.15,345.02 564.45,345.25 564.75,345.06 565.05,344.96 565.35,344.59 565.65,344.72 565.95,344.46 566.25,344.40 566.55,343.85 566.85,343.90 567.15,344.11 567.45,344.57 567.75,343.91 568.05,343.99 568.35,344.37 568.65,343.64 568.95,343.30 569.25,342.55 569.55,343.06 569.85,343.54 570.15,342.58 570.45,342.71 570.75,342.66 571.05,342.70 571.35,342.10 571.65,342.69 571.95,342.50 572.25,341.77 572.55,340.96 572.85,342.17 573.15,341.88 573.45,341.72 573.75,340.90 574.05,341.17 574.35,341.26 574.65,341.35 574.95,341.11 575.25,341.40 575.55,340.49 575.85,340.35 576.15,340.68 576.45,341.06 576.75,339.99 577.05,339.83 577.35,340.93 577.65,339.89 577.95,340.11 578.25,340.49 578.55,339.48 578.85,339.80 579.15,339.85 579.45,339.50 579.75,339.34 580.05,339.11 580.35,339.11 580.65,339.57 580.95,338.23 581.25,339.14 581.55,338.89 581.85,338.83 582.15,338.74 582.45,338.62 582.75,338.78 583.05,337.71 583.35,338.67 583.65,338.57 583.95,338.25 584.25,338.11 584.55,338.42 584.85,338.76 585.15,338.53 585.45,338.35 585.75,337.07 586.05,338.34 586.35,337.65 586.65,337.30 586.95,337.58 587.25,337.85 587.55,336.67 587.85,337.54 588.15,336.98 588.45,337.15 588.75,336.93 589.05,337.25 589.35,336.93 589.65,336.57 589.95,336.44 590.25,336.50 590.55,336.85 590.85,336.29 591.15,336.81 591.45,336.91 591.75,336.48 592.05,335.56 592.35,336.41 592.65,336.40 592.95,336.48 593.25,336.18 593.55,336.55 593.85,336.52 594.15,335.94 594.45,336.15 594.75,336.51 595.05,335.99 595.35,335.85 595.65,336.38 595.95,334.83 596.25,336.06 596.55,335.35 596.85,334.61 597.15,335.71 597.45,335.84 597.75,335.23 598.05,335.41 598.35,335.56 598.65,334.94 598.95,335.17 599.25,335.27 599.55,334.69 599.85,334.86 600.15,334.51 600.45,334.42 600.75,334.70 601.05,334.84 601.35,334.72 601.65,334.83 601.95,334.82 602.25,334.76 602.55,334.24 602.85,334.28 603.15,333.87 603.45,334.90 603.75,334.60 604.05,334.11 604.35,334.16 604.65,334.45 604.95,333.77 605.25,333.89 605.55,333.70 605.85,333.96 606.15,334.41 606.45,333.71 606.75,334.31 607.05,333.95 607.35,333.68 607.65,334.05 607.95,333.29 608.25,333.73 608.55,333.69 608.85,334.42 609.15,333.42 609.45,333.64 609.75,333.06 610.05,333.12 610.35,333.69 610.65,334.04 610.95,333.84 611.25,332.81 611.55,332.94 611.85,332.81 612.15,333.22 612.45,333.63 612.75,333.52 613.05,333.20 613.35,333.15 613.65,332.25 613.95,331.77 614.25,332.91 614.55,332.34 614.85,332.93 615.15,332.53 615.45,333.16 615.75,332.64 616.05,332.49 616.35,332.76 616.65,333.18 616.95,332.60 617.25,333.23 617.55,332.25 617.85,332.21 618.15,332.52 618.45,332.61 618.75,332.82 619.05,332.54 619.35,332.52 619.65,331.99 619.95,332.96 620.25,332.32 620.55,332.55 620.85,332.49 621.15,333.14 621.45,331.77 621.75,332.36 622.05,332.88 622.35,331.49 622.65,332.12 622.95,332.26 623.25,332.32 623.55,331.80 623.85,332.51 624.15,331.76 624.45,332.66 624.75,332.11 625.05,331.69 625.35,332.62 625.65,332.19 625.95,332.28 626.25,332.38 626.55,331.91 626.85,331.84 627.15,332.15 627.45,332.50 627.75,332.13 628.05,331.74 628.35,332.57 628.65,331.63 628.95,331.75 629.25,331.75 629.55,331.81 629.85,331.99 630.15,332.02 630.45,331.50 630.75,331.50 631.05,332.09 631.35,332.06 631.65,331.40 631.95,332.12 632.25,331.65 632.55,331.82 632.85,331.78 633.15,331.77 633.45,331.48 633.75,331.65 634.05,331.40 634.35,331.62 634.65,331.44 634.95,331.36 635.25,331.44 635.55,331.66 635.85,331.55 636.15,331.42 636.45,331.32 636.75,331.59 637.05,332.02 637.35,331.47 637.65,331.56 637.95,331.08 638.25,331.20 638.55,331.25 638.85,331.95 639.15,331.60 639.45,331.57 639.75,331.27 640.05,331.33 640.35,331.50 640.65,331.28 640.95,330.82 641.25,331.19 641.55,331.18 641.85,330.62 642.15,330.45 642.45,331.09" fill="none" stroke="#c23a82" stroke-width="2.0" stroke-linejoin="round" stroke-linecap="round" opacity="1.0"/>
<polyline points="518.40,359.69 518.70,359.96 519.00,359.88 519.30,359.88 519.60,359.98 519.90,360.07 520.20,359.95 520.50,359.94 520.80,359.62 521.10,360.04 521.40,359.82 521.70,360.15 522.00,360.23 522.30,359.49 522.60,360.23 522.90,359.73 523.20,359.64 523.50,359.84 523.80,359.97 524.10,360.15 524.40,360.61 524.70,359.53 525.00,359.81 525.30,340.09 525.60,306.19 525.90,294.56 526.20,289.43 526.50,286.47 526.80,286.06 527.10,286.64 527.40,288.53 527.70,290.10 528.00,292.20 528.30,294.00 528.60,296.47 528.90,300.57 529.20,303.99 529.50,307.69 529.80,311.14 530.10,314.92 530.40,319.05 530.70,323.45 531.00,326.82 531.30,330.65 531.60,334.43 531.90,337.82 532.20,340.75 532.50,341.86 532.80,344.18 533.10,344.93 533.40,346.07 533.70,346.98 534.00,348.23 534.30,349.27 534.60,349.43 534.90,350.36 535.20,350.98 535.50,351.47 535.80,351.82 536.10,352.52 536.40,352.90 536.70,353.06 537.00,353.11 537.30,353.53 537.60,353.92 537.90,353.97 538.20,354.26 538.50,354.10 538.80,354.46 539.10,354.50 539.40,354.27 539.70,354.45 540.00,354.37 540.30,354.64 540.60,354.62 540.90,354.72 541.20,354.74 541.50,354.63 541.80,354.92 542.10,354.53 542.40,354.81 542.70,354.22 543.00,354.51 543.30,354.89 543.60,354.60 543.90,354.66 544.20,354.27 544.50,354.03 544.80,354.04 545.10,354.20 545.40,353.98 545.70,354.40 546.00,354.31 546.30,353.93 546.60,353.38 546.90,353.49 547.20,353.22 547.50,353.07 547.80,353.00 548.10,352.97 548.40,352.77 548.70,352.69 549.00,352.11 549.30,352.29 549.60,352.44 549.90,352.25 550.20,351.63 550.50,351.85 550.80,351.63 551.10,351.13 551.40,351.30 551.70,351.20 552.00,350.90 552.30,351.16 552.60,350.39 552.90,350.41 553.20,350.29 553.50,350.10 553.80,349.68 554.10,349.74 554.40,349.50 554.70,349.82 555.00,349.39 555.30,348.88 555.60,349.05 555.90,348.31 556.20,348.44 556.50,348.61 556.80,347.59 557.10,348.16 557.40,347.88 557.70,347.45 558.00,347.67 558.30,347.02 558.60,347.41 558.90,347.04 559.20,347.15 559.50,346.48 559.80,346.78 560.10,346.70 560.40,346.12 560.70,346.63 561.00,345.82 561.30,346.50 561.60,346.34 561.90,345.51 562.20,346.00 562.50,345.55 562.80,345.43 563.10,345.30 563.40,344.65 563.70,344.96 564.00,344.77 564.30,344.86 564.60,344.05 564.90,344.47 565.20,344.61 565.50,344.07 565.80,344.26 566.10,344.14 566.40,343.82 566.70,343.84 567.00,343.86 567.30,343.15 567.60,343.57 567.90,343.23 568.20,343.19 568.50,342.96 568.80,342.81 569.10,343.02 569.40,342.83 569.70,342.53 570.00,342.09 570.30,342.48 570.60,342.40 570.90,342.66 571.20,341.87 571.50,341.98 571.80,341.76 572.10,341.04 572.40,341.41 572.70,341.59 573.00,341.20 573.30,341.67 573.60,341.27 573.90,340.95 574.20,341.18 574.50,340.72 574.80,340.96 575.10,340.66 575.40,340.60 575.70,340.22 576.00,340.28 576.30,340.25 576.60,340.10 576.90,340.10 577.20,340.28 577.50,339.69 577.80,339.45 578.10,339.71 578.40,339.30 578.70,339.70 579.00,339.12 579.30,338.93 579.60,339.12 579.90,338.66 580.20,338.73 580.50,338.93 580.80,338.21 581.10,338.63 581.40,338.35 581.70,338.38 582.00,338.53 582.30,338.30 582.60,338.28 582.90,337.92 583.20,338.31 583.50,338.00 583.80,337.33 584.10,338.05 584.40,337.33 584.70,337.86 585.00,337.25 585.30,337.54 585.60,337.61 585.90,337.21 586.20,337.28 586.50,337.27 586.80,336.60 587.10,337.43 587.40,336.85 587.70,336.94 588.00,336.79 588.30,336.92 588.60,336.64 588.90,336.25 589.20,336.70 589.50,335.85 589.80,336.57 590.10,335.85 590.40,336.50 590.70,336.31 591.00,336.10 591.30,335.91 591.60,335.97 591.90,335.70 592.20,336.00 592.50,335.90 592.80,335.96 593.10,335.44 593.40,335.45 593.70,335.41 594.00,334.99 594.30,335.09 594.60,335.46 594.90,335.63 595.20,335.14 595.50,335.01 595.80,335.52 596.10,334.64 596.40,335.28 596.70,334.56 597.00,335.05 597.30,334.87 597.60,334.98 597.90,334.83 598.20,334.63 598.50,334.62 598.80,334.50 599.10,334.83 599.40,334.27 599.70,334.73 600.00,334.36 600.30,334.08 600.60,334.66 600.90,333.99 601.20,333.94 601.50,334.17 601.80,334.19 602.10,334.36 602.40,334.32 602.70,333.86 603.00,333.92 603.30,333.82 603.60,333.41 603.90,333.75 604.20,333.30 604.50,333.69 604.80,333.43 605.10,333.48 605.40,333.73 605.70,333.66 606.00,333.83 606.30,333.11 606.60,333.52 606.90,333.71 607.20,333.06 607.50,333.06 607.80,333.15 608.10,333.34 608.40,332.95 608.70,333.38 609.00,332.97 609.30,332.33 609.60,333.17 609.90,333.06 610.20,333.07 610.50,333.40 610.80,332.90 611.10,332.83 611.40,332.96 611.70,332.64 612.00,332.77 612.30,332.68 612.60,332.87 612.90,332.63 613.20,332.59 613.50,332.39 613.80,333.09 614.10,332.75 614.40,332.81 614.70,332.91 615.00,332.79 615.30,332.53 615.60,332.52 615.90,333.18 616.20,332.24 616.50,332.33 616.80,332.66 617.10,332.50 617.40,332.64 617.70,331.94 618.00,332.07 618.30,332.31 618.60,331.97 618.90,332.74 619.20,332.11 619.50,331.99 619.80,332.15 620.10,332.28 620.40,332.56 620.70,332.22 621.00,332.01 621.30,332.21 621.60,332.23 621.90,332.00 622.20,332.43 622.50,331.91 622.80,331.65 623.10,332.13 623.40,332.11 623.70,331.46 624.00,331.92 624.30,331.51 624.60,331.72 624.90,331.75 625.20,331.62 625.50,331.82 625.80,331.72 626.10,331.60 626.40,331.63 626.70,331.81 627.00,331.54 627.30,331.65 627.60,331.72 627.90,331.82 628.20,331.09 628.50,331.71 628.80,331.15 629.10,331.70 629.40,331.74 629.70,331.72 630.00,331.51 630.30,331.17 630.60,331.45 630.90,331.23 631.20,331.69 631.50,331.53 631.80,331.58 632.10,331.33 632.40,331.02 632.70,331.37 633.00,331.36 633.30,331.72 633.60,331.40 633.90,331.37 634.20,330.92 634.50,331.11 634.80,330.83 635.10,331.77 635.40,331.79 635.70,331.34 636.00,331.39 636.30,331.17 636.60,331.13 636.90,330.74 637.20,331.19 637.50,330.93 637.80,331.36 638.10,331.07 638.40,331.06 638.70,331.15 639.00,331.02 639.30,330.86 639.60,330.87 639.90,330.63 640.20,330.93 640.50,330.74 640.80,330.90 641.10,330.79 641.40,330.94 641.70,330.92 642.00,330.85" fill="none" stroke="#7f9a3e" stroke-width="1.9" stroke-linejoin="round" stroke-linecap="round" opacity="1.0"/>
<text x="40.26" y="119.85" font-size="13.20" fill="#111111" stroke="#111111" stroke-width="0.25" textLength="19.43" lengthAdjust="spacingAndGlyphs">0.1</text>
<text x="91.77" y="119.85" font-size="13.20" fill="#111111" stroke="#111111" stroke-width="0.25" textLength="16.28" lengthAdjust="spacingAndGlyphs">10</text>
<text x="139.60" y="119.85" font-size="13.20" fill="#111111" stroke="#111111" stroke-width="0.25" textLength="24.50" lengthAdjust="spacingAndGlyphs">40k</text>
<text x="204.41" y="119.85" font-size="13.20" fill="#111111" stroke="#111111" stroke-width="0.25" textLength="19.84" lengthAdjust="spacingAndGlyphs">0.1</text>
<text x="256.36" y="119.85" font-size="13.20" fill="#111111" stroke="#111111" stroke-width="0.25" textLength="16.08" lengthAdjust="spacingAndGlyphs">10</text>
<text x="303.57" y="119.85" font-size="13.20" fill="#111111" stroke="#111111" stroke-width="0.25" textLength="24.50" lengthAdjust="spacingAndGlyphs">40k</text>
<text x="361.45" y="119.85" font-size="13.20" fill="#111111" stroke="#111111" stroke-width="0.25" textLength="19.89" lengthAdjust="spacingAndGlyphs">0.1</text>
<text x="413.19" y="119.85" font-size="13.20" fill="#111111" stroke="#111111" stroke-width="0.25" textLength="16.80" lengthAdjust="spacingAndGlyphs">10</text>
<text x="465.40" y="119.85" font-size="13.20" fill="#111111" stroke="#111111" stroke-width="0.25" textLength="16.51" lengthAdjust="spacingAndGlyphs">5k</text>
<text x="520.84" y="119.85" font-size="13.20" fill="#111111" stroke="#111111" stroke-width="0.25" textLength="20.11" lengthAdjust="spacingAndGlyphs">0.1</text>
<text x="580.63" y="119.85" font-size="13.20" fill="#111111" stroke="#111111" stroke-width="0.25" textLength="15.86" lengthAdjust="spacingAndGlyphs">10</text>
<text x="627.76" y="119.85" font-size="13.20" fill="#111111" stroke="#111111" stroke-width="0.25" textLength="23.24" lengthAdjust="spacingAndGlyphs">40k</text>
<text x="44.52" y="249.60" font-size="13.70" fill="#111111" stroke="#111111" stroke-width="0.25" textLength="35.48" lengthAdjust="spacingAndGlyphs">572.4</text>
<text x="119.18" y="249.60" font-size="13.70" fill="#111111" stroke="#111111" stroke-width="0.25" textLength="35.68" lengthAdjust="spacingAndGlyphs">612.4</text>
<text x="210.48" y="250.40" font-size="13.70" fill="#111111" stroke="#111111" stroke-width="0.25" textLength="35.72" lengthAdjust="spacingAndGlyphs">572.4</text>
<text x="285.95" y="250.40" font-size="13.70" fill="#111111" stroke="#111111" stroke-width="0.25" textLength="35.49" lengthAdjust="spacingAndGlyphs">612.4</text>
<text x="364.19" y="252.20" font-size="13.70" fill="#111111" stroke="#111111" stroke-width="0.25" textLength="36.11" lengthAdjust="spacingAndGlyphs">567.4</text>
<text x="460.34" y="252.20" font-size="13.70" fill="#111111" stroke="#111111" stroke-width="0.25" textLength="35.77" lengthAdjust="spacingAndGlyphs">607.4</text>
<text x="523.38" y="250.35" font-size="13.70" fill="#111111" stroke="#111111" stroke-width="0.25" textLength="35.29" lengthAdjust="spacingAndGlyphs">567.4</text>
<text x="610.36" y="250.35" font-size="13.70" fill="#111111" stroke="#111111" stroke-width="0.25" textLength="35.65" lengthAdjust="spacingAndGlyphs">607.4</text>
<text x="48.54" y="384.80" font-size="13.70" fill="#111111" stroke="#111111" stroke-width="0.25" textLength="8.12" lengthAdjust="spacingAndGlyphs">0</text>
<text x="97.68" y="384.80" font-size="13.70" fill="#111111" stroke="#111111" stroke-width="0.25" textLength="15.39" lengthAdjust="spacingAndGlyphs">10</text>
<text x="144.96" y="384.80" font-size="13.70" fill="#111111" stroke="#111111" stroke-width="0.25" textLength="15.87" lengthAdjust="spacingAndGlyphs">20</text>
<text x="204.91" y="384.80" font-size="13.70" fill="#111111" stroke="#111111" stroke-width="0.25" textLength="8.52" lengthAdjust="spacingAndGlyphs">0</text>
<text x="252.82" y="384.80" font-size="13.70" fill="#111111" stroke="#111111" stroke-width="0.25" textLength="16.74" lengthAdjust="spacingAndGlyphs">10</text>
<text x="301.04" y="384.80" font-size="13.70" fill="#111111" stroke="#111111" stroke-width="0.25" textLength="16.64" lengthAdjust="spacingAndGlyphs">20</text>
<text x="360.29" y="384.80" font-size="13.70" fill="#111111" stroke="#111111" stroke-width="0.25" textLength="9.26" lengthAdjust="spacingAndGlyphs">0</text>
<text x="409.14" y="384.80" font-size="13.70" fill="#111111" stroke="#111111" stroke-width="0.25" textLength="16.32" lengthAdjust="spacingAndGlyphs">10</text>
<text x="457.22" y="384.80" font-size="13.70" fill="#111111" stroke="#111111" stroke-width="0.25" textLength="16.81" lengthAdjust="spacingAndGlyphs">20</text>
<text x="522.20" y="384.80" font-size="13.70" fill="#111111" stroke="#111111" stroke-width="0.25" textLength="8.70" lengthAdjust="spacingAndGlyphs">0</text>
<text x="570.57" y="384.80" font-size="13.70" fill="#111111" stroke="#111111" stroke-width="0.25" textLength="17.02" lengthAdjust="spacingAndGlyphs">10</text>
<text x="619.06" y="384.80" font-size="13.70" fill="#111111" stroke="#111111" stroke-width="0.25" textLength="15.88" lengthAdjust="spacingAndGlyphs">20</text>
<text x="298.87" y="131.43" font-size="13.90" fill="#111111" stroke="#111111" stroke-width="0.25" textLength="92.59" lengthAdjust="spacingAndGlyphs">Time Gate(&#956;s)</text>
<text x="293.68" y="264.02" font-size="13.22" fill="#111111" stroke="#111111" stroke-width="0.25" textLength="107.21" lengthAdjust="spacingAndGlyphs">Wavelength(nm)</text>
<text x="312.94" y="395.67" font-size="13.55" fill="#111111" stroke="#111111" stroke-width="0.25" textLength="61.30" lengthAdjust="spacingAndGlyphs">Time (&#956;s)</text>
<text x="162.30" y="25.28" font-size="13.97" fill="#111111" stroke="#111111" stroke-width="0.3" textLength="17.77" lengthAdjust="spacingAndGlyphs">(a)</text>
<text x="313.55" y="25.49" font-size="13.70" fill="#111111" stroke="#111111" stroke-width="0.14" textLength="19.46" lengthAdjust="spacingAndGlyphs">(b)</text>
<text x="474.52" y="25.56" font-size="13.92" fill="#111111" stroke="#111111" stroke-width="0.14" textLength="18.53" lengthAdjust="spacingAndGlyphs">(c)</text>
<text x="634.31" y="25.75" font-size="13.74" fill="#111111" stroke="#111111" stroke-width="0.14" textLength="18.43" lengthAdjust="spacingAndGlyphs">(d)</text>
<text x="157.80" y="154.38" font-size="15.13" fill="#111111" stroke="#111111" stroke-width="0.14" textLength="18.24" lengthAdjust="spacingAndGlyphs">(e)</text>
<text x="307.83" y="151.67" font-size="13.75" fill="#111111" stroke="#111111" stroke-width="0.14" textLength="16.33" lengthAdjust="spacingAndGlyphs">(f)</text>
<text x="467.21" y="152.77" font-size="14.11" fill="#111111" stroke="#111111" stroke-width="0.14" textLength="18.79" lengthAdjust="spacingAndGlyphs">(g)</text>
<text x="631.75" y="153.22" font-size="13.86" fill="#111111" stroke="#111111" stroke-width="0.14" textLength="19.17" lengthAdjust="spacingAndGlyphs">(h)</text>
<text x="168.84" y="287.29" font-size="14.13" fill="#111111" stroke="#111111" stroke-width="0.3" textLength="15.71" lengthAdjust="spacingAndGlyphs">(i)</text>
<text x="316.32" y="286.48" font-size="15.41" fill="#111111" stroke="#111111" stroke-width="0.14" textLength="15.82" lengthAdjust="spacingAndGlyphs">(j)</text>
<text x="469.20" y="289.12" font-size="13.84" fill="#111111" stroke="#111111" stroke-width="0.14" textLength="19.00" lengthAdjust="spacingAndGlyphs">(k)</text>
<text x="635.80" y="287.63" font-size="14.11" fill="#111111" stroke="#111111" stroke-width="0.14" textLength="15.80" lengthAdjust="spacingAndGlyphs">(l)</text>
<text x="161.52" y="168.89" font-size="9.36" fill="#8a5a30" stroke="#8a5a30" stroke-width="0.05" textLength="17.38" lengthAdjust="spacingAndGlyphs">(e1)</text>
<text x="162.43" y="182.55" font-size="9.21" fill="#5a5aaa" stroke="#5a5aaa" stroke-width="0.05" textLength="17.24" lengthAdjust="spacingAndGlyphs">(e2)</text>
<text x="160.04" y="192.54" font-size="9.33" fill="#c03a90" stroke="#c03a90" stroke-width="0.05" textLength="17.11" lengthAdjust="spacingAndGlyphs">(e3)</text>
<text x="162.28" y="213.21" font-size="9.68" fill="#60aee6" stroke="#60aee6" stroke-width="0.05" textLength="17.05" lengthAdjust="spacingAndGlyphs">(e4)</text>
<text x="317.12" y="168.92" font-size="9.38" fill="#8a5a30" stroke="#8a5a30" stroke-width="0.05" textLength="16.27" lengthAdjust="spacingAndGlyphs">(f1)</text>
<text x="319.68" y="184.72" font-size="9.48" fill="#5a5aaa" stroke="#5a5aaa" stroke-width="0.05" textLength="16.25" lengthAdjust="spacingAndGlyphs">(f2)</text>
<text x="322.50" y="196.13" font-size="9.01" fill="#c03a90" stroke="#c03a90" stroke-width="0.05" textLength="16.09" lengthAdjust="spacingAndGlyphs">(f3)</text>
<text x="322.62" y="207.37" font-size="9.45" fill="#60aee6" stroke="#60aee6" stroke-width="0.05" textLength="16.57" lengthAdjust="spacingAndGlyphs">(f4)</text>
<text x="476.07" y="173.96" font-size="9.54" fill="#8a5a30" stroke="#8a5a30" stroke-width="0.05" textLength="17.89" lengthAdjust="spacingAndGlyphs">(g1)</text>
<text x="478.27" y="190.88" font-size="9.02" fill="#5a5aaa" stroke="#5a5aaa" stroke-width="0.05" textLength="17.65" lengthAdjust="spacingAndGlyphs">(g2)</text>
<text x="478.30" y="203.29" font-size="9.22" fill="#c03a90" stroke="#c03a90" stroke-width="0.05" textLength="17.52" lengthAdjust="spacingAndGlyphs">(g3)</text>
<text x="477.85" y="218.37" font-size="9.31" fill="#60aee6" stroke="#60aee6" stroke-width="0.05" textLength="17.61" lengthAdjust="spacingAndGlyphs">(g4)</text>
<text x="633.72" y="171.73" font-size="9.51" fill="#8a5a30" stroke="#8a5a30" stroke-width="0.05" textLength="17.68" lengthAdjust="spacingAndGlyphs">(h1)</text>
<text x="633.86" y="185.40" font-size="9.33" fill="#5a5aaa" stroke="#5a5aaa" stroke-width="0.05" textLength="17.88" lengthAdjust="spacingAndGlyphs">(h2)</text>
<text x="633.76" y="199.63" font-size="9.28" fill="#c03a90" stroke="#c03a90" stroke-width="0.05" textLength="17.98" lengthAdjust="spacingAndGlyphs">(h3)</text>
<text x="633.87" y="216.26" font-size="9.49" fill="#60aee6" stroke="#60aee6" stroke-width="0.05" textLength="17.82" lengthAdjust="spacingAndGlyphs">(h4)</text>
<text x="164.45" y="323.37" font-size="9.03" fill="#5560b8" stroke="#5560b8" stroke-width="0.05" textLength="15.52" lengthAdjust="spacingAndGlyphs">(i1)</text>
<text x="170.29" y="335.87" font-size="9.09" fill="#c03a90" stroke="#c03a90" stroke-width="0.05" textLength="16.08" lengthAdjust="spacingAndGlyphs">(i3)</text>
<text x="170.50" y="354.07" font-size="9.54" fill="#8ab84a" stroke="#8ab84a" stroke-width="0.05" textLength="15.82" lengthAdjust="spacingAndGlyphs">(i2)</text>
<text x="303.28" y="324.19" font-size="9.28" fill="#5560b8" stroke="#5560b8" stroke-width="0.05" textLength="15.29" lengthAdjust="spacingAndGlyphs">(j1)</text>
<text x="303.34" y="345.49" font-size="8.94" fill="#c03a90" stroke="#c03a90" stroke-width="0.05" textLength="15.22" lengthAdjust="spacingAndGlyphs">(j3)</text>
<text x="303.34" y="361.60" font-size="9.33" fill="#8ab84a" stroke="#8ab84a" stroke-width="0.05" textLength="15.12" lengthAdjust="spacingAndGlyphs">(j2)</text>
<text x="431.61" y="354.55" font-size="9.10" fill="#8ab84a" stroke="#8ab84a" stroke-width="0.05" textLength="17.75" lengthAdjust="spacingAndGlyphs">(k1)</text>
<text x="452.45" y="354.38" font-size="9.56" fill="#c03a90" stroke="#c03a90" stroke-width="0.05" textLength="17.04" lengthAdjust="spacingAndGlyphs">(k2)</text>
<text x="473.13" y="354.37" font-size="9.94" fill="#5560b8" stroke="#5560b8" stroke-width="0.05" textLength="17.53" lengthAdjust="spacingAndGlyphs">(k3)</text>
<text x="620.97" y="325.48" font-size="8.75" fill="#8ab84a" stroke="#8ab84a" stroke-width="0.05" textLength="15.27" lengthAdjust="spacingAndGlyphs">(l1)</text>
<text x="620.95" y="345.37" font-size="9.00" fill="#c03a90" stroke="#c03a90" stroke-width="0.05" textLength="15.14" lengthAdjust="spacingAndGlyphs">(l2)</text>
<g fill="#56a0dc"><rect x="0" y="0" width="670" height="1.55"/><rect x="0" y="0" width="1.65" height="404"/><rect x="668.35" y="0" width="1.65" height="404"/><rect x="0" y="402.2" width="670" height="1.8"/></g>
</svg></body></html>
